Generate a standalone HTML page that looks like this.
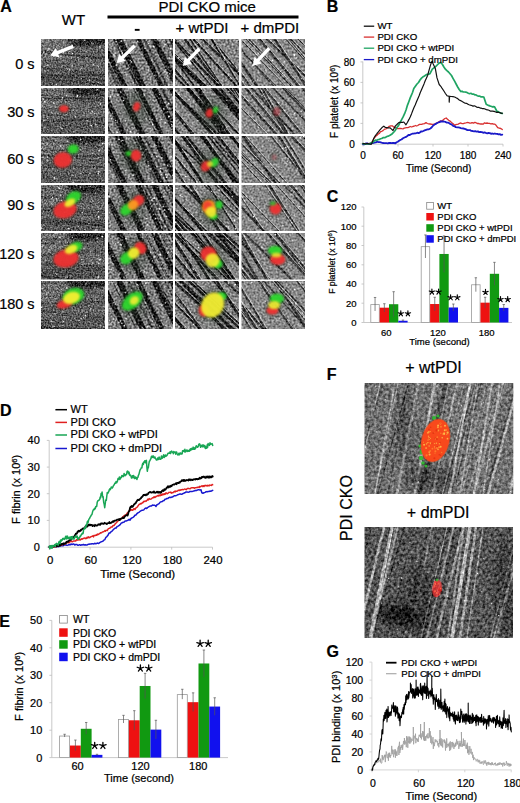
<!DOCTYPE html>
<html><head><meta charset="utf-8"><style>
html,body{margin:0;padding:0;background:#fff;overflow:hidden;}
svg{display:block;}
text{font-family:"Liberation Sans",sans-serif;stroke:#000;stroke-width:0.22px;}
</style></head><body>
<svg width="520" height="803" viewBox="0 0 520 803">
<defs>
<filter id="spk" x="0" y="0" width="1" height="1" color-interpolation-filters="sRGB">
<feTurbulence type="fractalNoise" baseFrequency="0.55" numOctaves="2" seed="4"/>
<feColorMatrix type="matrix" values="0 0 0 0 1  0 0 0 0 1  0 0 0 0 1  9 0 0 0 -5.2"/>
</filter>
<filter id="dspk" x="0" y="0" width="1" height="1" color-interpolation-filters="sRGB">
<feTurbulence type="fractalNoise" baseFrequency="0.35" numOctaves="2" seed="9"/>
<feColorMatrix type="matrix" values="0 0 0 0 0  0 0 0 0 0  0 0 0 0 0  -7 0 0 0 3.4"/>
</filter>
<filter id="bl" x="-50%" y="-50%" width="200%" height="200%"><feGaussianBlur stdDeviation="0.9"/></filter>
<filter id="bl2" x="-50%" y="-50%" width="200%" height="200%"><feGaussianBlur stdDeviation="0.6"/></filter>
<filter id="bgr" x="-20%" y="-20%" width="140%" height="140%" color-interpolation-filters="sRGB">
<feTurbulence type="fractalNoise" baseFrequency="0.7" numOctaves="2" seed="21" result="n"/>
<feColorMatrix in="n" type="matrix" values="1.2 0 0 0 -0.1  1.2 0 0 0 -0.1  1.2 0 0 0 -0.1  0 0 0 0 1" result="g"/>
<feBlend in="SourceGraphic" in2="g" mode="soft-light" result="c"/>
<feComposite in="c" in2="SourceGraphic" operator="in"/>
</filter>
<filter id="bl3" x="-50%" y="-50%" width="200%" height="200%"><feGaussianBlur stdDeviation="3"/></filter>
<filter id="gr0" x="0" y="0" width="1" height="1" color-interpolation-filters="sRGB">
<feTurbulence type="fractalNoise" baseFrequency="0.6" numOctaves="2" seed="3" result="n"/>
<feColorMatrix in="n" type="matrix" values="1 0 0 0 0  1 0 0 0 0  1 0 0 0 0  0 0 0 0 1" result="g"/>
<feComposite in="SourceGraphic" in2="g" operator="arithmetic" k1="0" k2="1" k3="0.85" k4="-0.425" result="c"/>
<feGaussianBlur in="c" stdDeviation="0.5"/>
</filter>
<filter id="gr1" x="0" y="0" width="1" height="1" color-interpolation-filters="sRGB">
<feTurbulence type="fractalNoise" baseFrequency="0.5" numOctaves="2" seed="5" result="n"/>
<feColorMatrix in="n" type="matrix" values="1 0 0 0 0  1 0 0 0 0  1 0 0 0 0  0 0 0 0 1" result="g"/>
<feComposite in="SourceGraphic" in2="g" operator="arithmetic" k1="0" k2="1" k3="1.0" k4="-0.5" result="c"/>
<feGaussianBlur in="c" stdDeviation="0.5"/>
</filter>
<filter id="gr2" x="0" y="0" width="1" height="1" color-interpolation-filters="sRGB">
<feTurbulence type="fractalNoise" baseFrequency="0.5" numOctaves="2" seed="6" result="n"/>
<feColorMatrix in="n" type="matrix" values="1 0 0 0 0  1 0 0 0 0  1 0 0 0 0  0 0 0 0 1" result="g"/>
<feComposite in="SourceGraphic" in2="g" operator="arithmetic" k1="0" k2="1" k3="0.9" k4="-0.45" result="c"/>
<feGaussianBlur in="c" stdDeviation="0.5"/>
</filter>
<filter id="gr3" x="0" y="0" width="1" height="1" color-interpolation-filters="sRGB">
<feTurbulence type="fractalNoise" baseFrequency="0.5" numOctaves="2" seed="7" result="n"/>
<feColorMatrix in="n" type="matrix" values="1 0 0 0 0  1 0 0 0 0  1 0 0 0 0  0 0 0 0 1" result="g"/>
<feComposite in="SourceGraphic" in2="g" operator="arithmetic" k1="0" k2="1" k3="0.8" k4="-0.4" result="c"/>
<feGaussianBlur in="c" stdDeviation="0.5"/>
</filter>
<filter id="grF1" x="0" y="0" width="1" height="1" color-interpolation-filters="sRGB">
<feTurbulence type="fractalNoise" baseFrequency="0.35" numOctaves="2" seed="8" result="n"/>
<feColorMatrix in="n" type="matrix" values="1 0 0 0 0  1 0 0 0 0  1 0 0 0 0  0 0 0 0 1" result="g"/>
<feComposite in="SourceGraphic" in2="g" operator="arithmetic" k1="0" k2="1" k3="0.75" k4="-0.375" result="c"/>
<feGaussianBlur in="c" stdDeviation="0.5"/>
</filter>
<filter id="grF2" x="0" y="0" width="1" height="1" color-interpolation-filters="sRGB">
<feTurbulence type="fractalNoise" baseFrequency="0.35" numOctaves="2" seed="9" result="n"/>
<feColorMatrix in="n" type="matrix" values="1 0 0 0 0  1 0 0 0 0  1 0 0 0 0  0 0 0 0 1" result="g"/>
<feComposite in="SourceGraphic" in2="g" operator="arithmetic" k1="0" k2="1" k3="0.8" k4="-0.4" result="c"/>
<feGaussianBlur in="c" stdDeviation="0.5"/>
</filter>
<clipPath id="c1"><rect x="41" y="39" width="64" height="47"/></clipPath>
<clipPath id="c2"><rect x="41" y="88" width="64" height="46"/></clipPath>
<clipPath id="c3"><rect x="41" y="136" width="64" height="47"/></clipPath>
<clipPath id="c4"><rect x="41" y="185" width="64" height="46"/></clipPath>
<clipPath id="c5"><rect x="41" y="233" width="64" height="46.5"/></clipPath>
<clipPath id="c6"><rect x="41" y="281" width="64" height="48"/></clipPath>
<clipPath id="c7"><rect x="108" y="39" width="65" height="47"/></clipPath>
<clipPath id="c8"><rect x="108" y="88" width="65" height="46"/></clipPath>
<clipPath id="c9"><rect x="108" y="136" width="65" height="47"/></clipPath>
<clipPath id="c10"><rect x="108" y="185" width="65" height="46"/></clipPath>
<clipPath id="c11"><rect x="108" y="233" width="65" height="46.5"/></clipPath>
<clipPath id="c12"><rect x="108" y="281" width="65" height="48"/></clipPath>
<clipPath id="c13"><rect x="175" y="39" width="64" height="47"/></clipPath>
<clipPath id="c14"><rect x="175" y="88" width="64" height="46"/></clipPath>
<clipPath id="c15"><rect x="175" y="136" width="64" height="47"/></clipPath>
<clipPath id="c16"><rect x="175" y="185" width="64" height="46"/></clipPath>
<clipPath id="c17"><rect x="175" y="233" width="64" height="46.5"/></clipPath>
<clipPath id="c18"><rect x="175" y="281" width="64" height="48"/></clipPath>
<clipPath id="c19"><rect x="241.5" y="39" width="63.5" height="47"/></clipPath>
<clipPath id="c20"><rect x="241.5" y="88" width="63.5" height="46"/></clipPath>
<clipPath id="c21"><rect x="241.5" y="136" width="63.5" height="47"/></clipPath>
<clipPath id="c22"><rect x="241.5" y="185" width="63.5" height="46"/></clipPath>
<clipPath id="c23"><rect x="241.5" y="233" width="63.5" height="46.5"/></clipPath>
<clipPath id="c24"><rect x="241.5" y="281" width="63.5" height="48"/></clipPath>
<filter id="bl4" x="-50%" y="-50%" width="200%" height="200%"><feGaussianBlur stdDeviation="5"/></filter>
<clipPath id="c25"><rect x="364.5" y="383" width="148.8" height="111"/></clipPath>
<clipPath id="c26"><rect x="364.5" y="527" width="148.5" height="111"/></clipPath>
</defs>
<rect width="520" height="803" fill="#fff"/>
<text x="0.20" y="11.70" font-size="16" text-anchor="start" font-weight="bold" fill="#000" >A</text>
<text x="326.80" y="11.70" font-size="16" text-anchor="start" font-weight="bold" fill="#000" >B</text>
<text x="326.80" y="202.30" font-size="16" text-anchor="start" font-weight="bold" fill="#000" >C</text>
<text x="0.00" y="415.70" font-size="16" text-anchor="start" font-weight="bold" fill="#000" >D</text>
<text x="-0.80" y="626.80" font-size="16" text-anchor="start" font-weight="bold" fill="#000" >E</text>
<text x="326.80" y="379.60" font-size="16" text-anchor="start" font-weight="bold" fill="#000" >F</text>
<text x="326.50" y="657.20" font-size="16" text-anchor="start" font-weight="bold" fill="#000" >G</text>
<text x="73.50" y="24.90" font-size="15" text-anchor="middle" fill="#000" >WT</text>
<text x="207.20" y="11.70" font-size="15" text-anchor="middle" fill="#000" >PDI CKO mice</text>
<rect x="107.5" y="15.5" width="191" height="3" fill="#000"/>
<rect x="134.8" y="28.9" width="4.8" height="1.9" fill="#000"/>
<text x="202.00" y="32.80" font-size="15" text-anchor="middle" fill="#000" >+ wtPDI</text>
<text x="269.90" y="32.80" font-size="15" text-anchor="middle" fill="#000" >+ dmPDI</text>
<text x="34.60" y="69.40" font-size="14.5" text-anchor="end" fill="#000" stroke="#000" stroke-width="0.35">0 s</text>
<text x="34.60" y="116.70" font-size="14.5" text-anchor="end" fill="#000" stroke="#000" stroke-width="0.35">30 s</text>
<text x="34.60" y="163.60" font-size="14.5" text-anchor="end" fill="#000" stroke="#000" stroke-width="0.35">60 s</text>
<text x="34.60" y="209.60" font-size="14.5" text-anchor="end" fill="#000" stroke="#000" stroke-width="0.35">90 s</text>
<text x="34.60" y="258.60" font-size="14.5" text-anchor="end" fill="#000" stroke="#000" stroke-width="0.35">120 s</text>
<text x="34.60" y="309.00" font-size="14.5" text-anchor="end" fill="#000" stroke="#000" stroke-width="0.35">180 s</text>
<g clip-path="url(#c1)"><g filter="url(#gr0)">
<rect x="40" y="38" width="66" height="49" fill="rgb(100,100,100)"/>
<rect x="41" y="39" width="32.0" height="21.2" fill="#fff" opacity="0.08"/>
<ellipse cx="87" cy="41" rx="20" ry="5.5" fill="#000" opacity="0.55" filter="url(#bl)"/>
<rect x="41" y="74.2" width="64" height="11.8" fill="#000" opacity="0.12"/>
<line x1="36" y1="78.7" x2="110" y2="84.8" stroke="#000" stroke-width="1.3" opacity="0.22"/>
<line x1="36" y1="51.2" x2="110" y2="53.3" stroke="#000" stroke-width="1.3" opacity="0.22"/>
<line x1="36" y1="75.8" x2="110" y2="74.7" stroke="#000" stroke-width="1.4" opacity="0.22"/>
<line x1="36" y1="66.4" x2="110" y2="74.9" stroke="#000" stroke-width="1.4" opacity="0.22"/>
<line x1="36" y1="52.2" x2="110" y2="58.3" stroke="#000" stroke-width="1.5" opacity="0.22"/>
<line x1="36" y1="50.8" x2="110" y2="59.3" stroke="#000" stroke-width="2.0" opacity="0.22"/>
<line x1="36" y1="77.1" x2="110" y2="85.5" stroke="#000" stroke-width="1.2" opacity="0.22"/>
<line x1="36" y1="73.3" x2="110" y2="81.7" stroke="#000" stroke-width="1.6" opacity="0.22"/>
<line x1="36" y1="61.2" x2="110" y2="56.8" stroke="#000" stroke-width="1.3" opacity="0.22"/>
<line x1="36" y1="67.7" x2="110" y2="76.3" stroke="#000" stroke-width="2.0" opacity="0.22"/>
<line x1="36" y1="61.4" x2="110" y2="69.3" stroke="#000" stroke-width="1.1" opacity="0.22"/>
<line x1="36" y1="76.8" x2="110" y2="79.6" stroke="#000" stroke-width="0.8" opacity="0.22"/>
<circle cx="87.1" cy="57.7" r="0.83" fill="#f4f4f4" opacity="0.77"/>
<circle cx="41.1" cy="62.2" r="0.85" fill="#f4f4f4" opacity="0.60"/>
<circle cx="61.8" cy="79.9" r="0.58" fill="#f4f4f4" opacity="0.73"/>
<circle cx="56.3" cy="84.5" r="0.82" fill="#f4f4f4" opacity="0.68"/>
<circle cx="46.1" cy="54.0" r="0.70" fill="#f4f4f4" opacity="0.87"/>
<circle cx="48.0" cy="64.9" r="0.78" fill="#f4f4f4" opacity="0.72"/>
<circle cx="93.1" cy="64.4" r="0.89" fill="#f4f4f4" opacity="0.74"/>
<circle cx="78.6" cy="59.9" r="0.74" fill="#f4f4f4" opacity="0.65"/>
<circle cx="77.8" cy="52.6" r="0.58" fill="#f4f4f4" opacity="0.57"/>
<circle cx="80.2" cy="69.9" r="0.69" fill="#f4f4f4" opacity="0.54"/>
<circle cx="89.5" cy="80.2" r="0.87" fill="#f4f4f4" opacity="0.84"/>
<circle cx="98.5" cy="82.4" r="0.72" fill="#f4f4f4" opacity="0.66"/>
<circle cx="86.1" cy="52.0" r="0.82" fill="#f4f4f4" opacity="0.84"/>
<circle cx="98.3" cy="66.7" r="0.88" fill="#f4f4f4" opacity="0.73"/>
<circle cx="69.8" cy="70.0" r="0.90" fill="#f4f4f4" opacity="0.87"/>
<circle cx="91.8" cy="42.9" r="0.75" fill="#f4f4f4" opacity="0.69"/>
<circle cx="81.3" cy="78.7" r="0.60" fill="#f4f4f4" opacity="0.79"/>
<circle cx="48.5" cy="49.4" r="0.82" fill="#f4f4f4" opacity="0.63"/>
<circle cx="93.2" cy="43.7" r="0.56" fill="#f4f4f4" opacity="0.78"/>
<circle cx="43.9" cy="66.0" r="0.86" fill="#f4f4f4" opacity="0.71"/>
<circle cx="84.6" cy="40.3" r="0.75" fill="#f4f4f4" opacity="0.74"/>
<circle cx="77.9" cy="57.4" r="0.65" fill="#f4f4f4" opacity="0.89"/>
<circle cx="43.3" cy="40.0" r="0.88" fill="#f4f4f4" opacity="0.57"/>
<circle cx="48.9" cy="48.9" r="0.82" fill="#f4f4f4" opacity="0.87"/>
<circle cx="42.5" cy="59.0" r="0.54" fill="#f4f4f4" opacity="0.60"/>
<circle cx="55.1" cy="69.4" r="0.64" fill="#f4f4f4" opacity="0.57"/>
<circle cx="73.2" cy="40.9" r="0.54" fill="#f4f4f4" opacity="0.90"/>
<circle cx="53.8" cy="55.9" r="0.79" fill="#f4f4f4" opacity="0.84"/>
<circle cx="99.8" cy="47.0" r="0.77" fill="#f4f4f4" opacity="0.89"/>
<circle cx="44.7" cy="70.8" r="0.84" fill="#f4f4f4" opacity="0.64"/>
<circle cx="57.0" cy="67.0" r="0.68" fill="#f4f4f4" opacity="0.57"/>
<circle cx="71.2" cy="58.3" r="0.73" fill="#f4f4f4" opacity="0.70"/>
<circle cx="60.9" cy="55.8" r="0.84" fill="#f4f4f4" opacity="0.60"/>
<circle cx="76.9" cy="39.6" r="0.80" fill="#f4f4f4" opacity="0.63"/>
<circle cx="43.9" cy="52.2" r="0.60" fill="#f4f4f4" opacity="0.88"/>
<circle cx="63.5" cy="52.5" r="0.64" fill="#f4f4f4" opacity="0.88"/>
<circle cx="81.6" cy="68.2" r="0.79" fill="#f4f4f4" opacity="0.66"/>
<circle cx="67.5" cy="69.6" r="0.50" fill="#f4f4f4" opacity="0.58"/>
<circle cx="62.4" cy="50.3" r="0.75" fill="#f4f4f4" opacity="0.65"/>
<circle cx="97.0" cy="65.7" r="0.67" fill="#f4f4f4" opacity="0.66"/>
<circle cx="85.9" cy="58.7" r="0.76" fill="#f4f4f4" opacity="0.52"/>
<circle cx="69.5" cy="51.2" r="0.56" fill="#f4f4f4" opacity="0.71"/>
<circle cx="72.2" cy="65.4" r="0.80" fill="#f4f4f4" opacity="0.85"/>
<circle cx="72.7" cy="53.7" r="0.69" fill="#f4f4f4" opacity="0.82"/>
<circle cx="97.0" cy="77.2" r="0.58" fill="#f4f4f4" opacity="0.90"/>
</g>
<path d="M72.7 44.7 L57.0 51.0 L55.8 48.0 L50.2 55.6 L59.5 57.3 L58.3 54.2 L73.9 47.9Z" fill="#fff"/>
</g>
<g clip-path="url(#c2)"><g filter="url(#gr0)">
<rect x="40" y="87" width="66" height="48" fill="rgb(100,100,100)"/>
<rect x="41" y="88" width="32.0" height="20.7" fill="#fff" opacity="0.08"/>
<ellipse cx="87" cy="90" rx="20" ry="5.5" fill="#000" opacity="0.55" filter="url(#bl)"/>
<rect x="41" y="122.5" width="64" height="11.5" fill="#000" opacity="0.12"/>
<line x1="36" y1="94.2" x2="110" y2="101.7" stroke="#000" stroke-width="1.7" opacity="0.22"/>
<line x1="36" y1="99.7" x2="110" y2="101.7" stroke="#000" stroke-width="1.3" opacity="0.22"/>
<line x1="36" y1="118.0" x2="110" y2="124.6" stroke="#000" stroke-width="0.9" opacity="0.22"/>
<line x1="36" y1="89.3" x2="110" y2="96.7" stroke="#000" stroke-width="1.3" opacity="0.22"/>
<line x1="36" y1="123.1" x2="110" y2="117.1" stroke="#000" stroke-width="1.3" opacity="0.22"/>
<line x1="36" y1="121.2" x2="110" y2="118.9" stroke="#000" stroke-width="1.9" opacity="0.22"/>
<line x1="36" y1="129.5" x2="110" y2="124.0" stroke="#000" stroke-width="0.8" opacity="0.22"/>
<line x1="36" y1="112.9" x2="110" y2="121.9" stroke="#000" stroke-width="1.3" opacity="0.22"/>
<line x1="36" y1="98.0" x2="110" y2="98.7" stroke="#000" stroke-width="0.8" opacity="0.22"/>
<line x1="36" y1="98.2" x2="110" y2="99.2" stroke="#000" stroke-width="1.4" opacity="0.22"/>
<line x1="36" y1="98.7" x2="110" y2="96.4" stroke="#000" stroke-width="1.1" opacity="0.22"/>
<line x1="36" y1="109.1" x2="110" y2="107.8" stroke="#000" stroke-width="0.8" opacity="0.22"/>
<circle cx="94.6" cy="113.6" r="0.76" fill="#f4f4f4" opacity="0.57"/>
<circle cx="104.5" cy="127.6" r="0.55" fill="#f4f4f4" opacity="0.63"/>
<circle cx="87.2" cy="120.7" r="0.87" fill="#f4f4f4" opacity="0.67"/>
<circle cx="94.1" cy="118.8" r="0.62" fill="#f4f4f4" opacity="0.74"/>
<circle cx="97.5" cy="126.9" r="0.70" fill="#f4f4f4" opacity="0.74"/>
<circle cx="43.2" cy="99.2" r="0.82" fill="#f4f4f4" opacity="0.67"/>
<circle cx="52.1" cy="113.2" r="0.78" fill="#f4f4f4" opacity="0.77"/>
<circle cx="65.0" cy="108.2" r="0.70" fill="#f4f4f4" opacity="0.81"/>
<circle cx="74.3" cy="106.1" r="0.70" fill="#f4f4f4" opacity="0.51"/>
<circle cx="43.8" cy="120.4" r="0.89" fill="#f4f4f4" opacity="0.74"/>
<circle cx="66.2" cy="95.8" r="0.70" fill="#f4f4f4" opacity="0.89"/>
<circle cx="90.3" cy="112.8" r="0.84" fill="#f4f4f4" opacity="0.59"/>
<circle cx="73.9" cy="131.8" r="0.73" fill="#f4f4f4" opacity="0.68"/>
<circle cx="58.2" cy="113.2" r="0.88" fill="#f4f4f4" opacity="0.50"/>
<circle cx="91.2" cy="125.7" r="0.85" fill="#f4f4f4" opacity="0.80"/>
<circle cx="92.8" cy="111.9" r="0.72" fill="#f4f4f4" opacity="0.67"/>
<circle cx="44.6" cy="128.0" r="0.73" fill="#f4f4f4" opacity="0.58"/>
<circle cx="73.3" cy="110.3" r="0.64" fill="#f4f4f4" opacity="0.64"/>
<circle cx="75.5" cy="116.7" r="0.74" fill="#f4f4f4" opacity="0.68"/>
<circle cx="42.8" cy="98.6" r="0.57" fill="#f4f4f4" opacity="0.73"/>
<circle cx="96.1" cy="124.7" r="0.82" fill="#f4f4f4" opacity="0.83"/>
<circle cx="57.3" cy="126.7" r="0.77" fill="#f4f4f4" opacity="0.53"/>
<circle cx="42.1" cy="88.7" r="0.80" fill="#f4f4f4" opacity="0.60"/>
<circle cx="48.0" cy="116.7" r="0.64" fill="#f4f4f4" opacity="0.53"/>
<circle cx="51.2" cy="112.3" r="0.57" fill="#f4f4f4" opacity="0.61"/>
<circle cx="86.5" cy="108.9" r="0.63" fill="#f4f4f4" opacity="0.69"/>
<circle cx="42.5" cy="105.8" r="0.67" fill="#f4f4f4" opacity="0.58"/>
<circle cx="48.0" cy="129.4" r="0.70" fill="#f4f4f4" opacity="0.58"/>
<circle cx="79.8" cy="125.6" r="0.51" fill="#f4f4f4" opacity="0.51"/>
<circle cx="50.4" cy="121.1" r="0.56" fill="#f4f4f4" opacity="0.78"/>
<circle cx="84.4" cy="113.1" r="0.59" fill="#f4f4f4" opacity="0.89"/>
<circle cx="92.1" cy="111.8" r="0.59" fill="#f4f4f4" opacity="0.76"/>
<circle cx="66.3" cy="114.5" r="0.63" fill="#f4f4f4" opacity="0.75"/>
<circle cx="44.8" cy="101.7" r="0.89" fill="#f4f4f4" opacity="0.85"/>
<circle cx="60.6" cy="127.5" r="0.62" fill="#f4f4f4" opacity="0.88"/>
<circle cx="88.6" cy="107.1" r="0.60" fill="#f4f4f4" opacity="0.50"/>
<circle cx="97.2" cy="89.7" r="0.83" fill="#f4f4f4" opacity="0.88"/>
<circle cx="77.5" cy="95.9" r="0.85" fill="#f4f4f4" opacity="0.89"/>
<circle cx="86.1" cy="111.4" r="0.65" fill="#f4f4f4" opacity="0.64"/>
<circle cx="54.2" cy="119.0" r="0.67" fill="#f4f4f4" opacity="0.58"/>
<circle cx="47.7" cy="118.6" r="0.62" fill="#f4f4f4" opacity="0.70"/>
<circle cx="61.8" cy="128.1" r="0.86" fill="#f4f4f4" opacity="0.51"/>
<circle cx="53.9" cy="103.1" r="0.89" fill="#f4f4f4" opacity="0.81"/>
<circle cx="62.7" cy="97.8" r="0.77" fill="#f4f4f4" opacity="0.84"/>
<circle cx="100.7" cy="103.8" r="0.85" fill="#f4f4f4" opacity="0.77"/>
</g>
<g>
<ellipse cx="63.9" cy="108.8" rx="6.8" ry="5.5" transform="rotate(0 63.9 108.8)" fill="#1a2a1a" opacity="0.3" filter="url(#bl)"/>
<ellipse cx="63.9" cy="108.8" rx="4.8" ry="3.5" transform="rotate(0 63.9 108.8)" fill="#f03232" opacity="0.95" filter="url(#bl)"/>
</g>
</g>
<g clip-path="url(#c3)"><g filter="url(#gr0)">
<rect x="40" y="135" width="66" height="49" fill="rgb(100,100,100)"/>
<rect x="41" y="136" width="32.0" height="21.2" fill="#fff" opacity="0.08"/>
<ellipse cx="87" cy="138" rx="20" ry="5.5" fill="#000" opacity="0.55" filter="url(#bl)"/>
<rect x="41" y="171.2" width="64" height="11.8" fill="#000" opacity="0.12"/>
<line x1="36" y1="180.9" x2="110" y2="190.1" stroke="#000" stroke-width="0.9" opacity="0.22"/>
<line x1="36" y1="140.0" x2="110" y2="147.4" stroke="#000" stroke-width="1.7" opacity="0.22"/>
<line x1="36" y1="167.5" x2="110" y2="166.4" stroke="#000" stroke-width="1.5" opacity="0.22"/>
<line x1="36" y1="164.5" x2="110" y2="167.8" stroke="#000" stroke-width="1.0" opacity="0.22"/>
<line x1="36" y1="156.2" x2="110" y2="156.5" stroke="#000" stroke-width="1.7" opacity="0.22"/>
<line x1="36" y1="182.8" x2="110" y2="191.9" stroke="#000" stroke-width="1.5" opacity="0.22"/>
<line x1="36" y1="156.9" x2="110" y2="155.2" stroke="#000" stroke-width="0.8" opacity="0.22"/>
<line x1="36" y1="137.3" x2="110" y2="138.7" stroke="#000" stroke-width="1.2" opacity="0.22"/>
<line x1="36" y1="153.9" x2="110" y2="162.1" stroke="#000" stroke-width="1.4" opacity="0.22"/>
<line x1="36" y1="162.3" x2="110" y2="160.1" stroke="#000" stroke-width="0.8" opacity="0.22"/>
<line x1="36" y1="151.3" x2="110" y2="147.5" stroke="#000" stroke-width="1.4" opacity="0.22"/>
<line x1="36" y1="182.9" x2="110" y2="187.7" stroke="#000" stroke-width="1.0" opacity="0.22"/>
<circle cx="98.2" cy="173.4" r="0.79" fill="#f4f4f4" opacity="0.86"/>
<circle cx="89.8" cy="173.1" r="0.64" fill="#f4f4f4" opacity="0.89"/>
<circle cx="102.6" cy="143.6" r="0.80" fill="#f4f4f4" opacity="0.79"/>
<circle cx="70.5" cy="160.9" r="0.70" fill="#f4f4f4" opacity="0.87"/>
<circle cx="73.1" cy="175.1" r="0.64" fill="#f4f4f4" opacity="0.85"/>
<circle cx="98.6" cy="157.7" r="0.73" fill="#f4f4f4" opacity="0.87"/>
<circle cx="87.3" cy="158.9" r="0.59" fill="#f4f4f4" opacity="0.63"/>
<circle cx="85.8" cy="143.8" r="0.86" fill="#f4f4f4" opacity="0.61"/>
<circle cx="99.3" cy="150.5" r="0.88" fill="#f4f4f4" opacity="0.78"/>
<circle cx="73.3" cy="160.3" r="0.76" fill="#f4f4f4" opacity="0.74"/>
<circle cx="61.0" cy="145.8" r="0.70" fill="#f4f4f4" opacity="0.87"/>
<circle cx="80.9" cy="139.5" r="0.83" fill="#f4f4f4" opacity="0.79"/>
<circle cx="99.1" cy="145.0" r="0.80" fill="#f4f4f4" opacity="0.52"/>
<circle cx="82.8" cy="148.8" r="0.59" fill="#f4f4f4" opacity="0.85"/>
<circle cx="47.8" cy="160.6" r="0.84" fill="#f4f4f4" opacity="0.60"/>
<circle cx="54.5" cy="177.4" r="0.67" fill="#f4f4f4" opacity="0.79"/>
<circle cx="43.0" cy="153.0" r="0.57" fill="#f4f4f4" opacity="0.77"/>
<circle cx="46.3" cy="180.9" r="0.51" fill="#f4f4f4" opacity="0.79"/>
<circle cx="42.4" cy="148.0" r="0.83" fill="#f4f4f4" opacity="0.56"/>
<circle cx="52.8" cy="168.5" r="0.65" fill="#f4f4f4" opacity="0.52"/>
<circle cx="104.4" cy="143.1" r="0.51" fill="#f4f4f4" opacity="0.64"/>
<circle cx="80.4" cy="170.9" r="0.55" fill="#f4f4f4" opacity="0.63"/>
<circle cx="43.0" cy="157.1" r="0.81" fill="#f4f4f4" opacity="0.80"/>
<circle cx="98.7" cy="171.5" r="0.84" fill="#f4f4f4" opacity="0.78"/>
<circle cx="71.3" cy="146.6" r="0.76" fill="#f4f4f4" opacity="0.63"/>
<circle cx="47.5" cy="157.0" r="0.85" fill="#f4f4f4" opacity="0.55"/>
<circle cx="78.4" cy="154.5" r="0.71" fill="#f4f4f4" opacity="0.56"/>
<circle cx="102.4" cy="148.2" r="0.74" fill="#f4f4f4" opacity="0.67"/>
<circle cx="42.2" cy="162.2" r="0.56" fill="#f4f4f4" opacity="0.52"/>
<circle cx="43.1" cy="143.6" r="0.54" fill="#f4f4f4" opacity="0.75"/>
<circle cx="73.5" cy="182.2" r="0.87" fill="#f4f4f4" opacity="0.90"/>
<circle cx="55.9" cy="156.9" r="0.60" fill="#f4f4f4" opacity="0.74"/>
<circle cx="80.9" cy="173.6" r="0.78" fill="#f4f4f4" opacity="0.60"/>
<circle cx="68.1" cy="160.7" r="0.50" fill="#f4f4f4" opacity="0.51"/>
<circle cx="67.2" cy="141.2" r="0.79" fill="#f4f4f4" opacity="0.60"/>
<circle cx="47.4" cy="144.5" r="0.59" fill="#f4f4f4" opacity="0.59"/>
<circle cx="74.3" cy="157.8" r="0.62" fill="#f4f4f4" opacity="0.76"/>
<circle cx="54.6" cy="178.6" r="0.89" fill="#f4f4f4" opacity="0.79"/>
<circle cx="68.8" cy="160.0" r="0.73" fill="#f4f4f4" opacity="0.52"/>
<circle cx="67.8" cy="160.7" r="0.57" fill="#f4f4f4" opacity="0.54"/>
<circle cx="92.4" cy="153.2" r="0.71" fill="#f4f4f4" opacity="0.87"/>
<circle cx="80.1" cy="149.6" r="0.89" fill="#f4f4f4" opacity="0.65"/>
<circle cx="42.2" cy="168.2" r="0.54" fill="#f4f4f4" opacity="0.62"/>
<circle cx="94.8" cy="167.6" r="0.51" fill="#f4f4f4" opacity="0.68"/>
<circle cx="67.3" cy="158.8" r="0.58" fill="#f4f4f4" opacity="0.74"/>
</g>
<g>
<ellipse cx="62.8" cy="160" rx="11.2" ry="9.8" transform="rotate(-10 62.8 160)" fill="#1a2a1a" opacity="0.3" filter="url(#bl)"/>
<ellipse cx="73.2" cy="149" rx="7.5" ry="6.6" transform="rotate(-10 73.2 149)" fill="#1a2a1a" opacity="0.3" filter="url(#bl)"/>
<ellipse cx="62.8" cy="160" rx="9.2" ry="7.8" transform="rotate(-10 62.8 160)" fill="#f03232" opacity="0.95" filter="url(#bl)"/>
<ellipse cx="73.2" cy="149" rx="5.5" ry="4.6" transform="rotate(-10 73.2 149)" fill="#2ed82e" opacity="0.95" filter="url(#bl)"/>
</g>
</g>
<g clip-path="url(#c4)"><g filter="url(#gr0)">
<rect x="40" y="184" width="66" height="48" fill="rgb(100,100,100)"/>
<rect x="41" y="185" width="32.0" height="20.7" fill="#fff" opacity="0.08"/>
<ellipse cx="87" cy="187" rx="20" ry="5.5" fill="#000" opacity="0.55" filter="url(#bl)"/>
<rect x="41" y="219.5" width="64" height="11.5" fill="#000" opacity="0.12"/>
<line x1="36" y1="195.9" x2="110" y2="198.7" stroke="#000" stroke-width="1.2" opacity="0.22"/>
<line x1="36" y1="212.8" x2="110" y2="216.8" stroke="#000" stroke-width="0.9" opacity="0.22"/>
<line x1="36" y1="185.6" x2="110" y2="193.0" stroke="#000" stroke-width="1.1" opacity="0.22"/>
<line x1="36" y1="195.8" x2="110" y2="205.7" stroke="#000" stroke-width="1.4" opacity="0.22"/>
<line x1="36" y1="223.5" x2="110" y2="225.1" stroke="#000" stroke-width="1.6" opacity="0.22"/>
<line x1="36" y1="191.9" x2="110" y2="196.1" stroke="#000" stroke-width="1.8" opacity="0.22"/>
<line x1="36" y1="209.1" x2="110" y2="214.9" stroke="#000" stroke-width="1.6" opacity="0.22"/>
<line x1="36" y1="187.9" x2="110" y2="194.1" stroke="#000" stroke-width="1.5" opacity="0.22"/>
<line x1="36" y1="198.9" x2="110" y2="193.4" stroke="#000" stroke-width="1.8" opacity="0.22"/>
<line x1="36" y1="206.7" x2="110" y2="212.2" stroke="#000" stroke-width="1.9" opacity="0.22"/>
<line x1="36" y1="217.8" x2="110" y2="226.6" stroke="#000" stroke-width="1.3" opacity="0.22"/>
<line x1="36" y1="221.8" x2="110" y2="223.0" stroke="#000" stroke-width="1.9" opacity="0.22"/>
<circle cx="97.2" cy="189.5" r="0.55" fill="#f4f4f4" opacity="0.59"/>
<circle cx="102.8" cy="205.1" r="0.75" fill="#f4f4f4" opacity="0.62"/>
<circle cx="73.5" cy="202.7" r="0.64" fill="#f4f4f4" opacity="0.73"/>
<circle cx="78.4" cy="226.6" r="0.77" fill="#f4f4f4" opacity="0.87"/>
<circle cx="95.8" cy="230.6" r="0.77" fill="#f4f4f4" opacity="0.57"/>
<circle cx="96.1" cy="229.4" r="0.86" fill="#f4f4f4" opacity="0.73"/>
<circle cx="86.7" cy="194.7" r="0.83" fill="#f4f4f4" opacity="0.73"/>
<circle cx="59.2" cy="187.9" r="0.84" fill="#f4f4f4" opacity="0.90"/>
<circle cx="46.7" cy="221.8" r="0.66" fill="#f4f4f4" opacity="0.56"/>
<circle cx="59.8" cy="220.4" r="0.85" fill="#f4f4f4" opacity="0.52"/>
<circle cx="80.3" cy="187.1" r="0.79" fill="#f4f4f4" opacity="0.63"/>
<circle cx="97.4" cy="230.1" r="0.70" fill="#f4f4f4" opacity="0.90"/>
<circle cx="60.8" cy="188.5" r="0.74" fill="#f4f4f4" opacity="0.51"/>
<circle cx="53.6" cy="203.8" r="0.74" fill="#f4f4f4" opacity="0.56"/>
<circle cx="43.7" cy="224.9" r="0.63" fill="#f4f4f4" opacity="0.88"/>
<circle cx="98.4" cy="202.4" r="0.68" fill="#f4f4f4" opacity="0.71"/>
<circle cx="82.2" cy="212.4" r="0.72" fill="#f4f4f4" opacity="0.75"/>
<circle cx="101.2" cy="208.3" r="0.67" fill="#f4f4f4" opacity="0.79"/>
<circle cx="56.2" cy="198.8" r="0.89" fill="#f4f4f4" opacity="0.71"/>
<circle cx="76.1" cy="185.5" r="0.67" fill="#f4f4f4" opacity="0.73"/>
<circle cx="42.3" cy="213.3" r="0.75" fill="#f4f4f4" opacity="0.52"/>
<circle cx="81.1" cy="206.4" r="0.77" fill="#f4f4f4" opacity="0.64"/>
<circle cx="86.2" cy="218.9" r="0.51" fill="#f4f4f4" opacity="0.52"/>
<circle cx="84.3" cy="229.3" r="0.60" fill="#f4f4f4" opacity="0.68"/>
<circle cx="78.9" cy="199.7" r="0.65" fill="#f4f4f4" opacity="0.63"/>
<circle cx="64.6" cy="212.4" r="0.62" fill="#f4f4f4" opacity="0.65"/>
<circle cx="90.4" cy="186.2" r="0.73" fill="#f4f4f4" opacity="0.79"/>
<circle cx="60.8" cy="195.2" r="0.82" fill="#f4f4f4" opacity="0.60"/>
<circle cx="53.0" cy="205.0" r="0.78" fill="#f4f4f4" opacity="0.54"/>
<circle cx="61.6" cy="200.4" r="0.83" fill="#f4f4f4" opacity="0.68"/>
<circle cx="95.8" cy="192.8" r="0.63" fill="#f4f4f4" opacity="0.76"/>
<circle cx="97.6" cy="205.8" r="0.59" fill="#f4f4f4" opacity="0.55"/>
<circle cx="74.9" cy="193.8" r="0.82" fill="#f4f4f4" opacity="0.84"/>
<circle cx="52.7" cy="197.8" r="0.82" fill="#f4f4f4" opacity="0.76"/>
<circle cx="92.6" cy="200.9" r="0.55" fill="#f4f4f4" opacity="0.62"/>
<circle cx="91.8" cy="197.5" r="0.64" fill="#f4f4f4" opacity="0.67"/>
<circle cx="67.9" cy="203.8" r="0.87" fill="#f4f4f4" opacity="0.56"/>
<circle cx="41.3" cy="228.4" r="0.85" fill="#f4f4f4" opacity="0.89"/>
<circle cx="68.8" cy="228.7" r="0.87" fill="#f4f4f4" opacity="0.59"/>
<circle cx="88.7" cy="223.5" r="0.77" fill="#f4f4f4" opacity="0.71"/>
<circle cx="59.5" cy="200.7" r="0.59" fill="#f4f4f4" opacity="0.53"/>
<circle cx="78.7" cy="198.2" r="0.82" fill="#f4f4f4" opacity="0.52"/>
<circle cx="98.8" cy="216.9" r="0.87" fill="#f4f4f4" opacity="0.86"/>
<circle cx="98.6" cy="211.5" r="0.51" fill="#f4f4f4" opacity="0.80"/>
<circle cx="52.0" cy="198.8" r="0.77" fill="#f4f4f4" opacity="0.71"/>
</g>
<g>
<ellipse cx="65" cy="209.9" rx="13.7" ry="10.3" transform="rotate(-15 65 209.9)" fill="#1a2a1a" opacity="0.3" filter="url(#bl)"/>
<ellipse cx="73.6" cy="197.3" rx="10" ry="7.5" transform="rotate(-30 73.6 197.3)" fill="#1a2a1a" opacity="0.3" filter="url(#bl)"/>
<ellipse cx="69.9" cy="202.8" rx="8" ry="5.5" transform="rotate(-30 69.9 202.8)" fill="#1a2a1a" opacity="0.3" filter="url(#bl)"/>
<ellipse cx="65" cy="209.9" rx="11.7" ry="8.3" transform="rotate(-15 65 209.9)" fill="#f03232" opacity="0.95" filter="url(#bl)"/>
<ellipse cx="73.6" cy="197.3" rx="8" ry="5.5" transform="rotate(-30 73.6 197.3)" fill="#2ed82e" opacity="0.95" filter="url(#bl)"/>
<ellipse cx="69.9" cy="202.8" rx="6" ry="3.5" transform="rotate(-30 69.9 202.8)" fill="#f2ee30" opacity="0.95" filter="url(#bl)"/>
</g>
</g>
<g clip-path="url(#c5)"><g filter="url(#gr0)">
<rect x="40" y="232" width="66" height="48.5" fill="rgb(100,100,100)"/>
<rect x="41" y="233" width="32.0" height="20.9" fill="#fff" opacity="0.08"/>
<ellipse cx="87" cy="235" rx="20" ry="5.5" fill="#000" opacity="0.55" filter="url(#bl)"/>
<rect x="41" y="267.9" width="64" height="11.6" fill="#000" opacity="0.12"/>
<line x1="36" y1="244.0" x2="110" y2="239.6" stroke="#000" stroke-width="1.3" opacity="0.22"/>
<line x1="36" y1="240.2" x2="110" y2="235.3" stroke="#000" stroke-width="1.3" opacity="0.22"/>
<line x1="36" y1="275.7" x2="110" y2="282.5" stroke="#000" stroke-width="1.7" opacity="0.22"/>
<line x1="36" y1="243.3" x2="110" y2="245.9" stroke="#000" stroke-width="1.1" opacity="0.22"/>
<line x1="36" y1="241.0" x2="110" y2="236.7" stroke="#000" stroke-width="1.1" opacity="0.22"/>
<line x1="36" y1="276.1" x2="110" y2="283.4" stroke="#000" stroke-width="1.8" opacity="0.22"/>
<line x1="36" y1="270.2" x2="110" y2="267.3" stroke="#000" stroke-width="1.2" opacity="0.22"/>
<line x1="36" y1="262.2" x2="110" y2="267.9" stroke="#000" stroke-width="1.8" opacity="0.22"/>
<line x1="36" y1="273.9" x2="110" y2="269.3" stroke="#000" stroke-width="1.5" opacity="0.22"/>
<line x1="36" y1="264.2" x2="110" y2="266.3" stroke="#000" stroke-width="1.0" opacity="0.22"/>
<line x1="36" y1="255.0" x2="110" y2="250.5" stroke="#000" stroke-width="1.9" opacity="0.22"/>
<line x1="36" y1="273.2" x2="110" y2="276.0" stroke="#000" stroke-width="1.2" opacity="0.22"/>
<circle cx="99.2" cy="259.6" r="0.85" fill="#f4f4f4" opacity="0.84"/>
<circle cx="73.5" cy="252.2" r="0.74" fill="#f4f4f4" opacity="0.67"/>
<circle cx="51.3" cy="247.2" r="0.83" fill="#f4f4f4" opacity="0.52"/>
<circle cx="44.0" cy="262.1" r="0.61" fill="#f4f4f4" opacity="0.71"/>
<circle cx="71.2" cy="248.9" r="0.90" fill="#f4f4f4" opacity="0.58"/>
<circle cx="67.4" cy="242.4" r="0.75" fill="#f4f4f4" opacity="0.61"/>
<circle cx="63.8" cy="267.7" r="0.63" fill="#f4f4f4" opacity="0.72"/>
<circle cx="98.9" cy="237.7" r="0.52" fill="#f4f4f4" opacity="0.59"/>
<circle cx="90.0" cy="261.6" r="0.59" fill="#f4f4f4" opacity="0.63"/>
<circle cx="52.4" cy="254.3" r="0.52" fill="#f4f4f4" opacity="0.78"/>
<circle cx="98.3" cy="277.4" r="0.79" fill="#f4f4f4" opacity="0.88"/>
<circle cx="42.2" cy="246.4" r="0.89" fill="#f4f4f4" opacity="0.81"/>
<circle cx="67.3" cy="276.9" r="0.75" fill="#f4f4f4" opacity="0.83"/>
<circle cx="59.8" cy="241.9" r="0.68" fill="#f4f4f4" opacity="0.55"/>
<circle cx="65.4" cy="277.7" r="0.63" fill="#f4f4f4" opacity="0.50"/>
<circle cx="43.9" cy="240.9" r="0.81" fill="#f4f4f4" opacity="0.65"/>
<circle cx="59.6" cy="237.5" r="0.89" fill="#f4f4f4" opacity="0.67"/>
<circle cx="54.3" cy="235.8" r="0.52" fill="#f4f4f4" opacity="0.57"/>
<circle cx="84.3" cy="240.0" r="0.52" fill="#f4f4f4" opacity="0.70"/>
<circle cx="56.9" cy="279.4" r="0.55" fill="#f4f4f4" opacity="0.71"/>
<circle cx="90.5" cy="252.0" r="0.90" fill="#f4f4f4" opacity="0.69"/>
<circle cx="56.5" cy="252.1" r="0.51" fill="#f4f4f4" opacity="0.67"/>
<circle cx="56.9" cy="274.4" r="0.83" fill="#f4f4f4" opacity="0.70"/>
<circle cx="43.0" cy="244.8" r="0.60" fill="#f4f4f4" opacity="0.58"/>
<circle cx="55.8" cy="273.4" r="0.56" fill="#f4f4f4" opacity="0.52"/>
<circle cx="100.4" cy="259.3" r="0.90" fill="#f4f4f4" opacity="0.66"/>
<circle cx="98.7" cy="263.4" r="0.82" fill="#f4f4f4" opacity="0.80"/>
<circle cx="72.6" cy="237.3" r="0.58" fill="#f4f4f4" opacity="0.85"/>
<circle cx="98.6" cy="276.0" r="0.63" fill="#f4f4f4" opacity="0.76"/>
<circle cx="92.2" cy="262.9" r="0.83" fill="#f4f4f4" opacity="0.71"/>
<circle cx="82.9" cy="264.9" r="0.61" fill="#f4f4f4" opacity="0.87"/>
<circle cx="102.2" cy="236.5" r="0.89" fill="#f4f4f4" opacity="0.88"/>
<circle cx="83.8" cy="235.1" r="0.86" fill="#f4f4f4" opacity="0.55"/>
<circle cx="103.0" cy="264.0" r="0.52" fill="#f4f4f4" opacity="0.57"/>
<circle cx="81.7" cy="259.5" r="0.80" fill="#f4f4f4" opacity="0.87"/>
<circle cx="55.0" cy="233.2" r="0.87" fill="#f4f4f4" opacity="0.51"/>
<circle cx="97.1" cy="238.4" r="0.82" fill="#f4f4f4" opacity="0.81"/>
<circle cx="97.2" cy="258.6" r="0.85" fill="#f4f4f4" opacity="0.58"/>
<circle cx="84.0" cy="248.4" r="0.86" fill="#f4f4f4" opacity="0.81"/>
<circle cx="71.2" cy="257.5" r="0.51" fill="#f4f4f4" opacity="0.51"/>
<circle cx="79.0" cy="255.7" r="0.85" fill="#f4f4f4" opacity="0.74"/>
<circle cx="49.9" cy="249.9" r="0.81" fill="#f4f4f4" opacity="0.71"/>
<circle cx="41.7" cy="272.0" r="0.83" fill="#f4f4f4" opacity="0.53"/>
<circle cx="75.8" cy="250.7" r="0.81" fill="#f4f4f4" opacity="0.62"/>
<circle cx="56.0" cy="255.6" r="0.89" fill="#f4f4f4" opacity="0.54"/>
</g>
<g>
<ellipse cx="66" cy="258.5" rx="14.6" ry="11" transform="rotate(-10 66 258.5)" fill="#1a2a1a" opacity="0.3" filter="url(#bl)"/>
<ellipse cx="76" cy="246.8" rx="8.7" ry="6.6" transform="rotate(-25 76 246.8)" fill="#1a2a1a" opacity="0.3" filter="url(#bl)"/>
<ellipse cx="71.1" cy="249.3" rx="8.7" ry="6" transform="rotate(-25 71.1 249.3)" fill="#1a2a1a" opacity="0.3" filter="url(#bl)"/>
<ellipse cx="66" cy="258.5" rx="12.6" ry="9" transform="rotate(-10 66 258.5)" fill="#f03232" opacity="0.95" filter="url(#bl)"/>
<ellipse cx="76" cy="246.8" rx="6.7" ry="4.6" transform="rotate(-25 76 246.8)" fill="#2ed82e" opacity="0.95" filter="url(#bl)"/>
<ellipse cx="71.1" cy="249.3" rx="6.7" ry="4" transform="rotate(-25 71.1 249.3)" fill="#f2ee30" opacity="0.95" filter="url(#bl)"/>
</g>
</g>
<g clip-path="url(#c6)"><g filter="url(#gr0)">
<rect x="40" y="280" width="66" height="50" fill="rgb(100,100,100)"/>
<rect x="41" y="281" width="32.0" height="21.6" fill="#fff" opacity="0.08"/>
<ellipse cx="87" cy="283" rx="20" ry="5.5" fill="#000" opacity="0.55" filter="url(#bl)"/>
<rect x="41" y="317.0" width="64" height="12.0" fill="#000" opacity="0.12"/>
<line x1="36" y1="310.9" x2="110" y2="316.8" stroke="#000" stroke-width="1.8" opacity="0.22"/>
<line x1="36" y1="326.2" x2="110" y2="332.1" stroke="#000" stroke-width="1.9" opacity="0.22"/>
<line x1="36" y1="282.4" x2="110" y2="283.8" stroke="#000" stroke-width="1.9" opacity="0.22"/>
<line x1="36" y1="312.2" x2="110" y2="320.6" stroke="#000" stroke-width="0.9" opacity="0.22"/>
<line x1="36" y1="303.5" x2="110" y2="301.5" stroke="#000" stroke-width="1.5" opacity="0.22"/>
<line x1="36" y1="308.5" x2="110" y2="302.8" stroke="#000" stroke-width="1.1" opacity="0.22"/>
<line x1="36" y1="294.4" x2="110" y2="303.1" stroke="#000" stroke-width="1.7" opacity="0.22"/>
<line x1="36" y1="288.7" x2="110" y2="295.4" stroke="#000" stroke-width="1.0" opacity="0.22"/>
<line x1="36" y1="310.6" x2="110" y2="306.7" stroke="#000" stroke-width="0.8" opacity="0.22"/>
<line x1="36" y1="322.8" x2="110" y2="320.2" stroke="#000" stroke-width="1.1" opacity="0.22"/>
<line x1="36" y1="328.2" x2="110" y2="336.1" stroke="#000" stroke-width="1.1" opacity="0.22"/>
<line x1="36" y1="327.2" x2="110" y2="329.8" stroke="#000" stroke-width="1.6" opacity="0.22"/>
<circle cx="54.1" cy="326.2" r="0.78" fill="#f4f4f4" opacity="0.89"/>
<circle cx="98.2" cy="295.3" r="0.64" fill="#f4f4f4" opacity="0.57"/>
<circle cx="50.3" cy="284.1" r="0.62" fill="#f4f4f4" opacity="0.74"/>
<circle cx="41.2" cy="313.5" r="0.64" fill="#f4f4f4" opacity="0.62"/>
<circle cx="93.4" cy="304.1" r="0.63" fill="#f4f4f4" opacity="0.69"/>
<circle cx="86.1" cy="283.7" r="0.89" fill="#f4f4f4" opacity="0.51"/>
<circle cx="89.0" cy="321.6" r="0.51" fill="#f4f4f4" opacity="0.82"/>
<circle cx="64.4" cy="308.8" r="0.50" fill="#f4f4f4" opacity="0.52"/>
<circle cx="52.6" cy="326.8" r="0.58" fill="#f4f4f4" opacity="0.80"/>
<circle cx="100.5" cy="326.2" r="0.64" fill="#f4f4f4" opacity="0.64"/>
<circle cx="74.6" cy="318.2" r="0.54" fill="#f4f4f4" opacity="0.80"/>
<circle cx="92.0" cy="322.3" r="0.51" fill="#f4f4f4" opacity="0.88"/>
<circle cx="46.8" cy="297.4" r="0.74" fill="#f4f4f4" opacity="0.87"/>
<circle cx="62.8" cy="325.4" r="0.72" fill="#f4f4f4" opacity="0.62"/>
<circle cx="61.3" cy="289.5" r="0.53" fill="#f4f4f4" opacity="0.56"/>
<circle cx="85.1" cy="328.8" r="0.56" fill="#f4f4f4" opacity="0.52"/>
<circle cx="104.1" cy="306.6" r="0.66" fill="#f4f4f4" opacity="0.59"/>
<circle cx="79.0" cy="320.7" r="0.68" fill="#f4f4f4" opacity="0.67"/>
<circle cx="44.6" cy="325.0" r="0.51" fill="#f4f4f4" opacity="0.70"/>
<circle cx="94.7" cy="287.3" r="0.79" fill="#f4f4f4" opacity="0.88"/>
<circle cx="81.3" cy="318.8" r="0.54" fill="#f4f4f4" opacity="0.67"/>
<circle cx="50.6" cy="321.5" r="0.62" fill="#f4f4f4" opacity="0.68"/>
<circle cx="105.0" cy="321.9" r="0.89" fill="#f4f4f4" opacity="0.68"/>
<circle cx="72.2" cy="316.0" r="0.69" fill="#f4f4f4" opacity="0.62"/>
<circle cx="66.8" cy="288.0" r="0.65" fill="#f4f4f4" opacity="0.90"/>
<circle cx="102.4" cy="311.1" r="0.70" fill="#f4f4f4" opacity="0.64"/>
<circle cx="46.7" cy="294.1" r="0.81" fill="#f4f4f4" opacity="0.85"/>
<circle cx="64.1" cy="318.7" r="0.81" fill="#f4f4f4" opacity="0.78"/>
<circle cx="83.5" cy="317.5" r="0.65" fill="#f4f4f4" opacity="0.78"/>
<circle cx="59.0" cy="304.3" r="0.81" fill="#f4f4f4" opacity="0.78"/>
<circle cx="59.8" cy="326.4" r="0.76" fill="#f4f4f4" opacity="0.73"/>
<circle cx="41.7" cy="307.3" r="0.60" fill="#f4f4f4" opacity="0.77"/>
<circle cx="70.6" cy="320.2" r="0.76" fill="#f4f4f4" opacity="0.82"/>
<circle cx="63.3" cy="311.9" r="0.80" fill="#f4f4f4" opacity="0.83"/>
<circle cx="63.4" cy="321.5" r="0.85" fill="#f4f4f4" opacity="0.78"/>
<circle cx="103.5" cy="326.9" r="0.71" fill="#f4f4f4" opacity="0.71"/>
<circle cx="51.6" cy="321.2" r="0.87" fill="#f4f4f4" opacity="0.69"/>
<circle cx="85.3" cy="315.5" r="0.79" fill="#f4f4f4" opacity="0.57"/>
<circle cx="90.9" cy="308.9" r="0.77" fill="#f4f4f4" opacity="0.67"/>
<circle cx="80.9" cy="318.2" r="0.75" fill="#f4f4f4" opacity="0.79"/>
<circle cx="42.8" cy="288.7" r="0.68" fill="#f4f4f4" opacity="0.76"/>
<circle cx="55.0" cy="313.9" r="0.75" fill="#f4f4f4" opacity="0.52"/>
<circle cx="71.2" cy="291.9" r="0.52" fill="#f4f4f4" opacity="0.55"/>
<circle cx="61.3" cy="289.7" r="0.58" fill="#f4f4f4" opacity="0.51"/>
<circle cx="70.8" cy="299.3" r="0.74" fill="#f4f4f4" opacity="0.74"/>
</g>
<g>
<ellipse cx="73.5" cy="296" rx="13" ry="9.8" transform="rotate(-20 73.5 296)" fill="#1a2a1a" opacity="0.3" filter="url(#bl)"/>
<ellipse cx="64.5" cy="304" rx="10" ry="6.3" transform="rotate(-15 64.5 304)" fill="#1a2a1a" opacity="0.3" filter="url(#bl)"/>
<ellipse cx="71.5" cy="297.8" rx="10.8" ry="7.8" transform="rotate(-20 71.5 297.8)" fill="#1a2a1a" opacity="0.3" filter="url(#bl)"/>
<ellipse cx="73.5" cy="296" rx="11" ry="7.8" transform="rotate(-20 73.5 296)" fill="#2ed82e" opacity="0.95" filter="url(#bl)"/>
<ellipse cx="64.5" cy="304" rx="8" ry="4.3" transform="rotate(-15 64.5 304)" fill="#f03232" opacity="0.95" filter="url(#bl)"/>
<ellipse cx="71.5" cy="297.8" rx="8.8" ry="5.8" transform="rotate(-20 71.5 297.8)" fill="#f2ee30" opacity="0.97" filter="url(#bl)"/>
</g>
</g>
<g clip-path="url(#c7)"><g filter="url(#gr1)">
<rect x="107" y="38" width="67" height="49" fill="rgb(125,125,125)"/>
<line x1="100.0" y1="37" x2="125.5" y2="88" stroke="rgb(18,18,18)" stroke-width="5" opacity="0.9"/>
<line x1="118.0" y1="37" x2="143.5" y2="88" stroke="rgb(18,18,18)" stroke-width="6" opacity="0.9"/>
<line x1="137.0" y1="37" x2="162.5" y2="88" stroke="rgb(18,18,18)" stroke-width="4.5" opacity="0.9"/>
<line x1="153.0" y1="37" x2="178.5" y2="88" stroke="rgb(18,18,18)" stroke-width="5.5" opacity="0.9"/>
<line x1="170.0" y1="37" x2="195.5" y2="88" stroke="rgb(18,18,18)" stroke-width="4" opacity="0.9"/>
<line x1="95.4" y1="37" x2="120.9" y2="88" stroke="rgb(40,40,40)" stroke-width="1.5" opacity="0.7"/>
<line x1="163.9" y1="37" x2="189.4" y2="88" stroke="rgb(40,40,40)" stroke-width="1" opacity="0.7"/>
<line x1="143.0" y1="37" x2="168.5" y2="88" stroke="rgb(40,40,40)" stroke-width="2" opacity="0.7"/>
<line x1="112.7" y1="37" x2="138.2" y2="88" stroke="rgb(40,40,40)" stroke-width="2" opacity="0.7"/>
<line x1="151.0" y1="37" x2="176.5" y2="88" stroke="rgb(40,40,40)" stroke-width="2" opacity="0.7"/>
<line x1="93.3" y1="37" x2="118.8" y2="88" stroke="rgb(40,40,40)" stroke-width="2" opacity="0.7"/>
<circle cx="137.6" cy="41.3" r="0.87" fill="#f4f4f4" opacity="0.88"/>
<circle cx="129.8" cy="53.5" r="0.81" fill="#f4f4f4" opacity="0.58"/>
<circle cx="119.6" cy="47.9" r="0.64" fill="#f4f4f4" opacity="0.75"/>
<circle cx="170.6" cy="48.9" r="0.88" fill="#f4f4f4" opacity="0.72"/>
<circle cx="166.6" cy="77.4" r="0.56" fill="#f4f4f4" opacity="0.76"/>
<circle cx="116.1" cy="39.3" r="0.66" fill="#f4f4f4" opacity="0.81"/>
<circle cx="144.8" cy="48.1" r="0.84" fill="#f4f4f4" opacity="0.87"/>
<circle cx="123.4" cy="60.1" r="0.76" fill="#f4f4f4" opacity="0.86"/>
<circle cx="116.2" cy="65.0" r="0.89" fill="#f4f4f4" opacity="0.74"/>
<circle cx="154.6" cy="75.4" r="0.70" fill="#f4f4f4" opacity="0.62"/>
<circle cx="146.4" cy="63.8" r="0.64" fill="#f4f4f4" opacity="0.84"/>
<circle cx="131.6" cy="61.7" r="0.80" fill="#f4f4f4" opacity="0.83"/>
<circle cx="165.9" cy="69.6" r="0.60" fill="#f4f4f4" opacity="0.84"/>
<circle cx="167.1" cy="72.6" r="0.81" fill="#f4f4f4" opacity="0.71"/>
<circle cx="140.1" cy="66.4" r="0.56" fill="#f4f4f4" opacity="0.77"/>
<circle cx="164.0" cy="46.7" r="0.80" fill="#f4f4f4" opacity="0.78"/>
<circle cx="115.9" cy="41.4" r="0.74" fill="#f4f4f4" opacity="0.59"/>
<circle cx="128.1" cy="68.2" r="0.76" fill="#f4f4f4" opacity="0.80"/>
<circle cx="144.9" cy="54.7" r="0.51" fill="#f4f4f4" opacity="0.55"/>
<circle cx="120.5" cy="63.7" r="0.79" fill="#f4f4f4" opacity="0.58"/>
<circle cx="133.3" cy="83.0" r="0.66" fill="#f4f4f4" opacity="0.79"/>
<circle cx="148.2" cy="70.0" r="0.69" fill="#f4f4f4" opacity="0.72"/>
<circle cx="153.6" cy="46.6" r="0.82" fill="#f4f4f4" opacity="0.85"/>
<circle cx="111.1" cy="48.3" r="0.60" fill="#f4f4f4" opacity="0.54"/>
<circle cx="117.1" cy="69.1" r="0.55" fill="#f4f4f4" opacity="0.53"/>
<circle cx="169.5" cy="57.9" r="0.72" fill="#f4f4f4" opacity="0.69"/>
<circle cx="130.3" cy="60.3" r="0.58" fill="#f4f4f4" opacity="0.73"/>
<circle cx="124.3" cy="45.8" r="0.58" fill="#f4f4f4" opacity="0.67"/>
<circle cx="168.5" cy="67.1" r="0.89" fill="#f4f4f4" opacity="0.66"/>
<circle cx="124.9" cy="72.4" r="0.58" fill="#f4f4f4" opacity="0.90"/>
<circle cx="133.4" cy="51.8" r="0.61" fill="#f4f4f4" opacity="0.62"/>
<circle cx="168.9" cy="85.6" r="0.72" fill="#f4f4f4" opacity="0.59"/>
<circle cx="108.6" cy="42.8" r="0.62" fill="#f4f4f4" opacity="0.76"/>
<circle cx="148.7" cy="79.1" r="0.83" fill="#f4f4f4" opacity="0.64"/>
<circle cx="151.8" cy="59.9" r="0.79" fill="#f4f4f4" opacity="0.57"/>
<circle cx="171.5" cy="40.1" r="0.75" fill="#f4f4f4" opacity="0.64"/>
<circle cx="160.0" cy="45.8" r="0.86" fill="#f4f4f4" opacity="0.50"/>
<circle cx="155.8" cy="72.1" r="0.70" fill="#f4f4f4" opacity="0.57"/>
<circle cx="132.8" cy="60.0" r="0.59" fill="#f4f4f4" opacity="0.56"/>
<circle cx="162.8" cy="64.8" r="0.61" fill="#f4f4f4" opacity="0.75"/>
<circle cx="149.1" cy="45.4" r="0.73" fill="#f4f4f4" opacity="0.73"/>
<circle cx="115.2" cy="53.1" r="0.85" fill="#f4f4f4" opacity="0.73"/>
<circle cx="122.5" cy="57.5" r="0.68" fill="#f4f4f4" opacity="0.78"/>
<circle cx="163.9" cy="43.1" r="0.52" fill="#f4f4f4" opacity="0.68"/>
<circle cx="109.3" cy="46.3" r="0.54" fill="#f4f4f4" opacity="0.54"/>
<circle cx="148.6" cy="43.5" r="0.73" fill="#f4f4f4" opacity="0.89"/>
<circle cx="117.1" cy="74.7" r="0.73" fill="#f4f4f4" opacity="0.57"/>
<circle cx="169.7" cy="73.6" r="0.65" fill="#f4f4f4" opacity="0.86"/>
<circle cx="114.8" cy="78.2" r="0.84" fill="#f4f4f4" opacity="0.55"/>
<circle cx="167.5" cy="75.8" r="0.87" fill="#f4f4f4" opacity="0.61"/>
<circle cx="156.0" cy="75.6" r="0.64" fill="#f4f4f4" opacity="0.51"/>
<circle cx="108.9" cy="62.8" r="0.72" fill="#f4f4f4" opacity="0.55"/>
<circle cx="149.0" cy="41.4" r="0.69" fill="#f4f4f4" opacity="0.70"/>
<circle cx="121.2" cy="41.2" r="0.86" fill="#f4f4f4" opacity="0.84"/>
<circle cx="146.2" cy="40.4" r="0.71" fill="#f4f4f4" opacity="0.89"/>
<circle cx="157.9" cy="71.4" r="0.52" fill="#f4f4f4" opacity="0.73"/>
<circle cx="123.1" cy="85.4" r="0.50" fill="#f4f4f4" opacity="0.59"/>
<circle cx="165.2" cy="44.6" r="0.62" fill="#f4f4f4" opacity="0.62"/>
<circle cx="165.3" cy="71.7" r="0.87" fill="#f4f4f4" opacity="0.58"/>
<circle cx="113.7" cy="55.1" r="0.81" fill="#f4f4f4" opacity="0.75"/>
<circle cx="168.8" cy="72.5" r="0.53" fill="#f4f4f4" opacity="0.63"/>
<circle cx="121.2" cy="51.6" r="0.77" fill="#f4f4f4" opacity="0.68"/>
<circle cx="157.2" cy="39.7" r="0.86" fill="#f4f4f4" opacity="0.56"/>
<circle cx="156.3" cy="78.7" r="0.52" fill="#f4f4f4" opacity="0.72"/>
<circle cx="171.4" cy="39.3" r="0.70" fill="#f4f4f4" opacity="0.67"/>
<circle cx="132.8" cy="48.1" r="0.57" fill="#f4f4f4" opacity="0.61"/>
<circle cx="122.1" cy="52.8" r="0.86" fill="#f4f4f4" opacity="0.88"/>
<circle cx="124.9" cy="40.3" r="0.61" fill="#f4f4f4" opacity="0.84"/>
<circle cx="119.4" cy="70.1" r="0.54" fill="#f4f4f4" opacity="0.64"/>
<circle cx="119.0" cy="68.0" r="0.65" fill="#f4f4f4" opacity="0.81"/>
</g>
<path d="M133.5 44.5 L121.3 56.3 L119.0 53.9 L116.7 63.1 L125.9 61.1 L123.6 58.8 L135.9 46.9Z" fill="#fff"/>
</g>
<g clip-path="url(#c8)"><g filter="url(#gr1)">
<rect x="107" y="87" width="67" height="48" fill="rgb(125,125,125)"/>
<line x1="100.0" y1="86" x2="125.0" y2="136" stroke="rgb(18,18,18)" stroke-width="5" opacity="0.9"/>
<line x1="118.0" y1="86" x2="143.0" y2="136" stroke="rgb(18,18,18)" stroke-width="6" opacity="0.9"/>
<line x1="137.0" y1="86" x2="162.0" y2="136" stroke="rgb(18,18,18)" stroke-width="4.5" opacity="0.9"/>
<line x1="153.0" y1="86" x2="178.0" y2="136" stroke="rgb(18,18,18)" stroke-width="5.5" opacity="0.9"/>
<line x1="170.0" y1="86" x2="195.0" y2="136" stroke="rgb(18,18,18)" stroke-width="4" opacity="0.9"/>
<line x1="132.4" y1="86" x2="157.4" y2="136" stroke="rgb(40,40,40)" stroke-width="1" opacity="0.7"/>
<line x1="160.2" y1="86" x2="185.2" y2="136" stroke="rgb(40,40,40)" stroke-width="2" opacity="0.7"/>
<line x1="161.5" y1="86" x2="186.5" y2="136" stroke="rgb(40,40,40)" stroke-width="1.5" opacity="0.7"/>
<line x1="87.1" y1="86" x2="112.1" y2="136" stroke="rgb(40,40,40)" stroke-width="2" opacity="0.7"/>
<line x1="101.2" y1="86" x2="126.2" y2="136" stroke="rgb(40,40,40)" stroke-width="1" opacity="0.7"/>
<line x1="161.0" y1="86" x2="186.0" y2="136" stroke="rgb(40,40,40)" stroke-width="1.5" opacity="0.7"/>
<circle cx="153.0" cy="97.8" r="0.89" fill="#f4f4f4" opacity="0.53"/>
<circle cx="120.6" cy="92.1" r="0.81" fill="#f4f4f4" opacity="0.65"/>
<circle cx="138.7" cy="103.0" r="0.75" fill="#f4f4f4" opacity="0.66"/>
<circle cx="121.5" cy="107.8" r="0.62" fill="#f4f4f4" opacity="0.54"/>
<circle cx="161.5" cy="119.3" r="0.77" fill="#f4f4f4" opacity="0.85"/>
<circle cx="133.7" cy="105.4" r="0.67" fill="#f4f4f4" opacity="0.66"/>
<circle cx="151.5" cy="88.3" r="0.69" fill="#f4f4f4" opacity="0.71"/>
<circle cx="130.5" cy="89.0" r="0.78" fill="#f4f4f4" opacity="0.50"/>
<circle cx="144.7" cy="95.1" r="0.51" fill="#f4f4f4" opacity="0.57"/>
<circle cx="112.3" cy="94.9" r="0.77" fill="#f4f4f4" opacity="0.79"/>
<circle cx="131.6" cy="118.0" r="0.69" fill="#f4f4f4" opacity="0.70"/>
<circle cx="164.9" cy="102.3" r="0.85" fill="#f4f4f4" opacity="0.78"/>
<circle cx="152.4" cy="88.3" r="0.53" fill="#f4f4f4" opacity="0.51"/>
<circle cx="130.5" cy="131.5" r="0.85" fill="#f4f4f4" opacity="0.84"/>
<circle cx="115.7" cy="120.5" r="0.81" fill="#f4f4f4" opacity="0.82"/>
<circle cx="159.5" cy="94.5" r="0.57" fill="#f4f4f4" opacity="0.82"/>
<circle cx="156.0" cy="129.1" r="0.68" fill="#f4f4f4" opacity="0.86"/>
<circle cx="117.1" cy="132.0" r="0.85" fill="#f4f4f4" opacity="0.64"/>
<circle cx="112.4" cy="113.2" r="0.78" fill="#f4f4f4" opacity="0.64"/>
<circle cx="111.7" cy="100.8" r="0.83" fill="#f4f4f4" opacity="0.54"/>
<circle cx="168.9" cy="99.5" r="0.58" fill="#f4f4f4" opacity="0.54"/>
<circle cx="171.8" cy="129.4" r="0.63" fill="#f4f4f4" opacity="0.54"/>
<circle cx="150.5" cy="128.8" r="0.50" fill="#f4f4f4" opacity="0.75"/>
<circle cx="163.7" cy="109.1" r="0.73" fill="#f4f4f4" opacity="0.82"/>
<circle cx="123.5" cy="100.6" r="0.76" fill="#f4f4f4" opacity="0.72"/>
<circle cx="142.8" cy="103.4" r="0.87" fill="#f4f4f4" opacity="0.62"/>
<circle cx="152.1" cy="129.1" r="0.66" fill="#f4f4f4" opacity="0.52"/>
<circle cx="122.3" cy="91.0" r="0.56" fill="#f4f4f4" opacity="0.55"/>
<circle cx="130.3" cy="105.0" r="0.68" fill="#f4f4f4" opacity="0.77"/>
<circle cx="152.0" cy="119.6" r="0.65" fill="#f4f4f4" opacity="0.77"/>
<circle cx="143.7" cy="93.9" r="0.72" fill="#f4f4f4" opacity="0.63"/>
<circle cx="151.9" cy="121.8" r="0.60" fill="#f4f4f4" opacity="0.67"/>
<circle cx="137.6" cy="101.7" r="0.52" fill="#f4f4f4" opacity="0.52"/>
<circle cx="172.5" cy="122.0" r="0.68" fill="#f4f4f4" opacity="0.77"/>
<circle cx="125.5" cy="120.7" r="0.88" fill="#f4f4f4" opacity="0.81"/>
<circle cx="138.2" cy="133.2" r="0.87" fill="#f4f4f4" opacity="0.52"/>
<circle cx="134.8" cy="108.8" r="0.61" fill="#f4f4f4" opacity="0.75"/>
<circle cx="117.3" cy="122.4" r="0.84" fill="#f4f4f4" opacity="0.52"/>
<circle cx="153.0" cy="100.2" r="0.76" fill="#f4f4f4" opacity="0.78"/>
<circle cx="171.5" cy="124.7" r="0.64" fill="#f4f4f4" opacity="0.79"/>
<circle cx="117.5" cy="120.8" r="0.67" fill="#f4f4f4" opacity="0.61"/>
<circle cx="123.5" cy="98.0" r="0.82" fill="#f4f4f4" opacity="0.54"/>
<circle cx="123.1" cy="96.8" r="0.56" fill="#f4f4f4" opacity="0.79"/>
<circle cx="146.2" cy="118.6" r="0.86" fill="#f4f4f4" opacity="0.68"/>
<circle cx="110.5" cy="96.7" r="0.71" fill="#f4f4f4" opacity="0.79"/>
<circle cx="167.7" cy="111.5" r="0.59" fill="#f4f4f4" opacity="0.74"/>
<circle cx="168.8" cy="103.3" r="0.87" fill="#f4f4f4" opacity="0.86"/>
<circle cx="145.5" cy="110.1" r="0.55" fill="#f4f4f4" opacity="0.54"/>
<circle cx="110.7" cy="116.1" r="0.79" fill="#f4f4f4" opacity="0.90"/>
<circle cx="147.2" cy="133.7" r="0.66" fill="#f4f4f4" opacity="0.55"/>
<circle cx="111.9" cy="101.3" r="0.71" fill="#f4f4f4" opacity="0.89"/>
<circle cx="127.3" cy="98.8" r="0.79" fill="#f4f4f4" opacity="0.66"/>
<circle cx="144.3" cy="95.0" r="0.84" fill="#f4f4f4" opacity="0.87"/>
<circle cx="157.1" cy="131.0" r="0.63" fill="#f4f4f4" opacity="0.51"/>
<circle cx="127.8" cy="129.3" r="0.69" fill="#f4f4f4" opacity="0.58"/>
<circle cx="117.8" cy="95.6" r="0.68" fill="#f4f4f4" opacity="0.87"/>
<circle cx="165.5" cy="122.9" r="0.80" fill="#f4f4f4" opacity="0.58"/>
<circle cx="158.5" cy="98.3" r="0.71" fill="#f4f4f4" opacity="0.51"/>
<circle cx="166.0" cy="93.9" r="0.74" fill="#f4f4f4" opacity="0.76"/>
<circle cx="149.9" cy="119.4" r="0.65" fill="#f4f4f4" opacity="0.82"/>
<circle cx="169.0" cy="116.4" r="0.89" fill="#f4f4f4" opacity="0.84"/>
<circle cx="111.6" cy="118.9" r="0.54" fill="#f4f4f4" opacity="0.76"/>
<circle cx="132.1" cy="127.3" r="0.52" fill="#f4f4f4" opacity="0.88"/>
<circle cx="110.8" cy="90.6" r="0.50" fill="#f4f4f4" opacity="0.55"/>
<circle cx="172.1" cy="126.4" r="0.87" fill="#f4f4f4" opacity="0.57"/>
<circle cx="152.7" cy="124.6" r="0.79" fill="#f4f4f4" opacity="0.61"/>
<circle cx="171.1" cy="121.5" r="0.77" fill="#f4f4f4" opacity="0.61"/>
<circle cx="133.8" cy="122.9" r="0.71" fill="#f4f4f4" opacity="0.70"/>
<circle cx="167.8" cy="107.3" r="0.84" fill="#f4f4f4" opacity="0.52"/>
<circle cx="142.5" cy="120.8" r="0.50" fill="#f4f4f4" opacity="0.78"/>
</g>
<ellipse cx="136.6" cy="108.8" rx="14" ry="17" fill="#223022" opacity="0.28" filter="url(#bl3)"/>
<g>
<ellipse cx="136.6" cy="106.8" rx="5.3" ry="6.8" transform="rotate(20 136.6 106.8)" fill="#1a2a1a" opacity="0.3" filter="url(#bl)"/>
<ellipse cx="136.6" cy="106.8" rx="3.3" ry="4.8" transform="rotate(20 136.6 106.8)" fill="#f03232" opacity="0.95" filter="url(#bl)"/>
</g>
</g>
<g clip-path="url(#c9)"><g filter="url(#gr1)">
<rect x="107" y="135" width="67" height="49" fill="rgb(125,125,125)"/>
<line x1="100.0" y1="134" x2="125.5" y2="185" stroke="rgb(18,18,18)" stroke-width="5" opacity="0.9"/>
<line x1="118.0" y1="134" x2="143.5" y2="185" stroke="rgb(18,18,18)" stroke-width="6" opacity="0.9"/>
<line x1="137.0" y1="134" x2="162.5" y2="185" stroke="rgb(18,18,18)" stroke-width="4.5" opacity="0.9"/>
<line x1="153.0" y1="134" x2="178.5" y2="185" stroke="rgb(18,18,18)" stroke-width="5.5" opacity="0.9"/>
<line x1="170.0" y1="134" x2="195.5" y2="185" stroke="rgb(18,18,18)" stroke-width="4" opacity="0.9"/>
<line x1="95.6" y1="134" x2="121.1" y2="185" stroke="rgb(40,40,40)" stroke-width="2" opacity="0.7"/>
<line x1="113.5" y1="134" x2="139.0" y2="185" stroke="rgb(40,40,40)" stroke-width="2" opacity="0.7"/>
<line x1="143.6" y1="134" x2="169.1" y2="185" stroke="rgb(40,40,40)" stroke-width="2" opacity="0.7"/>
<line x1="98.5" y1="134" x2="124.0" y2="185" stroke="rgb(40,40,40)" stroke-width="1.5" opacity="0.7"/>
<line x1="135.5" y1="134" x2="161.0" y2="185" stroke="rgb(40,40,40)" stroke-width="2" opacity="0.7"/>
<line x1="132.4" y1="134" x2="157.9" y2="185" stroke="rgb(40,40,40)" stroke-width="2" opacity="0.7"/>
<circle cx="142.5" cy="165.1" r="0.71" fill="#f4f4f4" opacity="0.85"/>
<circle cx="155.8" cy="153.7" r="0.59" fill="#f4f4f4" opacity="0.55"/>
<circle cx="160.7" cy="168.4" r="0.74" fill="#f4f4f4" opacity="0.68"/>
<circle cx="140.6" cy="146.4" r="0.71" fill="#f4f4f4" opacity="0.56"/>
<circle cx="148.4" cy="165.6" r="0.77" fill="#f4f4f4" opacity="0.60"/>
<circle cx="114.0" cy="151.7" r="0.78" fill="#f4f4f4" opacity="0.70"/>
<circle cx="156.6" cy="156.3" r="0.66" fill="#f4f4f4" opacity="0.86"/>
<circle cx="118.9" cy="145.7" r="0.74" fill="#f4f4f4" opacity="0.75"/>
<circle cx="136.1" cy="162.2" r="0.68" fill="#f4f4f4" opacity="0.77"/>
<circle cx="165.8" cy="174.8" r="0.76" fill="#f4f4f4" opacity="0.69"/>
<circle cx="169.6" cy="157.0" r="0.75" fill="#f4f4f4" opacity="0.85"/>
<circle cx="152.4" cy="154.4" r="0.80" fill="#f4f4f4" opacity="0.74"/>
<circle cx="167.5" cy="165.3" r="0.71" fill="#f4f4f4" opacity="0.89"/>
<circle cx="142.3" cy="154.7" r="0.88" fill="#f4f4f4" opacity="0.88"/>
<circle cx="119.2" cy="139.4" r="0.84" fill="#f4f4f4" opacity="0.85"/>
<circle cx="133.0" cy="148.0" r="0.77" fill="#f4f4f4" opacity="0.88"/>
<circle cx="121.9" cy="157.0" r="0.77" fill="#f4f4f4" opacity="0.59"/>
<circle cx="135.0" cy="142.7" r="0.69" fill="#f4f4f4" opacity="0.59"/>
<circle cx="113.2" cy="154.3" r="0.56" fill="#f4f4f4" opacity="0.55"/>
<circle cx="117.8" cy="155.6" r="0.63" fill="#f4f4f4" opacity="0.79"/>
<circle cx="134.9" cy="147.4" r="0.58" fill="#f4f4f4" opacity="0.62"/>
<circle cx="156.3" cy="145.5" r="0.69" fill="#f4f4f4" opacity="0.82"/>
<circle cx="161.9" cy="157.7" r="0.84" fill="#f4f4f4" opacity="0.76"/>
<circle cx="122.7" cy="140.4" r="0.57" fill="#f4f4f4" opacity="0.82"/>
<circle cx="133.3" cy="175.4" r="0.89" fill="#f4f4f4" opacity="0.87"/>
<circle cx="138.5" cy="136.4" r="0.61" fill="#f4f4f4" opacity="0.59"/>
<circle cx="150.2" cy="169.0" r="0.87" fill="#f4f4f4" opacity="0.78"/>
<circle cx="170.4" cy="166.0" r="0.69" fill="#f4f4f4" opacity="0.83"/>
<circle cx="125.8" cy="172.6" r="0.79" fill="#f4f4f4" opacity="0.85"/>
<circle cx="111.9" cy="144.9" r="0.88" fill="#f4f4f4" opacity="0.56"/>
<circle cx="137.3" cy="164.3" r="0.69" fill="#f4f4f4" opacity="0.85"/>
<circle cx="170.1" cy="152.0" r="0.55" fill="#f4f4f4" opacity="0.87"/>
<circle cx="137.5" cy="147.7" r="0.56" fill="#f4f4f4" opacity="0.50"/>
<circle cx="145.9" cy="149.2" r="0.72" fill="#f4f4f4" opacity="0.87"/>
<circle cx="139.5" cy="180.8" r="0.53" fill="#f4f4f4" opacity="0.80"/>
<circle cx="157.1" cy="181.1" r="0.51" fill="#f4f4f4" opacity="0.70"/>
<circle cx="144.2" cy="164.1" r="0.69" fill="#f4f4f4" opacity="0.61"/>
<circle cx="166.7" cy="177.3" r="0.78" fill="#f4f4f4" opacity="0.88"/>
<circle cx="144.0" cy="139.7" r="0.78" fill="#f4f4f4" opacity="0.54"/>
<circle cx="156.8" cy="166.5" r="0.58" fill="#f4f4f4" opacity="0.56"/>
<circle cx="112.4" cy="144.3" r="0.89" fill="#f4f4f4" opacity="0.59"/>
<circle cx="165.5" cy="142.3" r="0.64" fill="#f4f4f4" opacity="0.69"/>
<circle cx="131.3" cy="181.3" r="0.60" fill="#f4f4f4" opacity="0.69"/>
<circle cx="121.3" cy="141.1" r="0.78" fill="#f4f4f4" opacity="0.64"/>
<circle cx="139.7" cy="168.6" r="0.54" fill="#f4f4f4" opacity="0.52"/>
<circle cx="152.7" cy="182.7" r="0.51" fill="#f4f4f4" opacity="0.68"/>
<circle cx="172.7" cy="175.2" r="0.90" fill="#f4f4f4" opacity="0.71"/>
<circle cx="171.2" cy="138.6" r="0.69" fill="#f4f4f4" opacity="0.84"/>
<circle cx="133.4" cy="156.7" r="0.68" fill="#f4f4f4" opacity="0.65"/>
<circle cx="160.8" cy="181.7" r="0.59" fill="#f4f4f4" opacity="0.63"/>
<circle cx="160.2" cy="171.0" r="0.83" fill="#f4f4f4" opacity="0.77"/>
<circle cx="167.5" cy="175.7" r="0.75" fill="#f4f4f4" opacity="0.61"/>
<circle cx="113.5" cy="176.4" r="0.84" fill="#f4f4f4" opacity="0.86"/>
<circle cx="125.2" cy="170.7" r="0.87" fill="#f4f4f4" opacity="0.58"/>
<circle cx="109.5" cy="144.2" r="0.59" fill="#f4f4f4" opacity="0.77"/>
<circle cx="161.4" cy="174.5" r="0.78" fill="#f4f4f4" opacity="0.89"/>
<circle cx="171.2" cy="156.7" r="0.87" fill="#f4f4f4" opacity="0.79"/>
<circle cx="123.9" cy="163.5" r="0.57" fill="#f4f4f4" opacity="0.66"/>
<circle cx="160.8" cy="136.5" r="0.71" fill="#f4f4f4" opacity="0.67"/>
<circle cx="126.4" cy="139.0" r="0.71" fill="#f4f4f4" opacity="0.63"/>
<circle cx="114.3" cy="154.9" r="0.77" fill="#f4f4f4" opacity="0.53"/>
<circle cx="159.0" cy="139.9" r="0.69" fill="#f4f4f4" opacity="0.65"/>
<circle cx="163.7" cy="178.0" r="0.79" fill="#f4f4f4" opacity="0.62"/>
<circle cx="129.1" cy="174.8" r="0.70" fill="#f4f4f4" opacity="0.75"/>
<circle cx="155.1" cy="145.0" r="0.65" fill="#f4f4f4" opacity="0.88"/>
<circle cx="129.6" cy="175.9" r="0.56" fill="#f4f4f4" opacity="0.51"/>
<circle cx="140.7" cy="149.3" r="0.74" fill="#f4f4f4" opacity="0.81"/>
<circle cx="110.5" cy="159.5" r="0.65" fill="#f4f4f4" opacity="0.86"/>
<circle cx="162.9" cy="177.6" r="0.80" fill="#f4f4f4" opacity="0.64"/>
<circle cx="148.3" cy="161.6" r="0.65" fill="#f4f4f4" opacity="0.62"/>
</g>
<ellipse cx="132.5" cy="156.6" rx="14" ry="17" fill="#223022" opacity="0.28" filter="url(#bl3)"/>
<g>
<ellipse cx="129" cy="153.5" rx="5.5" ry="4.5" transform="rotate(0 129 153.5)" fill="#1a2a1a" opacity="0.3" filter="url(#bl)"/>
<ellipse cx="136" cy="155.6" rx="7.2" ry="7.8" transform="rotate(0 136 155.6)" fill="#1a2a1a" opacity="0.3" filter="url(#bl)"/>
<ellipse cx="129" cy="153.5" rx="3.5" ry="2.5" transform="rotate(0 129 153.5)" fill="#2ed82e" opacity="0.85" filter="url(#bl)"/>
<ellipse cx="136" cy="155.6" rx="5.2" ry="5.8" transform="rotate(0 136 155.6)" fill="#f03232" opacity="0.95" filter="url(#bl)"/>
</g>
</g>
<g clip-path="url(#c10)"><g filter="url(#gr1)">
<rect x="107" y="184" width="67" height="48" fill="rgb(125,125,125)"/>
<line x1="100.0" y1="183" x2="125.0" y2="233" stroke="rgb(18,18,18)" stroke-width="5" opacity="0.9"/>
<line x1="118.0" y1="183" x2="143.0" y2="233" stroke="rgb(18,18,18)" stroke-width="6" opacity="0.9"/>
<line x1="137.0" y1="183" x2="162.0" y2="233" stroke="rgb(18,18,18)" stroke-width="4.5" opacity="0.9"/>
<line x1="153.0" y1="183" x2="178.0" y2="233" stroke="rgb(18,18,18)" stroke-width="5.5" opacity="0.9"/>
<line x1="170.0" y1="183" x2="195.0" y2="233" stroke="rgb(18,18,18)" stroke-width="4" opacity="0.9"/>
<line x1="166.2" y1="183" x2="191.2" y2="233" stroke="rgb(40,40,40)" stroke-width="1.5" opacity="0.7"/>
<line x1="162.4" y1="183" x2="187.4" y2="233" stroke="rgb(40,40,40)" stroke-width="2" opacity="0.7"/>
<line x1="145.5" y1="183" x2="170.5" y2="233" stroke="rgb(40,40,40)" stroke-width="1" opacity="0.7"/>
<line x1="141.6" y1="183" x2="166.6" y2="233" stroke="rgb(40,40,40)" stroke-width="2" opacity="0.7"/>
<line x1="145.8" y1="183" x2="170.8" y2="233" stroke="rgb(40,40,40)" stroke-width="2" opacity="0.7"/>
<line x1="115.5" y1="183" x2="140.5" y2="233" stroke="rgb(40,40,40)" stroke-width="1.5" opacity="0.7"/>
<circle cx="164.7" cy="190.5" r="0.53" fill="#f4f4f4" opacity="0.59"/>
<circle cx="161.8" cy="186.1" r="0.59" fill="#f4f4f4" opacity="0.54"/>
<circle cx="116.3" cy="209.1" r="0.57" fill="#f4f4f4" opacity="0.66"/>
<circle cx="155.7" cy="218.3" r="0.67" fill="#f4f4f4" opacity="0.81"/>
<circle cx="145.2" cy="223.0" r="0.60" fill="#f4f4f4" opacity="0.65"/>
<circle cx="145.7" cy="228.5" r="0.75" fill="#f4f4f4" opacity="0.69"/>
<circle cx="124.3" cy="197.9" r="0.59" fill="#f4f4f4" opacity="0.89"/>
<circle cx="165.6" cy="226.1" r="0.71" fill="#f4f4f4" opacity="0.78"/>
<circle cx="127.3" cy="207.2" r="0.56" fill="#f4f4f4" opacity="0.67"/>
<circle cx="124.4" cy="189.6" r="0.87" fill="#f4f4f4" opacity="0.54"/>
<circle cx="160.8" cy="217.2" r="0.54" fill="#f4f4f4" opacity="0.69"/>
<circle cx="172.7" cy="230.4" r="0.73" fill="#f4f4f4" opacity="0.81"/>
<circle cx="154.1" cy="198.4" r="0.72" fill="#f4f4f4" opacity="0.74"/>
<circle cx="133.6" cy="222.7" r="0.68" fill="#f4f4f4" opacity="0.80"/>
<circle cx="112.2" cy="205.5" r="0.52" fill="#f4f4f4" opacity="0.76"/>
<circle cx="164.7" cy="210.0" r="0.73" fill="#f4f4f4" opacity="0.75"/>
<circle cx="122.9" cy="202.8" r="0.73" fill="#f4f4f4" opacity="0.76"/>
<circle cx="132.7" cy="207.0" r="0.63" fill="#f4f4f4" opacity="0.72"/>
<circle cx="151.9" cy="200.1" r="0.77" fill="#f4f4f4" opacity="0.84"/>
<circle cx="142.9" cy="230.1" r="0.62" fill="#f4f4f4" opacity="0.87"/>
<circle cx="119.8" cy="201.7" r="0.83" fill="#f4f4f4" opacity="0.51"/>
<circle cx="147.9" cy="225.1" r="0.88" fill="#f4f4f4" opacity="0.77"/>
<circle cx="130.5" cy="200.3" r="0.75" fill="#f4f4f4" opacity="0.53"/>
<circle cx="109.8" cy="225.6" r="0.75" fill="#f4f4f4" opacity="0.57"/>
<circle cx="135.9" cy="198.3" r="0.85" fill="#f4f4f4" opacity="0.61"/>
<circle cx="155.1" cy="219.2" r="0.63" fill="#f4f4f4" opacity="0.60"/>
<circle cx="141.9" cy="203.4" r="0.74" fill="#f4f4f4" opacity="0.63"/>
<circle cx="159.6" cy="204.3" r="0.55" fill="#f4f4f4" opacity="0.81"/>
<circle cx="166.2" cy="216.3" r="0.72" fill="#f4f4f4" opacity="0.85"/>
<circle cx="168.7" cy="185.4" r="0.70" fill="#f4f4f4" opacity="0.51"/>
<circle cx="129.7" cy="196.1" r="0.68" fill="#f4f4f4" opacity="0.77"/>
<circle cx="164.0" cy="197.0" r="0.50" fill="#f4f4f4" opacity="0.90"/>
<circle cx="158.8" cy="210.3" r="0.54" fill="#f4f4f4" opacity="0.52"/>
<circle cx="168.7" cy="209.4" r="0.84" fill="#f4f4f4" opacity="0.81"/>
<circle cx="156.8" cy="222.0" r="0.60" fill="#f4f4f4" opacity="0.60"/>
<circle cx="136.2" cy="220.3" r="0.82" fill="#f4f4f4" opacity="0.80"/>
<circle cx="145.7" cy="206.9" r="0.58" fill="#f4f4f4" opacity="0.77"/>
<circle cx="150.5" cy="208.7" r="0.79" fill="#f4f4f4" opacity="0.89"/>
<circle cx="169.3" cy="189.9" r="0.61" fill="#f4f4f4" opacity="0.75"/>
<circle cx="152.8" cy="198.1" r="0.87" fill="#f4f4f4" opacity="0.68"/>
<circle cx="157.7" cy="187.4" r="0.61" fill="#f4f4f4" opacity="0.51"/>
<circle cx="159.4" cy="209.0" r="0.88" fill="#f4f4f4" opacity="0.74"/>
<circle cx="129.1" cy="201.4" r="0.65" fill="#f4f4f4" opacity="0.58"/>
<circle cx="115.0" cy="214.9" r="0.63" fill="#f4f4f4" opacity="0.68"/>
<circle cx="154.1" cy="197.6" r="0.68" fill="#f4f4f4" opacity="0.63"/>
<circle cx="129.1" cy="215.7" r="0.54" fill="#f4f4f4" opacity="0.66"/>
<circle cx="115.1" cy="215.8" r="0.62" fill="#f4f4f4" opacity="0.89"/>
<circle cx="139.4" cy="215.4" r="0.71" fill="#f4f4f4" opacity="0.83"/>
<circle cx="153.5" cy="214.5" r="0.51" fill="#f4f4f4" opacity="0.56"/>
<circle cx="156.8" cy="203.9" r="0.89" fill="#f4f4f4" opacity="0.75"/>
<circle cx="161.5" cy="219.3" r="0.89" fill="#f4f4f4" opacity="0.76"/>
<circle cx="168.9" cy="204.6" r="0.61" fill="#f4f4f4" opacity="0.54"/>
<circle cx="124.4" cy="226.1" r="0.76" fill="#f4f4f4" opacity="0.52"/>
<circle cx="109.8" cy="206.2" r="0.72" fill="#f4f4f4" opacity="0.64"/>
<circle cx="109.3" cy="197.0" r="0.85" fill="#f4f4f4" opacity="0.79"/>
<circle cx="161.2" cy="197.4" r="0.77" fill="#f4f4f4" opacity="0.58"/>
<circle cx="127.6" cy="229.0" r="0.59" fill="#f4f4f4" opacity="0.62"/>
<circle cx="122.1" cy="224.9" r="0.77" fill="#f4f4f4" opacity="0.74"/>
<circle cx="163.3" cy="206.3" r="0.87" fill="#f4f4f4" opacity="0.81"/>
<circle cx="127.5" cy="195.9" r="0.71" fill="#f4f4f4" opacity="0.68"/>
<circle cx="159.3" cy="215.0" r="0.80" fill="#f4f4f4" opacity="0.74"/>
<circle cx="125.2" cy="219.2" r="0.89" fill="#f4f4f4" opacity="0.75"/>
<circle cx="154.2" cy="195.7" r="0.55" fill="#f4f4f4" opacity="0.68"/>
<circle cx="146.6" cy="218.5" r="0.69" fill="#f4f4f4" opacity="0.72"/>
<circle cx="113.8" cy="187.2" r="0.55" fill="#f4f4f4" opacity="0.63"/>
<circle cx="123.8" cy="191.6" r="0.64" fill="#f4f4f4" opacity="0.63"/>
<circle cx="161.6" cy="228.0" r="0.90" fill="#f4f4f4" opacity="0.79"/>
<circle cx="108.7" cy="195.9" r="0.90" fill="#f4f4f4" opacity="0.78"/>
<circle cx="163.8" cy="194.2" r="0.60" fill="#f4f4f4" opacity="0.54"/>
<circle cx="142.1" cy="201.8" r="0.69" fill="#f4f4f4" opacity="0.56"/>
</g>
<ellipse cx="132.8" cy="207.0" rx="14" ry="17" fill="#223022" opacity="0.28" filter="url(#bl3)"/>
<g>
<ellipse cx="126.75" cy="209.4" rx="9" ry="7" transform="rotate(-40 126.75 209.4)" fill="#1a2a1a" opacity="0.3" filter="url(#bl)"/>
<ellipse cx="138.6" cy="200.6" rx="8" ry="7" transform="rotate(-40 138.6 200.6)" fill="#1a2a1a" opacity="0.3" filter="url(#bl)"/>
<ellipse cx="133" cy="205" rx="7.5" ry="7" transform="rotate(-40 133 205)" fill="#1a2a1a" opacity="0.3" filter="url(#bl)"/>
<ellipse cx="126.75" cy="209.4" rx="7" ry="5" transform="rotate(-40 126.75 209.4)" fill="#2ed82e" opacity="0.95" filter="url(#bl)"/>
<ellipse cx="138.6" cy="200.6" rx="6" ry="5" transform="rotate(-40 138.6 200.6)" fill="#f03232" opacity="0.95" filter="url(#bl)"/>
<ellipse cx="133" cy="205" rx="5.5" ry="5" transform="rotate(-40 133 205)" fill="#ff9a22" opacity="0.95" filter="url(#bl)"/>
</g>
</g>
<g clip-path="url(#c11)"><g filter="url(#gr1)">
<rect x="107" y="232" width="67" height="48.5" fill="rgb(125,125,125)"/>
<line x1="100.0" y1="231" x2="125.2" y2="281.5" stroke="rgb(18,18,18)" stroke-width="5" opacity="0.9"/>
<line x1="118.0" y1="231" x2="143.2" y2="281.5" stroke="rgb(18,18,18)" stroke-width="6" opacity="0.9"/>
<line x1="137.0" y1="231" x2="162.2" y2="281.5" stroke="rgb(18,18,18)" stroke-width="4.5" opacity="0.9"/>
<line x1="153.0" y1="231" x2="178.2" y2="281.5" stroke="rgb(18,18,18)" stroke-width="5.5" opacity="0.9"/>
<line x1="170.0" y1="231" x2="195.2" y2="281.5" stroke="rgb(18,18,18)" stroke-width="4" opacity="0.9"/>
<line x1="164.6" y1="231" x2="189.8" y2="281.5" stroke="rgb(40,40,40)" stroke-width="1" opacity="0.7"/>
<line x1="145.2" y1="231" x2="170.5" y2="281.5" stroke="rgb(40,40,40)" stroke-width="1" opacity="0.7"/>
<line x1="116.2" y1="231" x2="141.5" y2="281.5" stroke="rgb(40,40,40)" stroke-width="1" opacity="0.7"/>
<line x1="143.7" y1="231" x2="168.9" y2="281.5" stroke="rgb(40,40,40)" stroke-width="1" opacity="0.7"/>
<line x1="160.6" y1="231" x2="185.8" y2="281.5" stroke="rgb(40,40,40)" stroke-width="1" opacity="0.7"/>
<line x1="159.1" y1="231" x2="184.4" y2="281.5" stroke="rgb(40,40,40)" stroke-width="1" opacity="0.7"/>
<circle cx="113.0" cy="268.0" r="0.65" fill="#f4f4f4" opacity="0.52"/>
<circle cx="121.2" cy="244.9" r="0.89" fill="#f4f4f4" opacity="0.88"/>
<circle cx="119.2" cy="246.9" r="0.52" fill="#f4f4f4" opacity="0.68"/>
<circle cx="123.9" cy="277.7" r="0.84" fill="#f4f4f4" opacity="0.52"/>
<circle cx="110.5" cy="269.5" r="0.55" fill="#f4f4f4" opacity="0.57"/>
<circle cx="144.5" cy="248.9" r="0.53" fill="#f4f4f4" opacity="0.75"/>
<circle cx="143.2" cy="270.8" r="0.54" fill="#f4f4f4" opacity="0.79"/>
<circle cx="138.0" cy="269.7" r="0.69" fill="#f4f4f4" opacity="0.55"/>
<circle cx="122.3" cy="239.9" r="0.84" fill="#f4f4f4" opacity="0.57"/>
<circle cx="143.0" cy="234.5" r="0.68" fill="#f4f4f4" opacity="0.58"/>
<circle cx="136.8" cy="235.9" r="0.53" fill="#f4f4f4" opacity="0.55"/>
<circle cx="153.4" cy="238.7" r="0.69" fill="#f4f4f4" opacity="0.72"/>
<circle cx="135.2" cy="271.6" r="0.69" fill="#f4f4f4" opacity="0.58"/>
<circle cx="136.0" cy="234.2" r="0.81" fill="#f4f4f4" opacity="0.51"/>
<circle cx="165.3" cy="266.6" r="0.69" fill="#f4f4f4" opacity="0.75"/>
<circle cx="154.4" cy="233.9" r="0.81" fill="#f4f4f4" opacity="0.60"/>
<circle cx="109.5" cy="269.3" r="0.85" fill="#f4f4f4" opacity="0.55"/>
<circle cx="120.5" cy="244.3" r="0.54" fill="#f4f4f4" opacity="0.86"/>
<circle cx="150.4" cy="237.8" r="0.82" fill="#f4f4f4" opacity="0.57"/>
<circle cx="112.8" cy="263.5" r="0.67" fill="#f4f4f4" opacity="0.83"/>
<circle cx="173.0" cy="251.1" r="0.72" fill="#f4f4f4" opacity="0.60"/>
<circle cx="120.1" cy="272.8" r="0.84" fill="#f4f4f4" opacity="0.74"/>
<circle cx="152.7" cy="267.1" r="0.75" fill="#f4f4f4" opacity="0.65"/>
<circle cx="153.9" cy="256.7" r="0.87" fill="#f4f4f4" opacity="0.69"/>
<circle cx="154.1" cy="233.4" r="0.85" fill="#f4f4f4" opacity="0.62"/>
<circle cx="113.7" cy="243.5" r="0.53" fill="#f4f4f4" opacity="0.51"/>
<circle cx="111.6" cy="269.3" r="0.87" fill="#f4f4f4" opacity="0.75"/>
<circle cx="167.5" cy="253.5" r="0.53" fill="#f4f4f4" opacity="0.71"/>
<circle cx="140.7" cy="234.9" r="0.73" fill="#f4f4f4" opacity="0.56"/>
<circle cx="171.8" cy="241.2" r="0.61" fill="#f4f4f4" opacity="0.85"/>
<circle cx="125.0" cy="257.5" r="0.68" fill="#f4f4f4" opacity="0.78"/>
<circle cx="118.7" cy="255.7" r="0.55" fill="#f4f4f4" opacity="0.79"/>
<circle cx="112.0" cy="247.4" r="0.53" fill="#f4f4f4" opacity="0.63"/>
<circle cx="123.9" cy="258.2" r="0.54" fill="#f4f4f4" opacity="0.60"/>
<circle cx="153.1" cy="273.0" r="0.61" fill="#f4f4f4" opacity="0.80"/>
<circle cx="160.3" cy="254.9" r="0.85" fill="#f4f4f4" opacity="0.79"/>
<circle cx="140.5" cy="271.2" r="0.58" fill="#f4f4f4" opacity="0.79"/>
<circle cx="117.8" cy="250.3" r="0.54" fill="#f4f4f4" opacity="0.63"/>
<circle cx="150.9" cy="252.6" r="0.73" fill="#f4f4f4" opacity="0.86"/>
<circle cx="160.9" cy="277.3" r="0.85" fill="#f4f4f4" opacity="0.54"/>
<circle cx="141.9" cy="249.9" r="0.83" fill="#f4f4f4" opacity="0.56"/>
<circle cx="155.8" cy="270.5" r="0.63" fill="#f4f4f4" opacity="0.59"/>
<circle cx="154.8" cy="273.3" r="0.77" fill="#f4f4f4" opacity="0.69"/>
<circle cx="121.7" cy="258.8" r="0.86" fill="#f4f4f4" opacity="0.57"/>
<circle cx="168.4" cy="246.7" r="0.81" fill="#f4f4f4" opacity="0.75"/>
<circle cx="117.5" cy="238.8" r="0.72" fill="#f4f4f4" opacity="0.54"/>
<circle cx="132.1" cy="244.4" r="0.76" fill="#f4f4f4" opacity="0.83"/>
<circle cx="118.5" cy="242.3" r="0.82" fill="#f4f4f4" opacity="0.89"/>
<circle cx="166.9" cy="248.0" r="0.84" fill="#f4f4f4" opacity="0.60"/>
<circle cx="152.5" cy="248.0" r="0.78" fill="#f4f4f4" opacity="0.76"/>
<circle cx="158.1" cy="261.7" r="0.74" fill="#f4f4f4" opacity="0.81"/>
<circle cx="133.9" cy="264.2" r="0.70" fill="#f4f4f4" opacity="0.77"/>
<circle cx="118.7" cy="237.9" r="0.63" fill="#f4f4f4" opacity="0.60"/>
<circle cx="152.3" cy="279.3" r="0.79" fill="#f4f4f4" opacity="0.75"/>
<circle cx="127.8" cy="255.8" r="0.72" fill="#f4f4f4" opacity="0.58"/>
<circle cx="125.9" cy="238.5" r="0.85" fill="#f4f4f4" opacity="0.85"/>
<circle cx="110.4" cy="238.4" r="0.53" fill="#f4f4f4" opacity="0.53"/>
<circle cx="152.3" cy="260.8" r="0.73" fill="#f4f4f4" opacity="0.81"/>
<circle cx="129.2" cy="259.7" r="0.85" fill="#f4f4f4" opacity="0.64"/>
<circle cx="115.8" cy="245.1" r="0.82" fill="#f4f4f4" opacity="0.53"/>
<circle cx="115.8" cy="243.7" r="0.80" fill="#f4f4f4" opacity="0.70"/>
<circle cx="142.4" cy="237.6" r="0.88" fill="#f4f4f4" opacity="0.75"/>
<circle cx="112.9" cy="256.3" r="0.83" fill="#f4f4f4" opacity="0.78"/>
<circle cx="166.8" cy="243.1" r="0.74" fill="#f4f4f4" opacity="0.59"/>
<circle cx="171.5" cy="251.4" r="0.76" fill="#f4f4f4" opacity="0.63"/>
<circle cx="150.4" cy="270.0" r="0.78" fill="#f4f4f4" opacity="0.55"/>
<circle cx="170.4" cy="237.9" r="0.89" fill="#f4f4f4" opacity="0.74"/>
<circle cx="119.7" cy="273.9" r="0.89" fill="#f4f4f4" opacity="0.52"/>
<circle cx="167.1" cy="258.4" r="0.89" fill="#f4f4f4" opacity="0.81"/>
<circle cx="144.7" cy="271.3" r="0.72" fill="#f4f4f4" opacity="0.55"/>
</g>
<ellipse cx="133.6" cy="255.0" rx="14" ry="17" fill="#223022" opacity="0.28" filter="url(#bl3)"/>
<g>
<ellipse cx="126.75" cy="258" rx="9" ry="7.5" transform="rotate(-40 126.75 258)" fill="#1a2a1a" opacity="0.3" filter="url(#bl)"/>
<ellipse cx="140.5" cy="248" rx="7.5" ry="8.5" transform="rotate(-40 140.5 248)" fill="#1a2a1a" opacity="0.3" filter="url(#bl)"/>
<ellipse cx="133.6" cy="253" rx="8" ry="7.5" transform="rotate(-40 133.6 253)" fill="#1a2a1a" opacity="0.3" filter="url(#bl)"/>
<ellipse cx="126.75" cy="258" rx="7" ry="5.5" transform="rotate(-40 126.75 258)" fill="#2ed82e" opacity="0.95" filter="url(#bl)"/>
<ellipse cx="140.5" cy="248" rx="5.5" ry="6.5" transform="rotate(-40 140.5 248)" fill="#f03232" opacity="0.95" filter="url(#bl)"/>
<ellipse cx="133.6" cy="253" rx="6" ry="5.5" transform="rotate(-40 133.6 253)" fill="#f2ee30" opacity="0.95" filter="url(#bl)"/>
</g>
</g>
<g clip-path="url(#c12)"><g filter="url(#gr1)">
<rect x="107" y="280" width="67" height="50" fill="rgb(125,125,125)"/>
<line x1="100.0" y1="279" x2="126.0" y2="331" stroke="rgb(18,18,18)" stroke-width="5" opacity="0.9"/>
<line x1="118.0" y1="279" x2="144.0" y2="331" stroke="rgb(18,18,18)" stroke-width="6" opacity="0.9"/>
<line x1="137.0" y1="279" x2="163.0" y2="331" stroke="rgb(18,18,18)" stroke-width="4.5" opacity="0.9"/>
<line x1="153.0" y1="279" x2="179.0" y2="331" stroke="rgb(18,18,18)" stroke-width="5.5" opacity="0.9"/>
<line x1="170.0" y1="279" x2="196.0" y2="331" stroke="rgb(18,18,18)" stroke-width="4" opacity="0.9"/>
<line x1="157.6" y1="279" x2="183.6" y2="331" stroke="rgb(40,40,40)" stroke-width="1.5" opacity="0.7"/>
<line x1="132.4" y1="279" x2="158.4" y2="331" stroke="rgb(40,40,40)" stroke-width="1" opacity="0.7"/>
<line x1="163.9" y1="279" x2="189.9" y2="331" stroke="rgb(40,40,40)" stroke-width="1.5" opacity="0.7"/>
<line x1="127.5" y1="279" x2="153.5" y2="331" stroke="rgb(40,40,40)" stroke-width="2" opacity="0.7"/>
<line x1="111.4" y1="279" x2="137.4" y2="331" stroke="rgb(40,40,40)" stroke-width="1" opacity="0.7"/>
<line x1="155.2" y1="279" x2="181.2" y2="331" stroke="rgb(40,40,40)" stroke-width="1" opacity="0.7"/>
<circle cx="156.8" cy="288.1" r="0.76" fill="#f4f4f4" opacity="0.64"/>
<circle cx="119.0" cy="301.6" r="0.65" fill="#f4f4f4" opacity="0.68"/>
<circle cx="165.3" cy="325.2" r="0.59" fill="#f4f4f4" opacity="0.90"/>
<circle cx="147.8" cy="327.1" r="0.83" fill="#f4f4f4" opacity="0.71"/>
<circle cx="124.3" cy="325.6" r="0.90" fill="#f4f4f4" opacity="0.75"/>
<circle cx="115.6" cy="320.5" r="0.81" fill="#f4f4f4" opacity="0.85"/>
<circle cx="171.5" cy="327.8" r="0.79" fill="#f4f4f4" opacity="0.66"/>
<circle cx="142.6" cy="305.2" r="0.80" fill="#f4f4f4" opacity="0.75"/>
<circle cx="161.7" cy="305.7" r="0.74" fill="#f4f4f4" opacity="0.89"/>
<circle cx="159.5" cy="325.7" r="0.78" fill="#f4f4f4" opacity="0.55"/>
<circle cx="135.2" cy="295.0" r="0.61" fill="#f4f4f4" opacity="0.55"/>
<circle cx="115.2" cy="304.1" r="0.81" fill="#f4f4f4" opacity="0.85"/>
<circle cx="170.9" cy="308.9" r="0.51" fill="#f4f4f4" opacity="0.58"/>
<circle cx="111.7" cy="322.7" r="0.63" fill="#f4f4f4" opacity="0.79"/>
<circle cx="137.3" cy="309.0" r="0.84" fill="#f4f4f4" opacity="0.76"/>
<circle cx="112.9" cy="311.5" r="0.64" fill="#f4f4f4" opacity="0.89"/>
<circle cx="125.4" cy="292.6" r="0.87" fill="#f4f4f4" opacity="0.67"/>
<circle cx="113.4" cy="319.2" r="0.87" fill="#f4f4f4" opacity="0.70"/>
<circle cx="118.9" cy="322.6" r="0.64" fill="#f4f4f4" opacity="0.60"/>
<circle cx="110.8" cy="323.3" r="0.59" fill="#f4f4f4" opacity="0.55"/>
<circle cx="131.7" cy="314.6" r="0.90" fill="#f4f4f4" opacity="0.58"/>
<circle cx="148.1" cy="294.0" r="0.84" fill="#f4f4f4" opacity="0.69"/>
<circle cx="152.4" cy="321.2" r="0.71" fill="#f4f4f4" opacity="0.69"/>
<circle cx="108.6" cy="289.0" r="0.78" fill="#f4f4f4" opacity="0.80"/>
<circle cx="145.6" cy="283.4" r="0.80" fill="#f4f4f4" opacity="0.84"/>
<circle cx="163.6" cy="317.0" r="0.77" fill="#f4f4f4" opacity="0.64"/>
<circle cx="131.5" cy="290.1" r="0.76" fill="#f4f4f4" opacity="0.64"/>
<circle cx="160.6" cy="292.1" r="0.61" fill="#f4f4f4" opacity="0.53"/>
<circle cx="126.2" cy="318.3" r="0.83" fill="#f4f4f4" opacity="0.87"/>
<circle cx="110.3" cy="313.9" r="0.72" fill="#f4f4f4" opacity="0.64"/>
<circle cx="169.1" cy="313.7" r="0.63" fill="#f4f4f4" opacity="0.83"/>
<circle cx="136.8" cy="303.6" r="0.69" fill="#f4f4f4" opacity="0.69"/>
<circle cx="109.7" cy="320.4" r="0.62" fill="#f4f4f4" opacity="0.68"/>
<circle cx="119.5" cy="308.3" r="0.53" fill="#f4f4f4" opacity="0.51"/>
<circle cx="121.7" cy="323.2" r="0.77" fill="#f4f4f4" opacity="0.79"/>
<circle cx="114.0" cy="302.7" r="0.79" fill="#f4f4f4" opacity="0.80"/>
<circle cx="137.2" cy="284.7" r="0.65" fill="#f4f4f4" opacity="0.88"/>
<circle cx="165.9" cy="310.5" r="0.64" fill="#f4f4f4" opacity="0.74"/>
<circle cx="145.4" cy="303.2" r="0.84" fill="#f4f4f4" opacity="0.73"/>
<circle cx="114.3" cy="316.1" r="0.78" fill="#f4f4f4" opacity="0.54"/>
<circle cx="142.1" cy="327.9" r="0.76" fill="#f4f4f4" opacity="0.77"/>
<circle cx="139.1" cy="301.4" r="0.89" fill="#f4f4f4" opacity="0.61"/>
<circle cx="138.2" cy="285.5" r="0.71" fill="#f4f4f4" opacity="0.77"/>
<circle cx="152.9" cy="327.9" r="0.61" fill="#f4f4f4" opacity="0.58"/>
<circle cx="131.3" cy="297.1" r="0.87" fill="#f4f4f4" opacity="0.58"/>
<circle cx="138.7" cy="329.0" r="0.66" fill="#f4f4f4" opacity="0.68"/>
<circle cx="135.2" cy="296.5" r="0.63" fill="#f4f4f4" opacity="0.83"/>
<circle cx="109.0" cy="284.2" r="0.82" fill="#f4f4f4" opacity="0.79"/>
<circle cx="135.6" cy="304.0" r="0.69" fill="#f4f4f4" opacity="0.60"/>
<circle cx="136.2" cy="298.1" r="0.74" fill="#f4f4f4" opacity="0.63"/>
<circle cx="146.3" cy="283.0" r="0.90" fill="#f4f4f4" opacity="0.51"/>
<circle cx="138.7" cy="299.1" r="0.55" fill="#f4f4f4" opacity="0.89"/>
<circle cx="137.2" cy="289.9" r="0.63" fill="#f4f4f4" opacity="0.58"/>
<circle cx="143.5" cy="328.9" r="0.89" fill="#f4f4f4" opacity="0.59"/>
<circle cx="154.1" cy="308.0" r="0.81" fill="#f4f4f4" opacity="0.56"/>
<circle cx="110.9" cy="286.8" r="0.86" fill="#f4f4f4" opacity="0.52"/>
<circle cx="110.7" cy="303.2" r="0.52" fill="#f4f4f4" opacity="0.57"/>
<circle cx="170.0" cy="289.7" r="0.80" fill="#f4f4f4" opacity="0.84"/>
<circle cx="137.6" cy="302.3" r="0.58" fill="#f4f4f4" opacity="0.63"/>
<circle cx="142.7" cy="308.4" r="0.71" fill="#f4f4f4" opacity="0.65"/>
<circle cx="165.6" cy="303.0" r="0.65" fill="#f4f4f4" opacity="0.69"/>
<circle cx="162.8" cy="310.0" r="0.80" fill="#f4f4f4" opacity="0.83"/>
<circle cx="131.1" cy="315.7" r="0.54" fill="#f4f4f4" opacity="0.69"/>
<circle cx="138.0" cy="299.7" r="0.57" fill="#f4f4f4" opacity="0.82"/>
<circle cx="130.3" cy="299.9" r="0.55" fill="#f4f4f4" opacity="0.85"/>
<circle cx="164.3" cy="289.7" r="0.66" fill="#f4f4f4" opacity="0.61"/>
<circle cx="120.3" cy="320.9" r="0.75" fill="#f4f4f4" opacity="0.86"/>
<circle cx="152.8" cy="297.0" r="0.81" fill="#f4f4f4" opacity="0.54"/>
<circle cx="146.3" cy="305.7" r="0.53" fill="#f4f4f4" opacity="0.61"/>
<circle cx="141.8" cy="286.9" r="0.53" fill="#f4f4f4" opacity="0.75"/>
</g>
<ellipse cx="133.3" cy="302.8" rx="14" ry="17" fill="#223022" opacity="0.28" filter="url(#bl3)"/>
<g>
<ellipse cx="132.4" cy="301.1" rx="14" ry="9" transform="rotate(-40 132.4 301.1)" fill="#1a2a1a" opacity="0.3" filter="url(#bl)"/>
<ellipse cx="134.25" cy="300.5" rx="7" ry="6" transform="rotate(-40 134.25 300.5)" fill="#1a2a1a" opacity="0.3" filter="url(#bl)"/>
<ellipse cx="132.4" cy="301.1" rx="12" ry="7" transform="rotate(-40 132.4 301.1)" fill="#2ed82e" opacity="0.95" filter="url(#bl)"/>
<ellipse cx="134.25" cy="300.5" rx="5" ry="4" transform="rotate(-40 134.25 300.5)" fill="#f2ee30" opacity="0.9" filter="url(#bl)"/>
</g>
</g>
<g clip-path="url(#c13)"><g filter="url(#gr2)">
<rect x="174" y="38" width="66" height="49" fill="rgb(132,132,132)"/>
<line x1="137.1" y1="37" x2="186.4" y2="88" stroke="rgb(15,15,15)" stroke-width="2" opacity="0.85"/>
<line x1="139.0" y1="37" x2="188.3" y2="88" stroke="rgb(200,200,200)" stroke-width="0.9" opacity="0.75"/>
<line x1="200.0" y1="37" x2="253.9" y2="88" stroke="rgb(15,15,15)" stroke-width="2.5" opacity="0.85"/>
<line x1="202.1" y1="37" x2="256.1" y2="88" stroke="rgb(200,200,200)" stroke-width="0.9" opacity="0.75"/>
<line x1="210.1" y1="37" x2="251.9" y2="88" stroke="rgb(15,15,15)" stroke-width="1.5" opacity="0.85"/>
<line x1="211.7" y1="37" x2="253.5" y2="88" stroke="rgb(200,200,200)" stroke-width="0.9" opacity="0.75"/>
<line x1="157.5" y1="37" x2="195.8" y2="88" stroke="rgb(15,15,15)" stroke-width="1.5" opacity="0.85"/>
<line x1="170.6" y1="37" x2="213.1" y2="88" stroke="rgb(15,15,15)" stroke-width="1.5" opacity="0.85"/>
<line x1="172.3" y1="37" x2="214.7" y2="88" stroke="rgb(200,200,200)" stroke-width="0.9" opacity="0.75"/>
<line x1="236.1" y1="37" x2="283.1" y2="88" stroke="rgb(15,15,15)" stroke-width="2.5" opacity="0.85"/>
<line x1="238.2" y1="37" x2="285.2" y2="88" stroke="rgb(200,200,200)" stroke-width="0.9" opacity="0.75"/>
<line x1="147.4" y1="37" x2="190.3" y2="88" stroke="rgb(15,15,15)" stroke-width="2" opacity="0.85"/>
<line x1="149.3" y1="37" x2="192.2" y2="88" stroke="rgb(200,200,200)" stroke-width="0.9" opacity="0.75"/>
<line x1="152.9" y1="37" x2="204.4" y2="88" stroke="rgb(15,15,15)" stroke-width="3" opacity="0.85"/>
<line x1="155.3" y1="37" x2="206.8" y2="88" stroke="rgb(200,200,200)" stroke-width="0.9" opacity="0.75"/>
<line x1="156.8" y1="37" x2="207.7" y2="88" stroke="rgb(15,15,15)" stroke-width="2.5" opacity="0.85"/>
<line x1="159.0" y1="37" x2="209.8" y2="88" stroke="rgb(200,200,200)" stroke-width="0.9" opacity="0.75"/>
<line x1="191.6" y1="37" x2="238.2" y2="88" stroke="rgb(15,15,15)" stroke-width="2" opacity="0.85"/>
<line x1="193.5" y1="37" x2="240.1" y2="88" stroke="rgb(200,200,200)" stroke-width="0.9" opacity="0.75"/>
<line x1="239.5" y1="37" x2="290.1" y2="88" stroke="rgb(15,15,15)" stroke-width="2.5" opacity="0.85"/>
<line x1="183.3" y1="37" x2="221.1" y2="88" stroke="rgb(15,15,15)" stroke-width="2.5" opacity="0.85"/>
<line x1="185.5" y1="37" x2="223.2" y2="88" stroke="rgb(200,200,200)" stroke-width="0.9" opacity="0.75"/>
<line x1="153.8" y1="37" x2="207.2" y2="88" stroke="rgb(15,15,15)" stroke-width="2.5" opacity="0.85"/>
<line x1="155.9" y1="37" x2="209.4" y2="88" stroke="rgb(200,200,200)" stroke-width="0.9" opacity="0.75"/>
<line x1="171.7" y1="37" x2="220.6" y2="88" stroke="rgb(15,15,15)" stroke-width="2.5" opacity="0.85"/>
<line x1="173.9" y1="37" x2="222.7" y2="88" stroke="rgb(200,200,200)" stroke-width="0.9" opacity="0.75"/>
<line x1="188.7" y1="37" x2="222.9" y2="88" stroke="rgb(15,15,15)" stroke-width="1.5" opacity="0.85"/>
<line x1="190.3" y1="37" x2="224.5" y2="88" stroke="rgb(200,200,200)" stroke-width="0.9" opacity="0.75"/>
<line x1="210.1" y1="37" x2="241.2" y2="88" stroke="rgb(15,15,15)" stroke-width="1.5" opacity="0.85"/>
<line x1="211.8" y1="37" x2="242.9" y2="88" stroke="rgb(200,200,200)" stroke-width="0.9" opacity="0.75"/>
<circle cx="182.5" cy="55.2" r="0.89" fill="#f4f4f4" opacity="0.80"/>
<circle cx="216.3" cy="56.1" r="0.54" fill="#f4f4f4" opacity="0.51"/>
<circle cx="209.9" cy="85.3" r="0.79" fill="#f4f4f4" opacity="0.58"/>
<circle cx="237.2" cy="49.6" r="0.52" fill="#f4f4f4" opacity="0.70"/>
<circle cx="203.7" cy="42.2" r="0.87" fill="#f4f4f4" opacity="0.62"/>
<circle cx="200.1" cy="40.9" r="0.51" fill="#f4f4f4" opacity="0.88"/>
<circle cx="236.8" cy="68.3" r="0.52" fill="#f4f4f4" opacity="0.56"/>
<circle cx="183.8" cy="39.5" r="0.82" fill="#f4f4f4" opacity="0.68"/>
<circle cx="176.9" cy="51.5" r="0.68" fill="#f4f4f4" opacity="0.71"/>
<circle cx="208.2" cy="45.3" r="0.82" fill="#f4f4f4" opacity="0.54"/>
<circle cx="203.3" cy="73.3" r="0.54" fill="#f4f4f4" opacity="0.51"/>
<circle cx="238.3" cy="71.6" r="0.58" fill="#f4f4f4" opacity="0.76"/>
<circle cx="181.5" cy="77.8" r="0.52" fill="#f4f4f4" opacity="0.54"/>
<circle cx="189.2" cy="68.4" r="0.85" fill="#f4f4f4" opacity="0.60"/>
<circle cx="224.6" cy="58.4" r="0.68" fill="#f4f4f4" opacity="0.77"/>
<circle cx="190.3" cy="72.3" r="0.64" fill="#f4f4f4" opacity="0.56"/>
<circle cx="216.1" cy="63.1" r="0.52" fill="#f4f4f4" opacity="0.88"/>
<circle cx="224.2" cy="60.0" r="0.82" fill="#f4f4f4" opacity="0.81"/>
<circle cx="177.1" cy="41.8" r="0.70" fill="#f4f4f4" opacity="0.67"/>
<circle cx="218.3" cy="46.6" r="0.56" fill="#f4f4f4" opacity="0.65"/>
<circle cx="238.2" cy="39.9" r="0.88" fill="#f4f4f4" opacity="0.74"/>
<circle cx="197.7" cy="43.6" r="0.68" fill="#f4f4f4" opacity="0.67"/>
<circle cx="178.5" cy="57.9" r="0.87" fill="#f4f4f4" opacity="0.88"/>
<circle cx="220.1" cy="57.3" r="0.85" fill="#f4f4f4" opacity="0.52"/>
<circle cx="220.9" cy="72.2" r="0.56" fill="#f4f4f4" opacity="0.65"/>
</g>
<path d="M198.2 47.5 L187.2 59.0 L184.8 56.7 L182.9 65.9 L192.0 63.6 L189.7 61.3 L200.6 49.9Z" fill="#fff"/>
</g>
<g clip-path="url(#c14)"><g filter="url(#gr2)">
<rect x="174" y="87" width="66" height="48" fill="rgb(132,132,132)"/>
<line x1="140.2" y1="86" x2="180.7" y2="136" stroke="rgb(15,15,15)" stroke-width="2.5" opacity="0.85"/>
<line x1="168.5" y1="86" x2="214.0" y2="136" stroke="rgb(15,15,15)" stroke-width="3" opacity="0.85"/>
<line x1="170.9" y1="86" x2="216.4" y2="136" stroke="rgb(200,200,200)" stroke-width="0.9" opacity="0.75"/>
<line x1="185.5" y1="86" x2="230.8" y2="136" stroke="rgb(15,15,15)" stroke-width="3.5" opacity="0.85"/>
<line x1="188.2" y1="86" x2="233.4" y2="136" stroke="rgb(200,200,200)" stroke-width="0.9" opacity="0.75"/>
<line x1="194.7" y1="86" x2="226.3" y2="136" stroke="rgb(15,15,15)" stroke-width="3" opacity="0.85"/>
<line x1="197.1" y1="86" x2="228.7" y2="136" stroke="rgb(200,200,200)" stroke-width="0.9" opacity="0.75"/>
<line x1="231.7" y1="86" x2="262.0" y2="136" stroke="rgb(15,15,15)" stroke-width="2" opacity="0.85"/>
<line x1="233.6" y1="86" x2="263.9" y2="136" stroke="rgb(200,200,200)" stroke-width="0.9" opacity="0.75"/>
<line x1="193.8" y1="86" x2="240.2" y2="136" stroke="rgb(15,15,15)" stroke-width="2" opacity="0.85"/>
<line x1="195.7" y1="86" x2="242.1" y2="136" stroke="rgb(200,200,200)" stroke-width="0.9" opacity="0.75"/>
<line x1="211.1" y1="86" x2="263.4" y2="136" stroke="rgb(15,15,15)" stroke-width="3.5" opacity="0.85"/>
<line x1="211.4" y1="86" x2="254.9" y2="136" stroke="rgb(15,15,15)" stroke-width="3.5" opacity="0.85"/>
<line x1="217.9" y1="86" x2="260.0" y2="136" stroke="rgb(15,15,15)" stroke-width="2.5" opacity="0.85"/>
<line x1="167.0" y1="86" x2="219.3" y2="136" stroke="rgb(15,15,15)" stroke-width="2.5" opacity="0.85"/>
<line x1="153.4" y1="86" x2="194.4" y2="136" stroke="rgb(15,15,15)" stroke-width="3" opacity="0.85"/>
<line x1="155.8" y1="86" x2="196.8" y2="136" stroke="rgb(200,200,200)" stroke-width="0.9" opacity="0.75"/>
<line x1="228.9" y1="86" x2="259.3" y2="136" stroke="rgb(15,15,15)" stroke-width="2.5" opacity="0.85"/>
<line x1="231.1" y1="86" x2="261.4" y2="136" stroke="rgb(200,200,200)" stroke-width="0.9" opacity="0.75"/>
<line x1="224.9" y1="86" x2="267.5" y2="136" stroke="rgb(15,15,15)" stroke-width="2" opacity="0.85"/>
<line x1="226.8" y1="86" x2="269.4" y2="136" stroke="rgb(200,200,200)" stroke-width="0.9" opacity="0.75"/>
<line x1="197.4" y1="86" x2="230.1" y2="136" stroke="rgb(15,15,15)" stroke-width="2.5" opacity="0.85"/>
<line x1="199.6" y1="86" x2="232.3" y2="136" stroke="rgb(200,200,200)" stroke-width="0.9" opacity="0.75"/>
<line x1="233.8" y1="86" x2="278.5" y2="136" stroke="rgb(15,15,15)" stroke-width="2.5" opacity="0.85"/>
<line x1="186.4" y1="86" x2="223.7" y2="136" stroke="rgb(15,15,15)" stroke-width="3.5" opacity="0.85"/>
<circle cx="228.8" cy="91.4" r="0.70" fill="#f4f4f4" opacity="0.86"/>
<circle cx="186.4" cy="91.6" r="0.58" fill="#f4f4f4" opacity="0.71"/>
<circle cx="198.2" cy="108.8" r="0.51" fill="#f4f4f4" opacity="0.80"/>
<circle cx="224.5" cy="114.9" r="0.71" fill="#f4f4f4" opacity="0.64"/>
<circle cx="226.4" cy="129.6" r="0.57" fill="#f4f4f4" opacity="0.52"/>
<circle cx="204.3" cy="89.1" r="0.59" fill="#f4f4f4" opacity="0.50"/>
<circle cx="197.9" cy="120.7" r="0.81" fill="#f4f4f4" opacity="0.87"/>
<circle cx="215.3" cy="124.7" r="0.86" fill="#f4f4f4" opacity="0.58"/>
<circle cx="207.5" cy="133.3" r="0.67" fill="#f4f4f4" opacity="0.88"/>
<circle cx="227.7" cy="106.5" r="0.68" fill="#f4f4f4" opacity="0.67"/>
<circle cx="184.0" cy="124.2" r="0.85" fill="#f4f4f4" opacity="0.60"/>
<circle cx="186.2" cy="115.5" r="0.70" fill="#f4f4f4" opacity="0.80"/>
<circle cx="179.2" cy="94.6" r="0.74" fill="#f4f4f4" opacity="0.82"/>
<circle cx="194.1" cy="124.1" r="0.71" fill="#f4f4f4" opacity="0.56"/>
<circle cx="177.8" cy="111.5" r="0.73" fill="#f4f4f4" opacity="0.58"/>
<circle cx="193.4" cy="100.9" r="0.77" fill="#f4f4f4" opacity="0.90"/>
<circle cx="217.3" cy="105.1" r="0.57" fill="#f4f4f4" opacity="0.67"/>
<circle cx="224.7" cy="88.7" r="0.67" fill="#f4f4f4" opacity="0.84"/>
<circle cx="219.4" cy="130.6" r="0.81" fill="#f4f4f4" opacity="0.57"/>
<circle cx="226.8" cy="100.4" r="0.69" fill="#f4f4f4" opacity="0.82"/>
<circle cx="189.4" cy="99.8" r="0.70" fill="#f4f4f4" opacity="0.88"/>
<circle cx="232.7" cy="125.2" r="0.75" fill="#f4f4f4" opacity="0.84"/>
<circle cx="212.4" cy="130.9" r="0.51" fill="#f4f4f4" opacity="0.70"/>
<circle cx="231.9" cy="114.6" r="0.79" fill="#f4f4f4" opacity="0.57"/>
<circle cx="181.9" cy="127.7" r="0.65" fill="#f4f4f4" opacity="0.72"/>
</g>
<ellipse cx="212.5" cy="113.5" rx="14" ry="17" fill="#223022" opacity="0.28" filter="url(#bl3)"/>
<g>
<ellipse cx="209.5" cy="112.9" rx="5.5" ry="6.5" transform="rotate(20 209.5 112.9)" fill="#1a2a1a" opacity="0.3" filter="url(#bl)"/>
<ellipse cx="215.5" cy="110" rx="4.5" ry="5.5" transform="rotate(20 215.5 110)" fill="#1a2a1a" opacity="0.3" filter="url(#bl)"/>
<ellipse cx="209.5" cy="112.9" rx="3.5" ry="4.5" transform="rotate(20 209.5 112.9)" fill="#f03232" opacity="0.9" filter="url(#bl)"/>
<ellipse cx="215.5" cy="110" rx="2.5" ry="3.5" transform="rotate(20 215.5 110)" fill="#2ed82e" opacity="0.85" filter="url(#bl)"/>
</g>
</g>
<g clip-path="url(#c15)"><g filter="url(#gr2)">
<rect x="174" y="135" width="66" height="49" fill="rgb(132,132,132)"/>
<line x1="216.0" y1="134" x2="257.1" y2="185" stroke="rgb(15,15,15)" stroke-width="3" opacity="0.85"/>
<line x1="218.4" y1="134" x2="259.5" y2="185" stroke="rgb(200,200,200)" stroke-width="0.9" opacity="0.75"/>
<line x1="206.5" y1="134" x2="248.0" y2="185" stroke="rgb(15,15,15)" stroke-width="1.5" opacity="0.85"/>
<line x1="136.0" y1="134" x2="174.9" y2="185" stroke="rgb(15,15,15)" stroke-width="3.5" opacity="0.85"/>
<line x1="138.7" y1="134" x2="177.6" y2="185" stroke="rgb(200,200,200)" stroke-width="0.9" opacity="0.75"/>
<line x1="201.3" y1="134" x2="236.8" y2="185" stroke="rgb(15,15,15)" stroke-width="3.5" opacity="0.85"/>
<line x1="203.9" y1="134" x2="239.4" y2="185" stroke="rgb(200,200,200)" stroke-width="0.9" opacity="0.75"/>
<line x1="184.4" y1="134" x2="226.9" y2="185" stroke="rgb(15,15,15)" stroke-width="3" opacity="0.85"/>
<line x1="209.9" y1="134" x2="253.8" y2="185" stroke="rgb(15,15,15)" stroke-width="1.5" opacity="0.85"/>
<line x1="181.2" y1="134" x2="218.7" y2="185" stroke="rgb(15,15,15)" stroke-width="3" opacity="0.85"/>
<line x1="183.6" y1="134" x2="221.1" y2="185" stroke="rgb(200,200,200)" stroke-width="0.9" opacity="0.75"/>
<line x1="230.8" y1="134" x2="262.4" y2="185" stroke="rgb(15,15,15)" stroke-width="1.5" opacity="0.85"/>
<line x1="232.4" y1="134" x2="264.0" y2="185" stroke="rgb(200,200,200)" stroke-width="0.9" opacity="0.75"/>
<line x1="151.5" y1="134" x2="185.3" y2="185" stroke="rgb(15,15,15)" stroke-width="2" opacity="0.85"/>
<line x1="153.4" y1="134" x2="187.2" y2="185" stroke="rgb(200,200,200)" stroke-width="0.9" opacity="0.75"/>
<line x1="156.3" y1="134" x2="198.0" y2="185" stroke="rgb(15,15,15)" stroke-width="2" opacity="0.85"/>
<line x1="158.2" y1="134" x2="199.9" y2="185" stroke="rgb(200,200,200)" stroke-width="0.9" opacity="0.75"/>
<line x1="230.5" y1="134" x2="266.0" y2="185" stroke="rgb(15,15,15)" stroke-width="2.5" opacity="0.85"/>
<line x1="232.6" y1="134" x2="268.1" y2="185" stroke="rgb(200,200,200)" stroke-width="0.9" opacity="0.75"/>
<line x1="227.2" y1="134" x2="282.7" y2="185" stroke="rgb(15,15,15)" stroke-width="2" opacity="0.85"/>
<line x1="199.5" y1="134" x2="240.1" y2="185" stroke="rgb(15,15,15)" stroke-width="3" opacity="0.85"/>
<line x1="170.1" y1="134" x2="204.7" y2="185" stroke="rgb(15,15,15)" stroke-width="3" opacity="0.85"/>
<line x1="172.5" y1="134" x2="207.1" y2="185" stroke="rgb(200,200,200)" stroke-width="0.9" opacity="0.75"/>
<line x1="170.4" y1="134" x2="203.8" y2="185" stroke="rgb(15,15,15)" stroke-width="2.5" opacity="0.85"/>
<line x1="172.6" y1="134" x2="206.0" y2="185" stroke="rgb(200,200,200)" stroke-width="0.9" opacity="0.75"/>
<line x1="167.7" y1="134" x2="222.7" y2="185" stroke="rgb(15,15,15)" stroke-width="1.5" opacity="0.85"/>
<circle cx="200.0" cy="182.0" r="0.54" fill="#f4f4f4" opacity="0.87"/>
<circle cx="185.8" cy="176.6" r="0.77" fill="#f4f4f4" opacity="0.88"/>
<circle cx="194.3" cy="166.7" r="0.88" fill="#f4f4f4" opacity="0.55"/>
<circle cx="186.8" cy="162.2" r="0.55" fill="#f4f4f4" opacity="0.52"/>
<circle cx="176.0" cy="152.3" r="0.76" fill="#f4f4f4" opacity="0.69"/>
<circle cx="213.7" cy="137.2" r="0.54" fill="#f4f4f4" opacity="0.73"/>
<circle cx="185.0" cy="136.6" r="0.52" fill="#f4f4f4" opacity="0.76"/>
<circle cx="236.4" cy="159.3" r="0.50" fill="#f4f4f4" opacity="0.58"/>
<circle cx="218.6" cy="173.3" r="0.58" fill="#f4f4f4" opacity="0.69"/>
<circle cx="177.3" cy="161.4" r="0.80" fill="#f4f4f4" opacity="0.70"/>
<circle cx="225.3" cy="147.0" r="0.77" fill="#f4f4f4" opacity="0.69"/>
<circle cx="213.6" cy="139.4" r="0.68" fill="#f4f4f4" opacity="0.75"/>
<circle cx="190.0" cy="162.0" r="0.51" fill="#f4f4f4" opacity="0.67"/>
<circle cx="235.2" cy="166.4" r="0.70" fill="#f4f4f4" opacity="0.85"/>
<circle cx="219.4" cy="159.9" r="0.65" fill="#f4f4f4" opacity="0.85"/>
<circle cx="211.1" cy="158.9" r="0.65" fill="#f4f4f4" opacity="0.56"/>
<circle cx="187.2" cy="164.3" r="0.71" fill="#f4f4f4" opacity="0.81"/>
<circle cx="203.7" cy="154.1" r="0.72" fill="#f4f4f4" opacity="0.60"/>
<circle cx="236.5" cy="165.9" r="0.62" fill="#f4f4f4" opacity="0.70"/>
<circle cx="228.8" cy="180.7" r="0.78" fill="#f4f4f4" opacity="0.85"/>
<circle cx="226.6" cy="153.3" r="0.67" fill="#f4f4f4" opacity="0.69"/>
<circle cx="178.3" cy="163.8" r="0.72" fill="#f4f4f4" opacity="0.81"/>
<circle cx="196.8" cy="181.9" r="0.80" fill="#f4f4f4" opacity="0.73"/>
<circle cx="189.6" cy="179.9" r="0.77" fill="#f4f4f4" opacity="0.75"/>
<circle cx="187.4" cy="145.3" r="0.58" fill="#f4f4f4" opacity="0.87"/>
</g>
<ellipse cx="210.1" cy="166.2" rx="14" ry="17" fill="#223022" opacity="0.28" filter="url(#bl3)"/>
<g>
<ellipse cx="205.7" cy="166.2" rx="6.5" ry="7.5" transform="rotate(30 205.7 166.2)" fill="#1a2a1a" opacity="0.3" filter="url(#bl)"/>
<ellipse cx="214.6" cy="162.4" rx="5.5" ry="7" transform="rotate(30 214.6 162.4)" fill="#1a2a1a" opacity="0.3" filter="url(#bl)"/>
<ellipse cx="210" cy="164" rx="5" ry="5" transform="rotate(0 210 164)" fill="#1a2a1a" opacity="0.3" filter="url(#bl)"/>
<ellipse cx="205.7" cy="166.2" rx="4.5" ry="5.5" transform="rotate(30 205.7 166.2)" fill="#f03232" opacity="0.9" filter="url(#bl)"/>
<ellipse cx="214.6" cy="162.4" rx="3.5" ry="5" transform="rotate(30 214.6 162.4)" fill="#2ed82e" opacity="0.9" filter="url(#bl)"/>
<ellipse cx="210" cy="164" rx="3" ry="3" transform="rotate(0 210 164)" fill="#f2ee30" opacity="0.75" filter="url(#bl)"/>
</g>
</g>
<g clip-path="url(#c16)"><g filter="url(#gr2)">
<rect x="174" y="184" width="66" height="48" fill="rgb(132,132,132)"/>
<line x1="142.8" y1="183" x2="187.8" y2="233" stroke="rgb(15,15,15)" stroke-width="3" opacity="0.85"/>
<line x1="145.2" y1="183" x2="190.2" y2="233" stroke="rgb(200,200,200)" stroke-width="0.9" opacity="0.75"/>
<line x1="218.0" y1="183" x2="272.4" y2="233" stroke="rgb(15,15,15)" stroke-width="3.5" opacity="0.85"/>
<line x1="220.6" y1="183" x2="275.0" y2="233" stroke="rgb(200,200,200)" stroke-width="0.9" opacity="0.75"/>
<line x1="158.7" y1="183" x2="208.1" y2="233" stroke="rgb(15,15,15)" stroke-width="1.5" opacity="0.85"/>
<line x1="160.4" y1="183" x2="209.7" y2="233" stroke="rgb(200,200,200)" stroke-width="0.9" opacity="0.75"/>
<line x1="143.4" y1="183" x2="176.3" y2="233" stroke="rgb(15,15,15)" stroke-width="2" opacity="0.85"/>
<line x1="145.3" y1="183" x2="178.2" y2="233" stroke="rgb(200,200,200)" stroke-width="0.9" opacity="0.75"/>
<line x1="241.1" y1="183" x2="285.4" y2="233" stroke="rgb(15,15,15)" stroke-width="2.5" opacity="0.85"/>
<line x1="243.2" y1="183" x2="287.5" y2="233" stroke="rgb(200,200,200)" stroke-width="0.9" opacity="0.75"/>
<line x1="181.3" y1="183" x2="230.1" y2="233" stroke="rgb(15,15,15)" stroke-width="3" opacity="0.85"/>
<line x1="183.7" y1="183" x2="232.5" y2="233" stroke="rgb(200,200,200)" stroke-width="0.9" opacity="0.75"/>
<line x1="140.9" y1="183" x2="182.2" y2="233" stroke="rgb(15,15,15)" stroke-width="3.5" opacity="0.85"/>
<line x1="143.5" y1="183" x2="184.9" y2="233" stroke="rgb(200,200,200)" stroke-width="0.9" opacity="0.75"/>
<line x1="145.8" y1="183" x2="196.0" y2="233" stroke="rgb(15,15,15)" stroke-width="3" opacity="0.85"/>
<line x1="148.2" y1="183" x2="198.4" y2="233" stroke="rgb(200,200,200)" stroke-width="0.9" opacity="0.75"/>
<line x1="188.9" y1="183" x2="220.6" y2="233" stroke="rgb(15,15,15)" stroke-width="2.5" opacity="0.85"/>
<line x1="191.0" y1="183" x2="222.7" y2="233" stroke="rgb(200,200,200)" stroke-width="0.9" opacity="0.75"/>
<line x1="223.4" y1="183" x2="270.3" y2="233" stroke="rgb(15,15,15)" stroke-width="2.5" opacity="0.85"/>
<line x1="201.9" y1="183" x2="255.5" y2="233" stroke="rgb(15,15,15)" stroke-width="1.5" opacity="0.85"/>
<line x1="203.5" y1="183" x2="257.2" y2="233" stroke="rgb(200,200,200)" stroke-width="0.9" opacity="0.75"/>
<line x1="213.4" y1="183" x2="259.4" y2="233" stroke="rgb(15,15,15)" stroke-width="1.5" opacity="0.85"/>
<line x1="215.0" y1="183" x2="261.0" y2="233" stroke="rgb(200,200,200)" stroke-width="0.9" opacity="0.75"/>
<line x1="206.7" y1="183" x2="238.4" y2="233" stroke="rgb(15,15,15)" stroke-width="1.5" opacity="0.85"/>
<line x1="208.4" y1="183" x2="240.0" y2="233" stroke="rgb(200,200,200)" stroke-width="0.9" opacity="0.75"/>
<line x1="161.7" y1="183" x2="203.9" y2="233" stroke="rgb(15,15,15)" stroke-width="2.5" opacity="0.85"/>
<line x1="140.9" y1="183" x2="193.3" y2="233" stroke="rgb(15,15,15)" stroke-width="2" opacity="0.85"/>
<line x1="142.8" y1="183" x2="195.2" y2="233" stroke="rgb(200,200,200)" stroke-width="0.9" opacity="0.75"/>
<line x1="219.6" y1="183" x2="261.6" y2="233" stroke="rgb(15,15,15)" stroke-width="1.5" opacity="0.85"/>
<circle cx="235.6" cy="228.7" r="0.90" fill="#f4f4f4" opacity="0.87"/>
<circle cx="238.1" cy="218.0" r="0.78" fill="#f4f4f4" opacity="0.73"/>
<circle cx="200.0" cy="223.5" r="0.65" fill="#f4f4f4" opacity="0.86"/>
<circle cx="203.3" cy="186.0" r="0.84" fill="#f4f4f4" opacity="0.69"/>
<circle cx="175.3" cy="222.6" r="0.82" fill="#f4f4f4" opacity="0.85"/>
<circle cx="204.7" cy="192.7" r="0.59" fill="#f4f4f4" opacity="0.71"/>
<circle cx="218.0" cy="210.6" r="0.60" fill="#f4f4f4" opacity="0.56"/>
<circle cx="237.3" cy="230.9" r="0.88" fill="#f4f4f4" opacity="0.71"/>
<circle cx="180.0" cy="195.2" r="0.72" fill="#f4f4f4" opacity="0.85"/>
<circle cx="219.5" cy="190.0" r="0.87" fill="#f4f4f4" opacity="0.76"/>
<circle cx="202.5" cy="220.4" r="0.66" fill="#f4f4f4" opacity="0.72"/>
<circle cx="176.6" cy="188.5" r="0.87" fill="#f4f4f4" opacity="0.67"/>
<circle cx="225.6" cy="202.1" r="0.66" fill="#f4f4f4" opacity="0.54"/>
<circle cx="232.4" cy="196.6" r="0.81" fill="#f4f4f4" opacity="0.57"/>
<circle cx="194.4" cy="189.1" r="0.78" fill="#f4f4f4" opacity="0.87"/>
<circle cx="215.1" cy="214.6" r="0.60" fill="#f4f4f4" opacity="0.88"/>
<circle cx="182.2" cy="196.5" r="0.73" fill="#f4f4f4" opacity="0.76"/>
<circle cx="193.4" cy="212.2" r="0.55" fill="#f4f4f4" opacity="0.52"/>
<circle cx="202.2" cy="211.5" r="0.85" fill="#f4f4f4" opacity="0.69"/>
<circle cx="234.9" cy="220.3" r="0.89" fill="#f4f4f4" opacity="0.78"/>
<circle cx="202.1" cy="214.3" r="0.78" fill="#f4f4f4" opacity="0.60"/>
<circle cx="186.1" cy="199.9" r="0.72" fill="#f4f4f4" opacity="0.52"/>
<circle cx="197.9" cy="191.7" r="0.87" fill="#f4f4f4" opacity="0.68"/>
<circle cx="211.4" cy="191.4" r="0.68" fill="#f4f4f4" opacity="0.88"/>
<circle cx="228.4" cy="227.0" r="0.57" fill="#f4f4f4" opacity="0.84"/>
</g>
<ellipse cx="212.0" cy="211.2" rx="14" ry="17" fill="#223022" opacity="0.28" filter="url(#bl3)"/>
<g>
<ellipse cx="209" cy="207" rx="9" ry="9" transform="rotate(0 209 207)" fill="#1a2a1a" opacity="0.3" filter="url(#bl)"/>
<ellipse cx="219" cy="204.7" rx="5.5" ry="6" transform="rotate(0 219 204.7)" fill="#1a2a1a" opacity="0.3" filter="url(#bl)"/>
<ellipse cx="213.5" cy="216.4" rx="6" ry="5" transform="rotate(0 213.5 216.4)" fill="#1a2a1a" opacity="0.3" filter="url(#bl)"/>
<ellipse cx="207.5" cy="206" rx="6.5" ry="7" transform="rotate(0 207.5 206)" fill="#1a2a1a" opacity="0.3" filter="url(#bl)"/>
<ellipse cx="211" cy="212" rx="7.5" ry="7.5" transform="rotate(0 211 212)" fill="#1a2a1a" opacity="0.3" filter="url(#bl)"/>
<ellipse cx="209" cy="207" rx="7" ry="7" transform="rotate(0 209 207)" fill="#ff9a22" opacity="0.95" filter="url(#bl)"/>
<ellipse cx="219" cy="204.7" rx="3.5" ry="4" transform="rotate(0 219 204.7)" fill="#2ed82e" opacity="0.95" filter="url(#bl)"/>
<ellipse cx="213.5" cy="216.4" rx="4" ry="3" transform="rotate(0 213.5 216.4)" fill="#2ed82e" opacity="0.95" filter="url(#bl)"/>
<ellipse cx="207.5" cy="206" rx="4.5" ry="5" transform="rotate(0 207.5 206)" fill="#f03232" opacity="0.8" filter="url(#bl)"/>
<ellipse cx="211" cy="212" rx="5.5" ry="5.5" transform="rotate(0 211 212)" fill="#f2ee30" opacity="0.9" filter="url(#bl)"/>
</g>
</g>
<g clip-path="url(#c17)"><g filter="url(#gr2)">
<rect x="174" y="232" width="66" height="48.5" fill="rgb(132,132,132)"/>
<line x1="175.9" y1="231" x2="229.6" y2="281.5" stroke="rgb(15,15,15)" stroke-width="1.5" opacity="0.85"/>
<line x1="177.6" y1="231" x2="231.3" y2="281.5" stroke="rgb(200,200,200)" stroke-width="0.9" opacity="0.75"/>
<line x1="177.6" y1="231" x2="210.5" y2="281.5" stroke="rgb(15,15,15)" stroke-width="2.5" opacity="0.85"/>
<line x1="179.7" y1="231" x2="212.7" y2="281.5" stroke="rgb(200,200,200)" stroke-width="0.9" opacity="0.75"/>
<line x1="168.3" y1="231" x2="200.5" y2="281.5" stroke="rgb(15,15,15)" stroke-width="3" opacity="0.85"/>
<line x1="170.7" y1="231" x2="202.9" y2="281.5" stroke="rgb(200,200,200)" stroke-width="0.9" opacity="0.75"/>
<line x1="206.3" y1="231" x2="258.4" y2="281.5" stroke="rgb(15,15,15)" stroke-width="3.5" opacity="0.85"/>
<line x1="149.0" y1="231" x2="185.1" y2="281.5" stroke="rgb(15,15,15)" stroke-width="2" opacity="0.85"/>
<line x1="154.9" y1="231" x2="196.6" y2="281.5" stroke="rgb(15,15,15)" stroke-width="2.5" opacity="0.85"/>
<line x1="157.1" y1="231" x2="198.7" y2="281.5" stroke="rgb(200,200,200)" stroke-width="0.9" opacity="0.75"/>
<line x1="237.4" y1="231" x2="271.1" y2="281.5" stroke="rgb(15,15,15)" stroke-width="2.5" opacity="0.85"/>
<line x1="239.6" y1="231" x2="273.3" y2="281.5" stroke="rgb(200,200,200)" stroke-width="0.9" opacity="0.75"/>
<line x1="212.4" y1="231" x2="262.3" y2="281.5" stroke="rgb(15,15,15)" stroke-width="1.5" opacity="0.85"/>
<line x1="214.1" y1="231" x2="263.9" y2="281.5" stroke="rgb(200,200,200)" stroke-width="0.9" opacity="0.75"/>
<line x1="193.2" y1="231" x2="233.7" y2="281.5" stroke="rgb(15,15,15)" stroke-width="3" opacity="0.85"/>
<line x1="190.4" y1="231" x2="231.9" y2="281.5" stroke="rgb(15,15,15)" stroke-width="3" opacity="0.85"/>
<line x1="192.8" y1="231" x2="234.3" y2="281.5" stroke="rgb(200,200,200)" stroke-width="0.9" opacity="0.75"/>
<line x1="221.9" y1="231" x2="275.5" y2="281.5" stroke="rgb(15,15,15)" stroke-width="2.5" opacity="0.85"/>
<line x1="217.7" y1="231" x2="270.5" y2="281.5" stroke="rgb(15,15,15)" stroke-width="2" opacity="0.85"/>
<line x1="219.6" y1="231" x2="272.4" y2="281.5" stroke="rgb(200,200,200)" stroke-width="0.9" opacity="0.75"/>
<line x1="216.0" y1="231" x2="256.3" y2="281.5" stroke="rgb(15,15,15)" stroke-width="3" opacity="0.85"/>
<line x1="172.2" y1="231" x2="219.6" y2="281.5" stroke="rgb(15,15,15)" stroke-width="3" opacity="0.85"/>
<line x1="174.6" y1="231" x2="222.0" y2="281.5" stroke="rgb(200,200,200)" stroke-width="0.9" opacity="0.75"/>
<line x1="200.6" y1="231" x2="235.8" y2="281.5" stroke="rgb(15,15,15)" stroke-width="2.5" opacity="0.85"/>
<line x1="202.8" y1="231" x2="237.9" y2="281.5" stroke="rgb(200,200,200)" stroke-width="0.9" opacity="0.75"/>
<line x1="235.8" y1="231" x2="289.2" y2="281.5" stroke="rgb(15,15,15)" stroke-width="3.5" opacity="0.85"/>
<circle cx="224.5" cy="254.1" r="0.84" fill="#f4f4f4" opacity="0.52"/>
<circle cx="212.3" cy="273.0" r="0.80" fill="#f4f4f4" opacity="0.72"/>
<circle cx="198.5" cy="247.4" r="0.67" fill="#f4f4f4" opacity="0.90"/>
<circle cx="182.9" cy="249.3" r="0.60" fill="#f4f4f4" opacity="0.68"/>
<circle cx="193.1" cy="243.0" r="0.72" fill="#f4f4f4" opacity="0.58"/>
<circle cx="227.9" cy="267.9" r="0.65" fill="#f4f4f4" opacity="0.74"/>
<circle cx="206.4" cy="234.0" r="0.58" fill="#f4f4f4" opacity="0.58"/>
<circle cx="203.6" cy="274.3" r="0.58" fill="#f4f4f4" opacity="0.75"/>
<circle cx="204.3" cy="253.5" r="0.86" fill="#f4f4f4" opacity="0.89"/>
<circle cx="193.2" cy="269.5" r="0.80" fill="#f4f4f4" opacity="0.89"/>
<circle cx="193.0" cy="268.3" r="0.51" fill="#f4f4f4" opacity="0.79"/>
<circle cx="233.7" cy="255.7" r="0.73" fill="#f4f4f4" opacity="0.55"/>
<circle cx="217.3" cy="270.4" r="0.51" fill="#f4f4f4" opacity="0.53"/>
<circle cx="213.1" cy="267.8" r="0.57" fill="#f4f4f4" opacity="0.86"/>
<circle cx="181.9" cy="247.1" r="0.64" fill="#f4f4f4" opacity="0.75"/>
<circle cx="186.7" cy="266.5" r="0.71" fill="#f4f4f4" opacity="0.62"/>
<circle cx="195.8" cy="244.2" r="0.77" fill="#f4f4f4" opacity="0.52"/>
<circle cx="198.1" cy="249.0" r="0.51" fill="#f4f4f4" opacity="0.63"/>
<circle cx="197.6" cy="275.7" r="0.64" fill="#f4f4f4" opacity="0.73"/>
<circle cx="199.3" cy="274.4" r="0.76" fill="#f4f4f4" opacity="0.71"/>
<circle cx="220.5" cy="241.9" r="0.64" fill="#f4f4f4" opacity="0.71"/>
<circle cx="198.2" cy="270.2" r="0.52" fill="#f4f4f4" opacity="0.50"/>
<circle cx="210.8" cy="249.9" r="0.65" fill="#f4f4f4" opacity="0.77"/>
<circle cx="209.7" cy="237.7" r="0.59" fill="#f4f4f4" opacity="0.59"/>
<circle cx="213.7" cy="234.1" r="0.88" fill="#f4f4f4" opacity="0.61"/>
</g>
<ellipse cx="213.0" cy="261.4" rx="14" ry="17" fill="#223022" opacity="0.28" filter="url(#bl3)"/>
<g>
<ellipse cx="208.5" cy="254" rx="10" ry="9.5" transform="rotate(0 208.5 254)" fill="#1a2a1a" opacity="0.3" filter="url(#bl)"/>
<ellipse cx="218" cy="263.9" rx="6.5" ry="6.5" transform="rotate(0 218 263.9)" fill="#1a2a1a" opacity="0.3" filter="url(#bl)"/>
<ellipse cx="212.6" cy="260.3" rx="9" ry="9" transform="rotate(0 212.6 260.3)" fill="#1a2a1a" opacity="0.3" filter="url(#bl)"/>
<ellipse cx="208.5" cy="254" rx="8" ry="7.5" transform="rotate(0 208.5 254)" fill="#f03232" opacity="0.95" filter="url(#bl)"/>
<ellipse cx="218" cy="263.9" rx="4.5" ry="4.5" transform="rotate(0 218 263.9)" fill="#2ed82e" opacity="0.95" filter="url(#bl)"/>
<ellipse cx="212.6" cy="260.3" rx="7" ry="7" transform="rotate(0 212.6 260.3)" fill="#f2ee30" opacity="0.92" filter="url(#bl)"/>
</g>
</g>
<g clip-path="url(#c18)"><g filter="url(#gr2)">
<rect x="174" y="280" width="66" height="50" fill="rgb(132,132,132)"/>
<line x1="179.3" y1="279" x2="224.5" y2="331" stroke="rgb(15,15,15)" stroke-width="1.5" opacity="0.85"/>
<line x1="181.0" y1="279" x2="226.1" y2="331" stroke="rgb(200,200,200)" stroke-width="0.9" opacity="0.75"/>
<line x1="223.0" y1="279" x2="279.5" y2="331" stroke="rgb(15,15,15)" stroke-width="2" opacity="0.85"/>
<line x1="151.3" y1="279" x2="201.7" y2="331" stroke="rgb(15,15,15)" stroke-width="2" opacity="0.85"/>
<line x1="153.2" y1="279" x2="203.6" y2="331" stroke="rgb(200,200,200)" stroke-width="0.9" opacity="0.75"/>
<line x1="239.0" y1="279" x2="285.4" y2="331" stroke="rgb(15,15,15)" stroke-width="2" opacity="0.85"/>
<line x1="211.9" y1="279" x2="256.3" y2="331" stroke="rgb(15,15,15)" stroke-width="1.5" opacity="0.85"/>
<line x1="213.5" y1="279" x2="258.0" y2="331" stroke="rgb(200,200,200)" stroke-width="0.9" opacity="0.75"/>
<line x1="215.4" y1="279" x2="248.8" y2="331" stroke="rgb(15,15,15)" stroke-width="2.5" opacity="0.85"/>
<line x1="217.6" y1="279" x2="251.0" y2="331" stroke="rgb(200,200,200)" stroke-width="0.9" opacity="0.75"/>
<line x1="163.6" y1="279" x2="202.7" y2="331" stroke="rgb(15,15,15)" stroke-width="2" opacity="0.85"/>
<line x1="165.5" y1="279" x2="204.6" y2="331" stroke="rgb(200,200,200)" stroke-width="0.9" opacity="0.75"/>
<line x1="190.2" y1="279" x2="247.3" y2="331" stroke="rgb(15,15,15)" stroke-width="2" opacity="0.85"/>
<line x1="192.1" y1="279" x2="249.2" y2="331" stroke="rgb(200,200,200)" stroke-width="0.9" opacity="0.75"/>
<line x1="171.6" y1="279" x2="227.6" y2="331" stroke="rgb(15,15,15)" stroke-width="3" opacity="0.85"/>
<line x1="174.0" y1="279" x2="230.0" y2="331" stroke="rgb(200,200,200)" stroke-width="0.9" opacity="0.75"/>
<line x1="239.0" y1="279" x2="291.5" y2="331" stroke="rgb(15,15,15)" stroke-width="2.5" opacity="0.85"/>
<line x1="139.2" y1="279" x2="188.1" y2="331" stroke="rgb(15,15,15)" stroke-width="1.5" opacity="0.85"/>
<line x1="140.9" y1="279" x2="189.8" y2="331" stroke="rgb(200,200,200)" stroke-width="0.9" opacity="0.75"/>
<line x1="186.8" y1="279" x2="242.8" y2="331" stroke="rgb(15,15,15)" stroke-width="2.5" opacity="0.85"/>
<line x1="188.9" y1="279" x2="244.9" y2="331" stroke="rgb(200,200,200)" stroke-width="0.9" opacity="0.75"/>
<line x1="178.3" y1="279" x2="234.7" y2="331" stroke="rgb(15,15,15)" stroke-width="3.5" opacity="0.85"/>
<line x1="239.1" y1="279" x2="290.0" y2="331" stroke="rgb(15,15,15)" stroke-width="3.5" opacity="0.85"/>
<line x1="241.8" y1="279" x2="292.7" y2="331" stroke="rgb(200,200,200)" stroke-width="0.9" opacity="0.75"/>
<line x1="140.8" y1="279" x2="185.6" y2="331" stroke="rgb(15,15,15)" stroke-width="3" opacity="0.85"/>
<line x1="143.2" y1="279" x2="188.0" y2="331" stroke="rgb(200,200,200)" stroke-width="0.9" opacity="0.75"/>
<line x1="233.8" y1="279" x2="280.1" y2="331" stroke="rgb(15,15,15)" stroke-width="3.5" opacity="0.85"/>
<line x1="236.4" y1="279" x2="282.8" y2="331" stroke="rgb(200,200,200)" stroke-width="0.9" opacity="0.75"/>
<circle cx="235.9" cy="303.3" r="0.60" fill="#f4f4f4" opacity="0.62"/>
<circle cx="199.0" cy="300.5" r="0.61" fill="#f4f4f4" opacity="0.65"/>
<circle cx="230.1" cy="288.3" r="0.55" fill="#f4f4f4" opacity="0.59"/>
<circle cx="186.0" cy="328.2" r="0.83" fill="#f4f4f4" opacity="0.83"/>
<circle cx="175.1" cy="313.2" r="0.79" fill="#f4f4f4" opacity="0.58"/>
<circle cx="191.9" cy="305.5" r="0.66" fill="#f4f4f4" opacity="0.66"/>
<circle cx="208.7" cy="318.7" r="0.81" fill="#f4f4f4" opacity="0.85"/>
<circle cx="227.0" cy="290.1" r="0.75" fill="#f4f4f4" opacity="0.60"/>
<circle cx="210.1" cy="298.7" r="0.87" fill="#f4f4f4" opacity="0.69"/>
<circle cx="205.6" cy="295.2" r="0.70" fill="#f4f4f4" opacity="0.74"/>
<circle cx="182.5" cy="326.9" r="0.70" fill="#f4f4f4" opacity="0.59"/>
<circle cx="228.4" cy="283.4" r="0.78" fill="#f4f4f4" opacity="0.65"/>
<circle cx="235.2" cy="284.5" r="0.86" fill="#f4f4f4" opacity="0.75"/>
<circle cx="220.5" cy="301.0" r="0.63" fill="#f4f4f4" opacity="0.74"/>
<circle cx="193.4" cy="324.2" r="0.71" fill="#f4f4f4" opacity="0.81"/>
<circle cx="222.6" cy="290.9" r="0.69" fill="#f4f4f4" opacity="0.53"/>
<circle cx="181.7" cy="284.3" r="0.89" fill="#f4f4f4" opacity="0.69"/>
<circle cx="200.1" cy="315.1" r="0.59" fill="#f4f4f4" opacity="0.54"/>
<circle cx="179.9" cy="287.9" r="0.62" fill="#f4f4f4" opacity="0.60"/>
<circle cx="203.9" cy="297.0" r="0.86" fill="#f4f4f4" opacity="0.71"/>
<circle cx="230.6" cy="308.6" r="0.72" fill="#f4f4f4" opacity="0.89"/>
<circle cx="179.0" cy="326.4" r="0.85" fill="#f4f4f4" opacity="0.52"/>
<circle cx="177.6" cy="297.9" r="0.61" fill="#f4f4f4" opacity="0.76"/>
<circle cx="196.3" cy="315.8" r="0.70" fill="#f4f4f4" opacity="0.64"/>
<circle cx="190.6" cy="312.5" r="0.57" fill="#f4f4f4" opacity="0.70"/>
</g>
<ellipse cx="212.6" cy="305.9" rx="14" ry="17" fill="#223022" opacity="0.28" filter="url(#bl3)"/>
<g>
<ellipse cx="221.6" cy="296.2" rx="7" ry="6" transform="rotate(0 221.6 296.2)" fill="#1a2a1a" opacity="0.3" filter="url(#bl)"/>
<ellipse cx="203.7" cy="310.5" rx="7" ry="8" transform="rotate(0 203.7 310.5)" fill="#1a2a1a" opacity="0.3" filter="url(#bl)"/>
<ellipse cx="212.6" cy="305.1" rx="13" ry="15" transform="rotate(30 212.6 305.1)" fill="#1a2a1a" opacity="0.3" filter="url(#bl)"/>
<ellipse cx="221.6" cy="296.2" rx="5" ry="4" transform="rotate(0 221.6 296.2)" fill="#2ed82e" opacity="0.95" filter="url(#bl)"/>
<ellipse cx="203.7" cy="310.5" rx="5" ry="6" transform="rotate(0 203.7 310.5)" fill="#f03232" opacity="0.95" filter="url(#bl)"/>
<ellipse cx="212.6" cy="305.1" rx="11" ry="13" transform="rotate(30 212.6 305.1)" fill="#f2ee30" opacity="0.95" filter="url(#bl)"/>
</g>
</g>
<g clip-path="url(#c19)"><g filter="url(#gr3)">
<rect x="240.5" y="38" width="65.5" height="49" fill="rgb(136,136,136)"/>
<line x1="264.9" y1="37" x2="317.6" y2="88" stroke="rgb(40,40,40)" stroke-width="2" opacity="0.85"/>
<line x1="266.8" y1="37" x2="319.5" y2="88" stroke="rgb(215,215,215)" stroke-width="0.9" opacity="0.75"/>
<line x1="257.6" y1="37" x2="300.2" y2="88" stroke="rgb(40,40,40)" stroke-width="2.5" opacity="0.85"/>
<line x1="259.7" y1="37" x2="302.3" y2="88" stroke="rgb(215,215,215)" stroke-width="0.9" opacity="0.75"/>
<line x1="214.0" y1="37" x2="251.4" y2="88" stroke="rgb(40,40,40)" stroke-width="2" opacity="0.85"/>
<line x1="215.9" y1="37" x2="253.3" y2="88" stroke="rgb(215,215,215)" stroke-width="0.9" opacity="0.75"/>
<line x1="227.3" y1="37" x2="278.2" y2="88" stroke="rgb(40,40,40)" stroke-width="1" opacity="0.85"/>
<line x1="228.7" y1="37" x2="279.6" y2="88" stroke="rgb(215,215,215)" stroke-width="0.9" opacity="0.75"/>
<line x1="283.8" y1="37" x2="329.4" y2="88" stroke="rgb(40,40,40)" stroke-width="1" opacity="0.85"/>
<line x1="285.2" y1="37" x2="330.8" y2="88" stroke="rgb(215,215,215)" stroke-width="0.9" opacity="0.75"/>
<line x1="295.8" y1="37" x2="348.3" y2="88" stroke="rgb(40,40,40)" stroke-width="1" opacity="0.85"/>
<line x1="297.2" y1="37" x2="349.7" y2="88" stroke="rgb(215,215,215)" stroke-width="0.9" opacity="0.75"/>
<line x1="238.4" y1="37" x2="287.0" y2="88" stroke="rgb(40,40,40)" stroke-width="1" opacity="0.85"/>
<line x1="239.8" y1="37" x2="288.4" y2="88" stroke="rgb(215,215,215)" stroke-width="0.9" opacity="0.75"/>
<line x1="222.7" y1="37" x2="258.4" y2="88" stroke="rgb(40,40,40)" stroke-width="2.5" opacity="0.85"/>
<line x1="287.0" y1="37" x2="330.1" y2="88" stroke="rgb(40,40,40)" stroke-width="1" opacity="0.85"/>
<line x1="288.4" y1="37" x2="331.5" y2="88" stroke="rgb(215,215,215)" stroke-width="0.9" opacity="0.75"/>
<line x1="206.0" y1="37" x2="245.4" y2="88" stroke="rgb(40,40,40)" stroke-width="2.5" opacity="0.85"/>
<line x1="208.2" y1="37" x2="247.5" y2="88" stroke="rgb(215,215,215)" stroke-width="0.9" opacity="0.75"/>
<line x1="229.9" y1="37" x2="275.4" y2="88" stroke="rgb(40,40,40)" stroke-width="1.5" opacity="0.85"/>
<line x1="273.3" y1="37" x2="307.4" y2="88" stroke="rgb(40,40,40)" stroke-width="2.5" opacity="0.85"/>
<line x1="275.4" y1="37" x2="309.5" y2="88" stroke="rgb(215,215,215)" stroke-width="0.9" opacity="0.75"/>
<line x1="288.8" y1="37" x2="337.0" y2="88" stroke="rgb(40,40,40)" stroke-width="1.5" opacity="0.85"/>
<line x1="290.5" y1="37" x2="338.7" y2="88" stroke="rgb(215,215,215)" stroke-width="0.9" opacity="0.75"/>
<line x1="246.8" y1="37" x2="294.0" y2="88" stroke="rgb(40,40,40)" stroke-width="2" opacity="0.85"/>
<line x1="248.7" y1="37" x2="295.9" y2="88" stroke="rgb(215,215,215)" stroke-width="0.9" opacity="0.75"/>
<line x1="243.9" y1="37" x2="292.9" y2="88" stroke="rgb(40,40,40)" stroke-width="1" opacity="0.85"/>
<line x1="245.3" y1="37" x2="294.3" y2="88" stroke="rgb(215,215,215)" stroke-width="0.9" opacity="0.75"/>
<circle cx="284.3" cy="69.6" r="0.74" fill="#f4f4f4" opacity="0.60"/>
<circle cx="265.1" cy="62.9" r="0.53" fill="#f4f4f4" opacity="0.65"/>
<circle cx="243.3" cy="81.6" r="0.87" fill="#f4f4f4" opacity="0.64"/>
<circle cx="252.4" cy="64.9" r="0.74" fill="#f4f4f4" opacity="0.82"/>
<circle cx="284.4" cy="61.4" r="0.85" fill="#f4f4f4" opacity="0.83"/>
<circle cx="242.7" cy="52.6" r="0.58" fill="#f4f4f4" opacity="0.68"/>
<circle cx="277.0" cy="47.9" r="0.52" fill="#f4f4f4" opacity="0.86"/>
<circle cx="272.6" cy="60.7" r="0.84" fill="#f4f4f4" opacity="0.72"/>
<circle cx="296.4" cy="58.0" r="0.83" fill="#f4f4f4" opacity="0.86"/>
<circle cx="265.9" cy="69.9" r="0.75" fill="#f4f4f4" opacity="0.88"/>
<circle cx="270.6" cy="83.3" r="0.89" fill="#f4f4f4" opacity="0.56"/>
<circle cx="255.3" cy="52.8" r="0.80" fill="#f4f4f4" opacity="0.77"/>
<circle cx="301.6" cy="78.5" r="0.82" fill="#f4f4f4" opacity="0.64"/>
<circle cx="284.1" cy="74.9" r="0.86" fill="#f4f4f4" opacity="0.79"/>
<circle cx="257.6" cy="80.0" r="0.80" fill="#f4f4f4" opacity="0.86"/>
<circle cx="253.5" cy="82.0" r="0.73" fill="#f4f4f4" opacity="0.75"/>
<circle cx="294.2" cy="55.0" r="0.88" fill="#f4f4f4" opacity="0.82"/>
<circle cx="258.1" cy="53.2" r="0.63" fill="#f4f4f4" opacity="0.83"/>
<circle cx="254.0" cy="48.0" r="0.80" fill="#f4f4f4" opacity="0.74"/>
<circle cx="242.9" cy="45.8" r="0.66" fill="#f4f4f4" opacity="0.55"/>
</g>
<path d="M268.0 47.0 L256.9 58.9 L254.5 56.6 L252.7 65.9 L261.8 63.5 L259.4 61.2 L270.4 49.4Z" fill="#fff"/>
</g>
<g clip-path="url(#c20)"><g filter="url(#gr3)">
<rect x="240.5" y="87" width="65.5" height="48" fill="rgb(136,136,136)"/>
<line x1="244.1" y1="86" x2="285.1" y2="136" stroke="rgb(40,40,40)" stroke-width="2.5" opacity="0.85"/>
<line x1="246.2" y1="86" x2="287.3" y2="136" stroke="rgb(215,215,215)" stroke-width="0.9" opacity="0.75"/>
<line x1="302.6" y1="86" x2="333.1" y2="136" stroke="rgb(40,40,40)" stroke-width="2" opacity="0.85"/>
<line x1="257.1" y1="86" x2="287.0" y2="136" stroke="rgb(40,40,40)" stroke-width="1.5" opacity="0.85"/>
<line x1="258.8" y1="86" x2="288.7" y2="136" stroke="rgb(215,215,215)" stroke-width="0.9" opacity="0.75"/>
<line x1="260.5" y1="86" x2="288.8" y2="136" stroke="rgb(40,40,40)" stroke-width="2" opacity="0.85"/>
<line x1="262.4" y1="86" x2="290.7" y2="136" stroke="rgb(215,215,215)" stroke-width="0.9" opacity="0.75"/>
<line x1="280.8" y1="86" x2="328.7" y2="136" stroke="rgb(40,40,40)" stroke-width="2" opacity="0.85"/>
<line x1="304.2" y1="86" x2="347.2" y2="136" stroke="rgb(40,40,40)" stroke-width="1.5" opacity="0.85"/>
<line x1="299.7" y1="86" x2="346.4" y2="136" stroke="rgb(40,40,40)" stroke-width="1" opacity="0.85"/>
<line x1="301.1" y1="86" x2="347.8" y2="136" stroke="rgb(215,215,215)" stroke-width="0.9" opacity="0.75"/>
<line x1="301.9" y1="86" x2="336.5" y2="136" stroke="rgb(40,40,40)" stroke-width="2.5" opacity="0.85"/>
<line x1="219.0" y1="86" x2="268.5" y2="136" stroke="rgb(40,40,40)" stroke-width="1" opacity="0.85"/>
<line x1="220.4" y1="86" x2="269.9" y2="136" stroke="rgb(215,215,215)" stroke-width="0.9" opacity="0.75"/>
<line x1="205.7" y1="86" x2="237.3" y2="136" stroke="rgb(40,40,40)" stroke-width="2" opacity="0.85"/>
<line x1="207.6" y1="86" x2="239.2" y2="136" stroke="rgb(215,215,215)" stroke-width="0.9" opacity="0.75"/>
<line x1="249.7" y1="86" x2="296.0" y2="136" stroke="rgb(40,40,40)" stroke-width="2" opacity="0.85"/>
<line x1="283.2" y1="86" x2="332.0" y2="136" stroke="rgb(40,40,40)" stroke-width="1" opacity="0.85"/>
<line x1="231.9" y1="86" x2="278.2" y2="136" stroke="rgb(40,40,40)" stroke-width="2.5" opacity="0.85"/>
<line x1="234.0" y1="86" x2="280.3" y2="136" stroke="rgb(215,215,215)" stroke-width="0.9" opacity="0.75"/>
<line x1="262.6" y1="86" x2="303.2" y2="136" stroke="rgb(40,40,40)" stroke-width="2" opacity="0.85"/>
<line x1="264.5" y1="86" x2="305.1" y2="136" stroke="rgb(215,215,215)" stroke-width="0.9" opacity="0.75"/>
<line x1="271.0" y1="86" x2="320.1" y2="136" stroke="rgb(40,40,40)" stroke-width="1.5" opacity="0.85"/>
<circle cx="265.6" cy="99.0" r="0.69" fill="#f4f4f4" opacity="0.54"/>
<circle cx="279.5" cy="98.1" r="0.62" fill="#f4f4f4" opacity="0.82"/>
<circle cx="301.5" cy="116.5" r="0.61" fill="#f4f4f4" opacity="0.88"/>
<circle cx="279.3" cy="113.4" r="0.66" fill="#f4f4f4" opacity="0.83"/>
<circle cx="262.0" cy="95.4" r="0.64" fill="#f4f4f4" opacity="0.63"/>
<circle cx="251.9" cy="93.9" r="0.78" fill="#f4f4f4" opacity="0.60"/>
<circle cx="296.4" cy="117.9" r="0.84" fill="#f4f4f4" opacity="0.77"/>
<circle cx="245.2" cy="125.1" r="0.51" fill="#f4f4f4" opacity="0.67"/>
<circle cx="294.7" cy="113.3" r="0.86" fill="#f4f4f4" opacity="0.70"/>
<circle cx="290.6" cy="106.2" r="0.64" fill="#f4f4f4" opacity="0.76"/>
<circle cx="272.0" cy="104.2" r="0.82" fill="#f4f4f4" opacity="0.66"/>
<circle cx="301.3" cy="111.7" r="0.67" fill="#f4f4f4" opacity="0.88"/>
<circle cx="275.4" cy="105.9" r="0.74" fill="#f4f4f4" opacity="0.70"/>
<circle cx="243.8" cy="98.8" r="0.62" fill="#f4f4f4" opacity="0.75"/>
<circle cx="270.6" cy="107.1" r="0.64" fill="#f4f4f4" opacity="0.81"/>
<circle cx="264.2" cy="96.6" r="0.58" fill="#f4f4f4" opacity="0.82"/>
<circle cx="261.6" cy="103.4" r="0.55" fill="#f4f4f4" opacity="0.52"/>
<circle cx="302.3" cy="89.3" r="0.60" fill="#f4f4f4" opacity="0.59"/>
<circle cx="258.5" cy="127.6" r="0.52" fill="#f4f4f4" opacity="0.88"/>
<circle cx="271.9" cy="110.0" r="0.71" fill="#f4f4f4" opacity="0.85"/>
</g>
<g>
<ellipse cx="276.8" cy="111.6" rx="5.5" ry="6.5" transform="rotate(0 276.8 111.6)" fill="#1a2a1a" opacity="0.3" filter="url(#bl)"/>
<ellipse cx="276.8" cy="111.6" rx="3.5" ry="4.5" transform="rotate(0 276.8 111.6)" fill="#d04858" opacity="0.55" filter="url(#bl)"/>
</g>
</g>
<g clip-path="url(#c21)"><g filter="url(#gr3)">
<rect x="240.5" y="135" width="65.5" height="49" fill="rgb(136,136,136)"/>
<line x1="304.3" y1="134" x2="344.4" y2="185" stroke="rgb(40,40,40)" stroke-width="2.5" opacity="0.85"/>
<line x1="306.4" y1="134" x2="346.6" y2="185" stroke="rgb(215,215,215)" stroke-width="0.9" opacity="0.75"/>
<line x1="204.9" y1="134" x2="238.0" y2="185" stroke="rgb(40,40,40)" stroke-width="2.5" opacity="0.85"/>
<line x1="243.2" y1="134" x2="288.1" y2="185" stroke="rgb(40,40,40)" stroke-width="1" opacity="0.85"/>
<line x1="244.6" y1="134" x2="289.5" y2="185" stroke="rgb(215,215,215)" stroke-width="0.9" opacity="0.75"/>
<line x1="269.4" y1="134" x2="310.2" y2="185" stroke="rgb(40,40,40)" stroke-width="1.5" opacity="0.85"/>
<line x1="271.0" y1="134" x2="311.8" y2="185" stroke="rgb(215,215,215)" stroke-width="0.9" opacity="0.75"/>
<line x1="300.1" y1="134" x2="350.2" y2="185" stroke="rgb(40,40,40)" stroke-width="1" opacity="0.85"/>
<line x1="241.3" y1="134" x2="276.7" y2="185" stroke="rgb(40,40,40)" stroke-width="2.5" opacity="0.85"/>
<line x1="289.6" y1="134" x2="337.2" y2="185" stroke="rgb(40,40,40)" stroke-width="2.5" opacity="0.85"/>
<line x1="291.8" y1="134" x2="339.3" y2="185" stroke="rgb(215,215,215)" stroke-width="0.9" opacity="0.75"/>
<line x1="215.8" y1="134" x2="263.3" y2="185" stroke="rgb(40,40,40)" stroke-width="1" opacity="0.85"/>
<line x1="217.2" y1="134" x2="264.7" y2="185" stroke="rgb(215,215,215)" stroke-width="0.9" opacity="0.75"/>
<line x1="231.9" y1="134" x2="281.5" y2="185" stroke="rgb(40,40,40)" stroke-width="1.5" opacity="0.85"/>
<line x1="233.6" y1="134" x2="283.2" y2="185" stroke="rgb(215,215,215)" stroke-width="0.9" opacity="0.75"/>
<line x1="282.8" y1="134" x2="314.3" y2="185" stroke="rgb(40,40,40)" stroke-width="1.5" opacity="0.85"/>
<line x1="284.5" y1="134" x2="316.0" y2="185" stroke="rgb(215,215,215)" stroke-width="0.9" opacity="0.75"/>
<line x1="202.1" y1="134" x2="240.4" y2="185" stroke="rgb(40,40,40)" stroke-width="2.5" opacity="0.85"/>
<line x1="204.3" y1="134" x2="242.6" y2="185" stroke="rgb(215,215,215)" stroke-width="0.9" opacity="0.75"/>
<line x1="277.4" y1="134" x2="309.7" y2="185" stroke="rgb(40,40,40)" stroke-width="2.5" opacity="0.85"/>
<line x1="279.6" y1="134" x2="311.8" y2="185" stroke="rgb(215,215,215)" stroke-width="0.9" opacity="0.75"/>
<line x1="224.8" y1="134" x2="272.6" y2="185" stroke="rgb(40,40,40)" stroke-width="1.5" opacity="0.85"/>
<line x1="226.5" y1="134" x2="274.3" y2="185" stroke="rgb(215,215,215)" stroke-width="0.9" opacity="0.75"/>
<line x1="221.4" y1="134" x2="273.2" y2="185" stroke="rgb(40,40,40)" stroke-width="1.5" opacity="0.85"/>
<line x1="223.0" y1="134" x2="274.8" y2="185" stroke="rgb(215,215,215)" stroke-width="0.9" opacity="0.75"/>
<line x1="218.2" y1="134" x2="271.0" y2="185" stroke="rgb(40,40,40)" stroke-width="1" opacity="0.85"/>
<line x1="219.6" y1="134" x2="272.4" y2="185" stroke="rgb(215,215,215)" stroke-width="0.9" opacity="0.75"/>
<circle cx="300.2" cy="137.9" r="0.89" fill="#f4f4f4" opacity="0.66"/>
<circle cx="251.1" cy="165.4" r="0.78" fill="#f4f4f4" opacity="0.66"/>
<circle cx="271.7" cy="167.4" r="0.61" fill="#f4f4f4" opacity="0.62"/>
<circle cx="285.9" cy="157.4" r="0.83" fill="#f4f4f4" opacity="0.68"/>
<circle cx="287.6" cy="161.7" r="0.60" fill="#f4f4f4" opacity="0.65"/>
<circle cx="277.0" cy="158.2" r="0.78" fill="#f4f4f4" opacity="0.77"/>
<circle cx="285.6" cy="147.5" r="0.85" fill="#f4f4f4" opacity="0.87"/>
<circle cx="264.2" cy="178.4" r="0.69" fill="#f4f4f4" opacity="0.61"/>
<circle cx="245.5" cy="168.3" r="0.78" fill="#f4f4f4" opacity="0.76"/>
<circle cx="268.4" cy="140.5" r="0.50" fill="#f4f4f4" opacity="0.75"/>
<circle cx="283.0" cy="180.8" r="0.82" fill="#f4f4f4" opacity="0.72"/>
<circle cx="303.6" cy="136.6" r="0.87" fill="#f4f4f4" opacity="0.71"/>
<circle cx="271.1" cy="165.0" r="0.64" fill="#f4f4f4" opacity="0.70"/>
<circle cx="297.4" cy="168.5" r="0.87" fill="#f4f4f4" opacity="0.70"/>
<circle cx="253.2" cy="158.9" r="0.80" fill="#f4f4f4" opacity="0.63"/>
<circle cx="281.0" cy="167.6" r="0.65" fill="#f4f4f4" opacity="0.50"/>
<circle cx="286.5" cy="150.1" r="0.89" fill="#f4f4f4" opacity="0.50"/>
<circle cx="286.2" cy="163.5" r="0.85" fill="#f4f4f4" opacity="0.84"/>
<circle cx="297.1" cy="170.1" r="0.76" fill="#f4f4f4" opacity="0.79"/>
<circle cx="288.1" cy="158.6" r="0.65" fill="#f4f4f4" opacity="0.57"/>
</g>
<g>
<ellipse cx="274.3" cy="157.3" rx="4.5" ry="5" transform="rotate(0 274.3 157.3)" fill="#1a2a1a" opacity="0.3" filter="url(#bl)"/>
<ellipse cx="274.3" cy="157.3" rx="2.5" ry="3" transform="rotate(0 274.3 157.3)" fill="#d06070" opacity="0.45" filter="url(#bl)"/>
</g>
</g>
<g clip-path="url(#c22)"><g filter="url(#gr3)">
<rect x="240.5" y="184" width="65.5" height="48" fill="rgb(136,136,136)"/>
<line x1="205.1" y1="183" x2="234.9" y2="233" stroke="rgb(40,40,40)" stroke-width="1.5" opacity="0.85"/>
<line x1="206.7" y1="183" x2="236.5" y2="233" stroke="rgb(215,215,215)" stroke-width="0.9" opacity="0.75"/>
<line x1="267.9" y1="183" x2="299.4" y2="233" stroke="rgb(40,40,40)" stroke-width="2.5" opacity="0.85"/>
<line x1="270.1" y1="183" x2="301.5" y2="233" stroke="rgb(215,215,215)" stroke-width="0.9" opacity="0.75"/>
<line x1="263.6" y1="183" x2="297.6" y2="233" stroke="rgb(40,40,40)" stroke-width="1" opacity="0.85"/>
<line x1="265.0" y1="183" x2="299.0" y2="233" stroke="rgb(215,215,215)" stroke-width="0.9" opacity="0.75"/>
<line x1="274.6" y1="183" x2="319.5" y2="233" stroke="rgb(40,40,40)" stroke-width="1" opacity="0.85"/>
<line x1="276.0" y1="183" x2="320.9" y2="233" stroke="rgb(215,215,215)" stroke-width="0.9" opacity="0.75"/>
<line x1="232.5" y1="183" x2="280.6" y2="233" stroke="rgb(40,40,40)" stroke-width="1" opacity="0.85"/>
<line x1="233.9" y1="183" x2="282.0" y2="233" stroke="rgb(215,215,215)" stroke-width="0.9" opacity="0.75"/>
<line x1="231.5" y1="183" x2="264.7" y2="233" stroke="rgb(40,40,40)" stroke-width="1" opacity="0.85"/>
<line x1="232.9" y1="183" x2="266.1" y2="233" stroke="rgb(215,215,215)" stroke-width="0.9" opacity="0.75"/>
<line x1="218.4" y1="183" x2="265.8" y2="233" stroke="rgb(40,40,40)" stroke-width="2" opacity="0.85"/>
<line x1="289.6" y1="183" x2="330.3" y2="233" stroke="rgb(40,40,40)" stroke-width="2" opacity="0.85"/>
<line x1="291.5" y1="183" x2="332.2" y2="233" stroke="rgb(215,215,215)" stroke-width="0.9" opacity="0.75"/>
<line x1="287.1" y1="183" x2="336.7" y2="233" stroke="rgb(40,40,40)" stroke-width="1" opacity="0.85"/>
<line x1="282.1" y1="183" x2="329.3" y2="233" stroke="rgb(40,40,40)" stroke-width="1.5" opacity="0.85"/>
<line x1="209.3" y1="183" x2="241.1" y2="233" stroke="rgb(40,40,40)" stroke-width="2.5" opacity="0.85"/>
<line x1="216.6" y1="183" x2="265.1" y2="233" stroke="rgb(40,40,40)" stroke-width="1" opacity="0.85"/>
<line x1="298.2" y1="183" x2="337.8" y2="233" stroke="rgb(40,40,40)" stroke-width="1.5" opacity="0.85"/>
<line x1="299.9" y1="183" x2="339.5" y2="233" stroke="rgb(215,215,215)" stroke-width="0.9" opacity="0.75"/>
<line x1="300.9" y1="183" x2="336.4" y2="233" stroke="rgb(40,40,40)" stroke-width="1" opacity="0.85"/>
<line x1="302.3" y1="183" x2="337.8" y2="233" stroke="rgb(215,215,215)" stroke-width="0.9" opacity="0.75"/>
<line x1="300.8" y1="183" x2="352.3" y2="233" stroke="rgb(40,40,40)" stroke-width="1.5" opacity="0.85"/>
<line x1="302.4" y1="183" x2="354.0" y2="233" stroke="rgb(215,215,215)" stroke-width="0.9" opacity="0.75"/>
<circle cx="286.3" cy="185.1" r="0.63" fill="#f4f4f4" opacity="0.57"/>
<circle cx="253.7" cy="216.4" r="0.75" fill="#f4f4f4" opacity="0.71"/>
<circle cx="241.8" cy="209.6" r="0.51" fill="#f4f4f4" opacity="0.89"/>
<circle cx="253.8" cy="216.7" r="0.57" fill="#f4f4f4" opacity="0.65"/>
<circle cx="272.9" cy="208.0" r="0.73" fill="#f4f4f4" opacity="0.76"/>
<circle cx="245.6" cy="207.3" r="0.56" fill="#f4f4f4" opacity="0.71"/>
<circle cx="284.1" cy="208.1" r="0.85" fill="#f4f4f4" opacity="0.52"/>
<circle cx="299.3" cy="206.5" r="0.51" fill="#f4f4f4" opacity="0.82"/>
<circle cx="297.3" cy="204.9" r="0.58" fill="#f4f4f4" opacity="0.86"/>
<circle cx="289.0" cy="226.1" r="0.72" fill="#f4f4f4" opacity="0.85"/>
<circle cx="275.6" cy="188.9" r="0.77" fill="#f4f4f4" opacity="0.56"/>
<circle cx="291.8" cy="222.5" r="0.84" fill="#f4f4f4" opacity="0.76"/>
<circle cx="282.9" cy="225.4" r="0.85" fill="#f4f4f4" opacity="0.59"/>
<circle cx="264.3" cy="221.7" r="0.61" fill="#f4f4f4" opacity="0.73"/>
<circle cx="292.9" cy="195.2" r="0.90" fill="#f4f4f4" opacity="0.61"/>
<circle cx="251.4" cy="216.0" r="0.60" fill="#f4f4f4" opacity="0.71"/>
<circle cx="293.7" cy="192.2" r="0.76" fill="#f4f4f4" opacity="0.81"/>
<circle cx="294.0" cy="215.1" r="0.74" fill="#f4f4f4" opacity="0.67"/>
<circle cx="292.0" cy="194.0" r="0.84" fill="#f4f4f4" opacity="0.62"/>
<circle cx="251.9" cy="197.2" r="0.71" fill="#f4f4f4" opacity="0.66"/>
</g>
<g>
<ellipse cx="275.5" cy="208.7" rx="7.8" ry="7.8" transform="rotate(-20 275.5 208.7)" fill="#1a2a1a" opacity="0.3" filter="url(#bl)"/>
<ellipse cx="273" cy="203.5" rx="5" ry="4" transform="rotate(0 273 203.5)" fill="#1a2a1a" opacity="0.3" filter="url(#bl)"/>
<ellipse cx="275.5" cy="208.7" rx="5.8" ry="5.8" transform="rotate(-20 275.5 208.7)" fill="#f03232" opacity="0.95" filter="url(#bl)"/>
<ellipse cx="273" cy="203.5" rx="3" ry="2" transform="rotate(0 273 203.5)" fill="#2ed82e" opacity="0.7" filter="url(#bl)"/>
</g>
</g>
<g clip-path="url(#c23)"><g filter="url(#gr3)">
<rect x="240.5" y="232" width="65.5" height="48.5" fill="rgb(136,136,136)"/>
<line x1="215.6" y1="231" x2="256.1" y2="281.5" stroke="rgb(40,40,40)" stroke-width="2.5" opacity="0.85"/>
<line x1="207.2" y1="231" x2="241.2" y2="281.5" stroke="rgb(40,40,40)" stroke-width="2" opacity="0.85"/>
<line x1="306.5" y1="231" x2="335.6" y2="281.5" stroke="rgb(40,40,40)" stroke-width="1" opacity="0.85"/>
<line x1="307.9" y1="231" x2="337.0" y2="281.5" stroke="rgb(215,215,215)" stroke-width="0.9" opacity="0.75"/>
<line x1="273.5" y1="231" x2="311.1" y2="281.5" stroke="rgb(40,40,40)" stroke-width="2" opacity="0.85"/>
<line x1="275.4" y1="231" x2="313.0" y2="281.5" stroke="rgb(215,215,215)" stroke-width="0.9" opacity="0.75"/>
<line x1="242.0" y1="231" x2="293.9" y2="281.5" stroke="rgb(40,40,40)" stroke-width="2" opacity="0.85"/>
<line x1="234.3" y1="231" x2="270.2" y2="281.5" stroke="rgb(40,40,40)" stroke-width="2.5" opacity="0.85"/>
<line x1="236.4" y1="231" x2="272.3" y2="281.5" stroke="rgb(215,215,215)" stroke-width="0.9" opacity="0.75"/>
<line x1="265.5" y1="231" x2="310.6" y2="281.5" stroke="rgb(40,40,40)" stroke-width="2.5" opacity="0.85"/>
<line x1="267.7" y1="231" x2="312.7" y2="281.5" stroke="rgb(215,215,215)" stroke-width="0.9" opacity="0.75"/>
<line x1="273.8" y1="231" x2="316.3" y2="281.5" stroke="rgb(40,40,40)" stroke-width="2" opacity="0.85"/>
<line x1="275.7" y1="231" x2="318.2" y2="281.5" stroke="rgb(215,215,215)" stroke-width="0.9" opacity="0.75"/>
<line x1="229.1" y1="231" x2="258.5" y2="281.5" stroke="rgb(40,40,40)" stroke-width="2.5" opacity="0.85"/>
<line x1="296.0" y1="231" x2="342.3" y2="281.5" stroke="rgb(40,40,40)" stroke-width="1" opacity="0.85"/>
<line x1="297.4" y1="231" x2="343.7" y2="281.5" stroke="rgb(215,215,215)" stroke-width="0.9" opacity="0.75"/>
<line x1="305.8" y1="231" x2="342.8" y2="281.5" stroke="rgb(40,40,40)" stroke-width="2.5" opacity="0.85"/>
<line x1="308.0" y1="231" x2="345.0" y2="281.5" stroke="rgb(215,215,215)" stroke-width="0.9" opacity="0.75"/>
<line x1="295.8" y1="231" x2="342.9" y2="281.5" stroke="rgb(40,40,40)" stroke-width="2" opacity="0.85"/>
<line x1="297.7" y1="231" x2="344.8" y2="281.5" stroke="rgb(215,215,215)" stroke-width="0.9" opacity="0.75"/>
<line x1="213.3" y1="231" x2="246.8" y2="281.5" stroke="rgb(40,40,40)" stroke-width="1" opacity="0.85"/>
<line x1="214.7" y1="231" x2="248.2" y2="281.5" stroke="rgb(215,215,215)" stroke-width="0.9" opacity="0.75"/>
<line x1="210.0" y1="231" x2="250.9" y2="281.5" stroke="rgb(40,40,40)" stroke-width="2.5" opacity="0.85"/>
<line x1="212.1" y1="231" x2="253.0" y2="281.5" stroke="rgb(215,215,215)" stroke-width="0.9" opacity="0.75"/>
<line x1="239.0" y1="231" x2="267.9" y2="281.5" stroke="rgb(40,40,40)" stroke-width="2.5" opacity="0.85"/>
<line x1="241.2" y1="231" x2="270.0" y2="281.5" stroke="rgb(215,215,215)" stroke-width="0.9" opacity="0.75"/>
<circle cx="271.7" cy="259.2" r="0.72" fill="#f4f4f4" opacity="0.87"/>
<circle cx="244.3" cy="236.1" r="0.54" fill="#f4f4f4" opacity="0.75"/>
<circle cx="283.3" cy="243.6" r="0.73" fill="#f4f4f4" opacity="0.52"/>
<circle cx="249.7" cy="245.8" r="0.55" fill="#f4f4f4" opacity="0.61"/>
<circle cx="260.3" cy="252.0" r="0.84" fill="#f4f4f4" opacity="0.80"/>
<circle cx="292.8" cy="240.3" r="0.82" fill="#f4f4f4" opacity="0.65"/>
<circle cx="299.2" cy="261.8" r="0.77" fill="#f4f4f4" opacity="0.73"/>
<circle cx="242.9" cy="246.8" r="0.57" fill="#f4f4f4" opacity="0.61"/>
<circle cx="289.7" cy="251.5" r="0.55" fill="#f4f4f4" opacity="0.82"/>
<circle cx="259.6" cy="238.0" r="0.65" fill="#f4f4f4" opacity="0.64"/>
<circle cx="275.9" cy="263.5" r="0.81" fill="#f4f4f4" opacity="0.73"/>
<circle cx="271.7" cy="247.1" r="0.77" fill="#f4f4f4" opacity="0.79"/>
<circle cx="298.5" cy="263.5" r="0.85" fill="#f4f4f4" opacity="0.51"/>
<circle cx="261.8" cy="247.6" r="0.76" fill="#f4f4f4" opacity="0.84"/>
<circle cx="280.6" cy="245.2" r="0.74" fill="#f4f4f4" opacity="0.58"/>
<circle cx="275.4" cy="234.6" r="0.82" fill="#f4f4f4" opacity="0.88"/>
<circle cx="253.6" cy="263.8" r="0.52" fill="#f4f4f4" opacity="0.54"/>
<circle cx="279.5" cy="236.1" r="0.67" fill="#f4f4f4" opacity="0.68"/>
<circle cx="291.5" cy="275.2" r="0.69" fill="#f4f4f4" opacity="0.51"/>
<circle cx="262.3" cy="240.2" r="0.70" fill="#f4f4f4" opacity="0.63"/>
</g>
<g>
<ellipse cx="277.75" cy="259.4" rx="9.5" ry="7.5" transform="rotate(0 277.75 259.4)" fill="#1a2a1a" opacity="0.3" filter="url(#bl)"/>
<ellipse cx="275" cy="250.4" rx="9" ry="6.5" transform="rotate(0 275 250.4)" fill="#1a2a1a" opacity="0.3" filter="url(#bl)"/>
<ellipse cx="276.4" cy="255" rx="7" ry="4.5" transform="rotate(0 276.4 255)" fill="#1a2a1a" opacity="0.3" filter="url(#bl)"/>
<ellipse cx="277.75" cy="259.4" rx="7.5" ry="5.5" transform="rotate(0 277.75 259.4)" fill="#f03232" opacity="0.95" filter="url(#bl)"/>
<ellipse cx="275" cy="250.4" rx="7" ry="4.5" transform="rotate(0 275 250.4)" fill="#2ed82e" opacity="0.95" filter="url(#bl)"/>
<ellipse cx="276.4" cy="255" rx="5" ry="2.5" transform="rotate(0 276.4 255)" fill="#f2ee30" opacity="0.8" filter="url(#bl)"/>
</g>
</g>
<g clip-path="url(#c24)"><g filter="url(#gr3)">
<rect x="240.5" y="280" width="65.5" height="50" fill="rgb(136,136,136)"/>
<line x1="219.8" y1="279" x2="264.8" y2="331" stroke="rgb(40,40,40)" stroke-width="2.5" opacity="0.85"/>
<line x1="222.0" y1="279" x2="267.0" y2="331" stroke="rgb(215,215,215)" stroke-width="0.9" opacity="0.75"/>
<line x1="218.8" y1="279" x2="252.2" y2="331" stroke="rgb(40,40,40)" stroke-width="1.5" opacity="0.85"/>
<line x1="220.4" y1="279" x2="253.8" y2="331" stroke="rgb(215,215,215)" stroke-width="0.9" opacity="0.75"/>
<line x1="274.9" y1="279" x2="324.9" y2="331" stroke="rgb(40,40,40)" stroke-width="1.5" opacity="0.85"/>
<line x1="273.8" y1="279" x2="308.1" y2="331" stroke="rgb(40,40,40)" stroke-width="2.5" opacity="0.85"/>
<line x1="225.8" y1="279" x2="258.2" y2="331" stroke="rgb(40,40,40)" stroke-width="1" opacity="0.85"/>
<line x1="227.2" y1="279" x2="259.6" y2="331" stroke="rgb(215,215,215)" stroke-width="0.9" opacity="0.75"/>
<line x1="258.2" y1="279" x2="296.0" y2="331" stroke="rgb(40,40,40)" stroke-width="1" opacity="0.85"/>
<line x1="295.4" y1="279" x2="335.9" y2="331" stroke="rgb(40,40,40)" stroke-width="1.5" opacity="0.85"/>
<line x1="297.0" y1="279" x2="337.6" y2="331" stroke="rgb(215,215,215)" stroke-width="0.9" opacity="0.75"/>
<line x1="269.9" y1="279" x2="314.7" y2="331" stroke="rgb(40,40,40)" stroke-width="1" opacity="0.85"/>
<line x1="271.3" y1="279" x2="316.1" y2="331" stroke="rgb(215,215,215)" stroke-width="0.9" opacity="0.75"/>
<line x1="235.2" y1="279" x2="266.7" y2="331" stroke="rgb(40,40,40)" stroke-width="2" opacity="0.85"/>
<line x1="237.1" y1="279" x2="268.6" y2="331" stroke="rgb(215,215,215)" stroke-width="0.9" opacity="0.75"/>
<line x1="261.6" y1="279" x2="309.3" y2="331" stroke="rgb(40,40,40)" stroke-width="1.5" opacity="0.85"/>
<line x1="212.9" y1="279" x2="258.7" y2="331" stroke="rgb(40,40,40)" stroke-width="1" opacity="0.85"/>
<line x1="214.3" y1="279" x2="260.1" y2="331" stroke="rgb(215,215,215)" stroke-width="0.9" opacity="0.75"/>
<line x1="222.4" y1="279" x2="258.1" y2="331" stroke="rgb(40,40,40)" stroke-width="2.5" opacity="0.85"/>
<line x1="272.7" y1="279" x2="319.7" y2="331" stroke="rgb(40,40,40)" stroke-width="1" opacity="0.85"/>
<line x1="274.1" y1="279" x2="321.1" y2="331" stroke="rgb(215,215,215)" stroke-width="0.9" opacity="0.75"/>
<line x1="257.3" y1="279" x2="293.7" y2="331" stroke="rgb(40,40,40)" stroke-width="2" opacity="0.85"/>
<line x1="259.2" y1="279" x2="295.6" y2="331" stroke="rgb(215,215,215)" stroke-width="0.9" opacity="0.75"/>
<line x1="307.9" y1="279" x2="344.5" y2="331" stroke="rgb(40,40,40)" stroke-width="2" opacity="0.85"/>
<circle cx="242.0" cy="307.4" r="0.84" fill="#f4f4f4" opacity="0.79"/>
<circle cx="280.0" cy="294.4" r="0.89" fill="#f4f4f4" opacity="0.73"/>
<circle cx="299.0" cy="325.2" r="0.78" fill="#f4f4f4" opacity="0.69"/>
<circle cx="284.1" cy="289.2" r="0.64" fill="#f4f4f4" opacity="0.89"/>
<circle cx="251.8" cy="282.6" r="0.86" fill="#f4f4f4" opacity="0.70"/>
<circle cx="259.2" cy="325.4" r="0.81" fill="#f4f4f4" opacity="0.68"/>
<circle cx="272.4" cy="296.1" r="0.69" fill="#f4f4f4" opacity="0.77"/>
<circle cx="284.2" cy="296.0" r="0.86" fill="#f4f4f4" opacity="0.53"/>
<circle cx="303.5" cy="317.2" r="0.57" fill="#f4f4f4" opacity="0.78"/>
<circle cx="302.6" cy="313.2" r="0.66" fill="#f4f4f4" opacity="0.83"/>
<circle cx="279.6" cy="317.9" r="0.51" fill="#f4f4f4" opacity="0.67"/>
<circle cx="295.7" cy="303.7" r="0.88" fill="#f4f4f4" opacity="0.71"/>
<circle cx="249.6" cy="314.3" r="0.53" fill="#f4f4f4" opacity="0.60"/>
<circle cx="294.1" cy="311.8" r="0.55" fill="#f4f4f4" opacity="0.51"/>
<circle cx="273.1" cy="283.6" r="0.57" fill="#f4f4f4" opacity="0.68"/>
<circle cx="265.7" cy="301.4" r="0.76" fill="#f4f4f4" opacity="0.61"/>
<circle cx="279.2" cy="288.9" r="0.79" fill="#f4f4f4" opacity="0.82"/>
<circle cx="294.9" cy="289.5" r="0.88" fill="#f4f4f4" opacity="0.80"/>
<circle cx="295.8" cy="303.7" r="0.76" fill="#f4f4f4" opacity="0.53"/>
<circle cx="302.7" cy="283.3" r="0.69" fill="#f4f4f4" opacity="0.58"/>
</g>
<g>
<ellipse cx="276.9" cy="298.8" rx="9" ry="7" transform="rotate(0 276.9 298.8)" fill="#1a2a1a" opacity="0.3" filter="url(#bl)"/>
<ellipse cx="272.4" cy="310.5" rx="8" ry="6" transform="rotate(0 272.4 310.5)" fill="#1a2a1a" opacity="0.3" filter="url(#bl)"/>
<ellipse cx="274.2" cy="305.1" rx="8" ry="6" transform="rotate(0 274.2 305.1)" fill="#1a2a1a" opacity="0.3" filter="url(#bl)"/>
<ellipse cx="276.9" cy="298.8" rx="7" ry="5" transform="rotate(0 276.9 298.8)" fill="#2ed82e" opacity="0.95" filter="url(#bl)"/>
<ellipse cx="272.4" cy="310.5" rx="6" ry="4" transform="rotate(0 272.4 310.5)" fill="#f03232" opacity="0.95" filter="url(#bl)"/>
<ellipse cx="274.2" cy="305.1" rx="6" ry="4" transform="rotate(0 274.2 305.1)" fill="#f2ee30" opacity="0.9" filter="url(#bl)"/>
</g>
</g>
<path d="M362.8 61.5 V144.2 H503" fill="none" stroke="#bbb" stroke-width="0.8"/>
<line x1="360.5" y1="143.9" x2="362.8" y2="143.9" stroke="#bbb" stroke-width="0.8"/>
<text x="354.90" y="147.50" font-size="10" text-anchor="end" fill="#000" >0</text>
<line x1="360.5" y1="123.4" x2="362.8" y2="123.4" stroke="#bbb" stroke-width="0.8"/>
<text x="354.90" y="127.00" font-size="10" text-anchor="end" fill="#000" >20</text>
<line x1="360.5" y1="102.9" x2="362.8" y2="102.9" stroke="#bbb" stroke-width="0.8"/>
<text x="354.90" y="106.50" font-size="10" text-anchor="end" fill="#000" >40</text>
<line x1="360.5" y1="82.4" x2="362.8" y2="82.4" stroke="#bbb" stroke-width="0.8"/>
<text x="354.90" y="86.00" font-size="10" text-anchor="end" fill="#000" >60</text>
<line x1="360.5" y1="61.9" x2="362.8" y2="61.9" stroke="#bbb" stroke-width="0.8"/>
<text x="354.90" y="65.50" font-size="10" text-anchor="end" fill="#000" >80</text>
<line x1="363.0" y1="144.2" x2="363.0" y2="146.5" stroke="#bbb" stroke-width="0.8"/>
<text x="363.00" y="158.90" font-size="10" text-anchor="middle" fill="#000" >0</text>
<line x1="398.0" y1="144.2" x2="398.0" y2="146.5" stroke="#bbb" stroke-width="0.8"/>
<text x="398.00" y="158.90" font-size="10" text-anchor="middle" fill="#000" >60</text>
<line x1="433.0" y1="144.2" x2="433.0" y2="146.5" stroke="#bbb" stroke-width="0.8"/>
<text x="433.00" y="158.90" font-size="10" text-anchor="middle" fill="#000" >120</text>
<line x1="468.0" y1="144.2" x2="468.0" y2="146.5" stroke="#bbb" stroke-width="0.8"/>
<text x="468.00" y="158.90" font-size="10" text-anchor="middle" fill="#000" >180</text>
<line x1="503.0" y1="144.2" x2="503.0" y2="146.5" stroke="#bbb" stroke-width="0.8"/>
<text x="503.00" y="158.90" font-size="10" text-anchor="middle" fill="#000" >240</text>
<text x="438.70" y="172.30" font-size="10" text-anchor="middle" fill="#000" >Time (Second)</text>
<text x="0.00" y="0.00" font-size="10" text-anchor="middle" fill="#000" transform="translate(338 101.3) rotate(-90)">F platelet (x 10<tspan dy="-3" font-size="7">6</tspan><tspan dy="3">)</tspan></text>
<path d="M363.0 143.5 L364.3 144.2 L365.7 144.0 L367.0 143.5 L368.3 143.6 L369.7 143.5 L371.0 143.7 L372.3 141.5 L373.9 138.7 L375.4 136.6 L377.0 135.3 L378.2 134.0 L379.4 133.4 L380.6 131.7 L381.8 131.3 L383.0 130.6 L384.6 129.1 L386.1 128.8 L387.7 127.7 L389.2 126.3 L390.8 125.8 L392.3 125.8 L393.9 127.2 L395.4 127.7 L397.0 128.5 L398.2 128.7 L399.4 128.3 L400.6 128.5 L401.8 128.7 L403.0 128.8 L404.2 128.2 L405.4 127.9 L406.6 127.6 L407.8 127.6 L409.0 127.1 L410.3 126.5 L411.6 127.0 L412.8 126.5 L414.1 126.2 L415.4 125.5 L416.6 126.0 L417.8 125.5 L419.1 124.5 L420.3 124.4 L421.5 124.4 L423.0 123.9 L424.5 123.6 L426.0 122.6 L427.3 123.5 L428.7 123.9 L430.0 124.0 L432.3 124.3 L433.6 124.2 L435.0 123.8 L436.4 123.1 L437.7 122.8 L439.2 121.5 L440.8 120.9 L442.3 120.7 L443.6 119.5 L444.9 118.5 L446.2 118.0 L447.5 119.3 L448.7 120.3 L450.0 121.1 L451.5 122.4 L453.1 123.7 L454.6 125.3 L455.8 124.7 L457.1 124.3 L458.3 124.1 L459.6 123.3 L460.8 123.0 L462.1 123.6 L463.4 123.7 L464.6 123.2 L465.9 122.9 L467.2 122.5 L468.5 122.7 L469.8 123.2 L471.0 123.0 L472.2 122.7 L473.5 123.1 L474.8 122.4 L476.0 122.7 L477.2 123.5 L478.4 123.5 L479.6 123.8 L480.8 124.0 L482.0 123.9 L483.3 124.1 L484.5 122.8 L485.8 123.3 L487.0 123.0 L488.3 123.3 L489.5 123.4 L490.8 123.8 L492.1 123.7 L493.3 124.0 L494.6 124.1 L496.1 125.3 L497.7 127.7 L499.2 128.1 L500.8 128.5 L502.3 129.6" fill="none" stroke="#d83030" stroke-width="1.3" stroke-linejoin="round" stroke-linecap="round" />
<path d="M363.0 144.3 L364.6 144.3 L365.8 143.5 L367.1 143.4 L368.3 143.9 L369.6 143.8 L370.8 143.6 L372.0 143.0 L373.3 143.0 L374.5 142.7 L375.8 142.4 L377.0 141.7 L378.5 142.1 L380.0 142.2 L381.5 142.6 L382.7 143.0 L384.0 143.2 L385.2 143.1 L386.5 143.2 L387.7 143.3 L389.0 143.0 L390.3 143.0 L391.5 143.2 L392.8 143.0 L394.1 143.0 L395.4 143.3 L396.6 142.3 L397.8 141.7 L399.1 140.7 L400.3 139.9 L401.5 139.5 L403.0 138.3 L404.5 137.5 L406.0 136.9 L407.3 136.0 L408.5 135.0 L409.8 135.0 L411.0 134.3 L412.3 133.7 L413.5 133.7 L414.8 133.4 L416.0 133.3 L417.3 132.7 L418.5 133.1 L419.7 132.6 L420.9 131.5 L422.2 131.5 L423.4 131.0 L424.6 130.4 L426.1 129.9 L427.5 129.4 L428.9 129.3 L430.4 128.5 L431.8 127.3 L433.2 125.5 L434.6 124.5 L435.8 123.9 L437.1 123.0 L438.3 122.5 L439.6 122.1 L440.8 121.4 L442.3 121.5 L443.9 121.5 L445.4 121.9 L446.9 122.7 L448.5 122.7 L450.0 123.8 L451.5 124.3 L453.1 125.8 L454.6 126.3 L455.8 127.2 L457.1 127.3 L458.3 127.4 L459.6 127.7 L460.8 128.1 L462.1 128.4 L463.4 128.5 L464.7 128.8 L466.1 129.4 L467.4 130.1 L468.7 130.2 L470.0 130.1 L471.3 130.9 L472.6 131.0 L473.9 131.4 L475.3 131.1 L476.6 131.7 L477.9 131.4 L479.2 132.1 L480.5 132.0 L481.9 132.1 L483.2 132.8 L484.5 132.4 L485.8 132.9 L487.2 133.3 L488.5 133.0 L489.8 133.1 L491.0 133.8 L492.3 133.5 L493.5 133.9 L494.8 133.5 L496.0 133.9 L497.3 133.9 L498.5 134.4 L499.8 134.1 L501.0 134.9 L502.3 134.7" fill="none" stroke="#1a1ac8" stroke-width="1.8" stroke-linejoin="round" stroke-linecap="round" />
<path d="M363.0 143.7 L364.4 143.9 L365.8 143.8 L367.2 144.0 L368.6 144.0 L370.0 143.6 L371.4 142.6 L372.7 142.4 L374.0 141.1 L375.4 140.2 L376.7 140.4 L377.9 139.6 L379.2 139.5 L380.5 138.8 L381.7 138.5 L383.0 137.7 L384.3 137.6 L385.6 137.3 L386.9 136.5 L388.2 136.2 L389.5 135.6 L390.8 134.7 L392.3 133.7 L393.9 132.0 L395.4 130.2 L396.9 127.5 L398.5 125.6 L400.0 122.7 L401.5 119.8 L403.1 116.9 L404.6 113.7 L406.1 109.7 L407.5 105.1 L409.0 101.2 L410.2 97.9 L411.4 95.2 L412.6 92.2 L413.8 88.5 L415.4 86.2 L417.0 84.0 L418.5 82.5 L420.0 80.0 L421.5 78.1 L423.0 76.8 L424.5 76.0 L426.0 74.9 L427.3 74.4 L428.7 74.1 L430.0 73.6 L432.3 69.1 L434.6 67.4 L436.1 66.1 L437.7 64.5 L439.2 63.1 L440.8 62.5 L442.3 64.3 L443.9 67.0 L445.4 69.2 L446.9 70.7 L448.5 72.0 L450.0 73.7 L451.5 75.5 L453.0 78.3 L454.6 81.2 L456.1 84.0 L457.7 87.0 L459.2 89.5 L460.8 91.6 L462.0 91.2 L463.3 92.0 L464.5 92.0 L465.8 92.1 L467.0 92.5 L468.3 93.2 L469.6 93.7 L470.9 93.3 L472.1 94.1 L473.4 94.0 L474.7 94.8 L476.0 94.9 L477.3 95.7 L478.6 96.2 L479.9 96.2 L481.2 96.9 L482.5 96.8 L483.8 97.0 L486.2 104.3 L488.5 105.4 L489.7 105.9 L490.9 106.3 L492.2 106.8 L493.4 106.7 L494.6 106.9 L497.0 111.5 L498.3 111.6 L499.6 112.7 L501.0 113.2 L502.3 113.5" fill="none" stroke="#1fa462" stroke-width="1.7" stroke-linejoin="round" stroke-linecap="round" />
<path d="M363.0 143.7 L364.2 143.7 L365.4 143.8 L366.6 143.7 L367.9 143.6 L369.1 143.8 L370.3 144.2 L371.5 144.1 L373.8 138.2 L375.4 135.6 L377.0 133.5 L378.4 131.8 L379.7 130.2 L381.1 128.6 L382.4 127.2 L383.8 126.1 L385.4 127.5 L386.9 127.7 L388.5 127.9 L390.0 127.8 L391.5 129.1 L393.0 130.5 L395.4 125.9 L396.9 124.5 L398.5 122.9 L399.8 122.3 L401.1 122.4 L402.5 122.3 L403.8 122.0 L406.0 124.8 L407.5 122.3 L409.0 119.4 L410.2 116.9 L411.5 113.9 L412.7 110.7 L414.0 107.6 L415.2 105.0 L416.5 101.8 L417.7 99.0 L419.0 96.0 L420.2 92.8 L421.5 89.8 L422.7 87.0 L424.0 83.9 L425.2 80.7 L426.5 77.9 L427.7 75.2 L429.0 70.4 L430.2 66.1 L431.5 62.1 L432.3 61.1 L433.0 63.5 L435.4 68.8 L437.0 77.9 L439.2 84.5 L440.8 86.3 L442.3 88.7 L443.9 91.0 L445.4 93.5 L447.0 95.7 L449.2 96.4 L449.2 102.1 L449.6 96.4 L451.3 96.5 L453.0 96.7 L454.6 97.0 L456.1 97.8 L457.7 98.6 L458.9 99.7 L460.1 100.4 L461.4 101.0 L462.6 101.8 L463.8 102.5 L465.1 103.1 L466.4 103.3 L467.7 104.1 L469.1 104.7 L470.4 105.2 L471.7 105.5 L473.0 106.1 L474.2 105.8 L475.4 106.3 L476.6 107.1 L477.8 107.3 L479.0 107.4 L480.2 108.1 L481.4 108.2 L482.6 108.7 L483.8 108.7 L485.1 109.0 L486.4 109.6 L487.6 109.8 L488.9 110.3 L490.2 111.1 L491.5 111.1 L492.7 111.1 L493.9 111.4 L495.1 111.7 L496.3 112.3 L497.5 112.2 L498.7 112.4 L499.9 112.5 L501.1 113.3 L502.3 113.2" fill="none" stroke="#111" stroke-width="1.2" stroke-linejoin="round" stroke-linecap="round" />
<line x1="363.8" y1="26.2" x2="374.2" y2="26.2" stroke="#111" stroke-width="1.3"/>
<text x="377.40" y="29.40" font-size="9.7" text-anchor="start" fill="#000" >WT</text>
<line x1="363.8" y1="37.1" x2="374.2" y2="37.1" stroke="#d83030" stroke-width="1.3"/>
<text x="377.40" y="40.30" font-size="9.7" text-anchor="start" fill="#000" >PDI CKO</text>
<line x1="363.8" y1="48.2" x2="374.2" y2="48.2" stroke="#1fa462" stroke-width="1.3"/>
<text x="377.40" y="51.40" font-size="9.7" text-anchor="start" fill="#000" >PDI CKO + wtPDI</text>
<line x1="363.8" y1="59.6" x2="374.2" y2="59.6" stroke="#1a1ac8" stroke-width="1.3"/>
<text x="377.40" y="62.80" font-size="9.7" text-anchor="start" fill="#000" >PDI CKO + dmPDI</text>
<path d="M363.8 207.1 V322.5 H512" fill="none" stroke="#bbb" stroke-width="0.8"/>
<line x1="361.5" y1="322.5" x2="363.8" y2="322.5" stroke="#bbb" stroke-width="0.8"/>
<text x="356.50" y="325.90" font-size="9.5" text-anchor="end" fill="#000" >0</text>
<line x1="361.5" y1="303.2" x2="363.8" y2="303.2" stroke="#bbb" stroke-width="0.8"/>
<text x="356.50" y="306.65" font-size="9.5" text-anchor="end" fill="#000" >20</text>
<line x1="361.5" y1="284.0" x2="363.8" y2="284.0" stroke="#bbb" stroke-width="0.8"/>
<text x="356.50" y="287.40" font-size="9.5" text-anchor="end" fill="#000" >40</text>
<line x1="361.5" y1="264.8" x2="363.8" y2="264.8" stroke="#bbb" stroke-width="0.8"/>
<text x="356.50" y="268.15" font-size="9.5" text-anchor="end" fill="#000" >60</text>
<line x1="361.5" y1="245.5" x2="363.8" y2="245.5" stroke="#bbb" stroke-width="0.8"/>
<text x="356.50" y="248.90" font-size="9.5" text-anchor="end" fill="#000" >80</text>
<line x1="361.5" y1="226.2" x2="363.8" y2="226.2" stroke="#bbb" stroke-width="0.8"/>
<text x="356.50" y="229.65" font-size="9.5" text-anchor="end" fill="#000" >100</text>
<line x1="361.5" y1="207.0" x2="363.8" y2="207.0" stroke="#bbb" stroke-width="0.8"/>
<text x="356.50" y="210.40" font-size="9.5" text-anchor="end" fill="#000" >120</text>
<text x="386.20" y="335.70" font-size="9.5" text-anchor="middle" fill="#000" >60</text>
<text x="437.90" y="335.70" font-size="9.5" text-anchor="middle" fill="#000" >120</text>
<text x="486.60" y="335.70" font-size="9.5" text-anchor="middle" fill="#000" >180</text>
<text x="439.50" y="345.20" font-size="9.5" text-anchor="middle" fill="#000" >Time (second)</text>
<text x="0.00" y="0.00" font-size="8.7" text-anchor="middle" fill="#000" transform="translate(335.3 262) rotate(-90)">F platelet (x 10<tspan dy="-3" font-size="6">6</tspan><tspan dy="3">)</tspan></text>
<rect x="370.80" y="304.61" width="8.50" height="17.89" fill="#fff" stroke="#999" stroke-width="0.8"/>
<line x1="375.05" y1="297.48" x2="375.05" y2="310.95" stroke="#555" stroke-width="0.7"/>
<line x1="373.85" y1="297.48" x2="376.25" y2="297.48" stroke="#555" stroke-width="0.7"/>
<rect x="379.70" y="307.68" width="9.30" height="14.82" fill="#ee1111"/>
<line x1="384.35" y1="303.73" x2="384.35" y2="311.91" stroke="#555" stroke-width="0.7"/>
<line x1="383.15" y1="303.73" x2="385.55" y2="303.73" stroke="#555" stroke-width="0.7"/>
<rect x="389.00" y="304.21" width="9.30" height="18.29" fill="#119911"/>
<line x1="393.65" y1="291.70" x2="393.65" y2="316.73" stroke="#555" stroke-width="0.7"/>
<line x1="392.45" y1="291.70" x2="394.85" y2="291.70" stroke="#555" stroke-width="0.7"/>
<rect x="398.30" y="320.77" width="9.30" height="1.73" fill="#1111ee"/>
<line x1="402.95" y1="320.09" x2="402.95" y2="321.35" stroke="#555" stroke-width="0.7"/>
<line x1="401.75" y1="320.09" x2="404.15" y2="320.09" stroke="#555" stroke-width="0.7"/>
<rect x="421.20" y="246.67" width="8.50" height="75.83" fill="#fff" stroke="#999" stroke-width="0.8"/>
<line x1="425.45" y1="234.91" x2="425.45" y2="258.01" stroke="#555" stroke-width="0.7"/>
<line x1="424.25" y1="234.91" x2="426.65" y2="234.91" stroke="#555" stroke-width="0.7"/>
<rect x="430.10" y="304.02" width="9.30" height="18.48" fill="#ee1111"/>
<line x1="434.75" y1="297.28" x2="434.75" y2="310.95" stroke="#555" stroke-width="0.7"/>
<line x1="433.55" y1="297.28" x2="435.95" y2="297.28" stroke="#555" stroke-width="0.7"/>
<rect x="439.40" y="253.97" width="9.30" height="68.53" fill="#119911"/>
<line x1="444.05" y1="235.88" x2="444.05" y2="272.45" stroke="#555" stroke-width="0.7"/>
<line x1="442.85" y1="235.88" x2="445.25" y2="235.88" stroke="#555" stroke-width="0.7"/>
<rect x="448.70" y="307.49" width="9.30" height="15.01" fill="#1111ee"/>
<line x1="453.35" y1="304.02" x2="453.35" y2="310.95" stroke="#555" stroke-width="0.7"/>
<line x1="452.15" y1="304.02" x2="454.55" y2="304.02" stroke="#555" stroke-width="0.7"/>
<rect x="471.60" y="284.78" width="8.50" height="37.72" fill="#fff" stroke="#999" stroke-width="0.8"/>
<line x1="475.85" y1="277.74" x2="475.85" y2="291.70" stroke="#555" stroke-width="0.7"/>
<line x1="474.65" y1="277.74" x2="477.05" y2="277.74" stroke="#555" stroke-width="0.7"/>
<rect x="480.50" y="302.67" width="9.30" height="19.83" fill="#ee1111"/>
<line x1="485.15" y1="297.28" x2="485.15" y2="308.06" stroke="#555" stroke-width="0.7"/>
<line x1="483.95" y1="297.28" x2="486.35" y2="297.28" stroke="#555" stroke-width="0.7"/>
<rect x="489.80" y="273.80" width="9.30" height="48.70" fill="#119911"/>
<line x1="494.45" y1="262.34" x2="494.45" y2="285.25" stroke="#555" stroke-width="0.7"/>
<line x1="493.25" y1="262.34" x2="495.65" y2="262.34" stroke="#555" stroke-width="0.7"/>
<rect x="499.10" y="307.87" width="9.30" height="14.63" fill="#1111ee"/>
<line x1="503.75" y1="304.50" x2="503.75" y2="310.95" stroke="#555" stroke-width="0.7"/>
<line x1="502.55" y1="304.50" x2="504.95" y2="304.50" stroke="#555" stroke-width="0.7"/>
<path d="M400.80 313.60 L400.80 310.80 M400.80 313.60 L403.46 312.73 M400.80 313.60 L402.45 315.87 M400.80 313.60 L399.15 315.87 M400.80 313.60 L398.14 312.73 " stroke="#000" stroke-width="1.15" stroke-linecap="round" fill="none"/>
<path d="M407.90 313.60 L407.90 310.80 M407.90 313.60 L410.56 312.73 M407.90 313.60 L409.55 315.87 M407.90 313.60 L406.25 315.87 M407.90 313.60 L405.24 312.73 " stroke="#000" stroke-width="1.15" stroke-linecap="round" fill="none"/>
<path d="M431.90 291.90 L431.90 289.10 M431.90 291.90 L434.56 291.03 M431.90 291.90 L433.55 294.17 M431.90 291.90 L430.25 294.17 M431.90 291.90 L429.24 291.03 " stroke="#000" stroke-width="1.15" stroke-linecap="round" fill="none"/>
<path d="M438.60 291.90 L438.60 289.10 M438.60 291.90 L441.26 291.03 M438.60 291.90 L440.25 294.17 M438.60 291.90 L436.95 294.17 M438.60 291.90 L435.94 291.03 " stroke="#000" stroke-width="1.15" stroke-linecap="round" fill="none"/>
<path d="M450.60 297.50 L450.60 294.70 M450.60 297.50 L453.26 296.63 M450.60 297.50 L452.25 299.77 M450.60 297.50 L448.95 299.77 M450.60 297.50 L447.94 296.63 " stroke="#000" stroke-width="1.15" stroke-linecap="round" fill="none"/>
<path d="M457.30 297.50 L457.30 294.70 M457.30 297.50 L459.96 296.63 M457.30 297.50 L458.95 299.77 M457.30 297.50 L455.65 299.77 M457.30 297.50 L454.64 296.63 " stroke="#000" stroke-width="1.15" stroke-linecap="round" fill="none"/>
<path d="M485.50 292.20 L485.50 289.40 M485.50 292.20 L488.16 291.33 M485.50 292.20 L487.15 294.47 M485.50 292.20 L483.85 294.47 M485.50 292.20 L482.84 291.33 " stroke="#000" stroke-width="1.15" stroke-linecap="round" fill="none"/>
<path d="M500.50 299.40 L500.50 296.60 M500.50 299.40 L503.16 298.53 M500.50 299.40 L502.15 301.67 M500.50 299.40 L498.85 301.67 M500.50 299.40 L497.84 298.53 " stroke="#000" stroke-width="1.15" stroke-linecap="round" fill="none"/>
<path d="M507.70 299.40 L507.70 296.60 M507.70 299.40 L510.36 298.53 M507.70 299.40 L509.35 301.67 M507.70 299.40 L506.05 301.67 M507.70 299.40 L505.04 298.53 " stroke="#000" stroke-width="1.15" stroke-linecap="round" fill="none"/>
<rect x="426.7" y="202.4" width="6.8" height="6.8" fill="#fff" stroke="#888" stroke-width="0.8"/>
<text x="437.30" y="209.20" font-size="9.5" text-anchor="start" fill="#000" >WT</text>
<rect x="426.3" y="213" width="7.5" height="7.5" fill="#ee1111"/>
<text x="437.30" y="220.20" font-size="9.5" text-anchor="start" fill="#000" >PDI CKO</text>
<rect x="426.3" y="224.2" width="7.5" height="7.5" fill="#119911"/>
<text x="437.30" y="231.40" font-size="9.5" text-anchor="start" fill="#000" >PDI CKO + wtPDI</text>
<rect x="426.3" y="235.2" width="7.5" height="7.5" fill="#1111ee"/>
<text x="437.30" y="242.40" font-size="9.5" text-anchor="start" fill="#000" >PDI CKO + dmPDI</text>
<path d="M49.2 440.4 V547.2 H212.5" fill="none" stroke="#bbb" stroke-width="0.8"/>
<line x1="46.8" y1="547.1" x2="49.2" y2="547.1" stroke="#bbb" stroke-width="0.8"/>
<text x="39.80" y="551.10" font-size="11" text-anchor="end" fill="#000" >0</text>
<line x1="46.8" y1="520.4" x2="49.2" y2="520.4" stroke="#bbb" stroke-width="0.8"/>
<text x="39.80" y="524.42" font-size="11" text-anchor="end" fill="#000" >10</text>
<line x1="46.8" y1="493.7" x2="49.2" y2="493.7" stroke="#bbb" stroke-width="0.8"/>
<text x="39.80" y="497.74" font-size="11" text-anchor="end" fill="#000" >20</text>
<line x1="46.8" y1="467.1" x2="49.2" y2="467.1" stroke="#bbb" stroke-width="0.8"/>
<text x="39.80" y="471.06" font-size="11" text-anchor="end" fill="#000" >30</text>
<line x1="46.8" y1="440.4" x2="49.2" y2="440.4" stroke="#bbb" stroke-width="0.8"/>
<text x="39.80" y="444.38" font-size="11" text-anchor="end" fill="#000" >40</text>
<line x1="49.3" y1="547.2" x2="49.3" y2="549.6" stroke="#bbb" stroke-width="0.8"/>
<text x="50.10" y="564.30" font-size="11.4" text-anchor="middle" fill="#000" >0</text>
<line x1="90.1" y1="547.2" x2="90.1" y2="549.6" stroke="#bbb" stroke-width="0.8"/>
<text x="90.80" y="564.30" font-size="11.4" text-anchor="middle" fill="#000" >60</text>
<line x1="130.9" y1="547.2" x2="130.9" y2="549.6" stroke="#bbb" stroke-width="0.8"/>
<text x="132.00" y="564.30" font-size="11.4" text-anchor="middle" fill="#000" >120</text>
<line x1="171.7" y1="547.2" x2="171.7" y2="549.6" stroke="#bbb" stroke-width="0.8"/>
<text x="172.60" y="564.30" font-size="11.4" text-anchor="middle" fill="#000" >180</text>
<line x1="212.5" y1="547.2" x2="212.5" y2="549.6" stroke="#bbb" stroke-width="0.8"/>
<text x="213.00" y="564.30" font-size="11.4" text-anchor="middle" fill="#000" >240</text>
<text x="137.70" y="578.40" font-size="11.5" text-anchor="middle" fill="#000" >Time (Second)</text>
<text x="0.00" y="0.00" font-size="11" text-anchor="middle" fill="#000" transform="translate(20 489.4) rotate(-90)">F fibrin (x 10<tspan dy="-3.5" font-size="7.5">6</tspan><tspan dy="3.5">)</tspan></text>
<path d="M49.3 547.3 L50.2 547.3 L51.2 547.3 L52.1 547.3 L53.0 547.0 L53.9 547.1 L54.9 546.1 L55.8 546.5 L56.7 546.8 L57.7 546.4 L58.6 546.6 L59.5 545.7 L60.4 546.0 L61.4 545.6 L62.3 545.8 L63.3 545.7 L64.2 545.0 L65.2 545.1 L66.2 545.0 L67.1 545.4 L68.1 545.1 L69.1 544.4 L70.0 544.9 L71.0 544.0 L72.0 544.6 L72.9 544.1 L73.9 544.1 L74.8 545.0 L75.8 544.4 L76.7 544.4 L77.7 545.3 L78.6 545.2 L79.6 544.7 L80.5 545.3 L81.5 544.8 L82.4 544.9 L83.4 544.4 L84.3 545.1 L85.3 544.8 L86.2 545.0 L87.2 544.9 L88.1 544.3 L89.1 544.3 L90.0 544.1 L91.0 543.9 L91.9 543.7 L92.9 543.8 L93.9 544.0 L94.8 543.2 L95.8 543.8 L96.8 543.3 L97.7 543.1 L98.7 543.5 L99.7 542.7 L100.7 542.0 L101.8 541.6 L102.8 541.3 L103.8 540.2 L104.8 539.7 L105.9 537.3 L106.9 536.6 L108.0 535.3 L109.0 533.1 L110.0 533.0 L111.1 531.7 L112.1 531.1 L113.2 529.7 L114.2 528.8 L115.2 528.1 L116.2 528.0 L117.2 526.4 L118.2 526.1 L119.2 525.4 L120.2 524.6 L121.2 523.1 L122.2 522.7 L123.2 522.3 L124.2 522.1 L125.1 520.9 L126.1 521.0 L127.1 520.6 L128.1 520.2 L129.1 519.3 L130.0 520.2 L131.0 518.5 L132.0 517.9 L133.0 517.3 L133.9 516.7 L134.9 515.3 L135.9 515.0 L136.9 513.7 L137.9 512.9 L138.9 512.3 L139.9 511.5 L140.8 510.8 L141.8 510.3 L142.8 510.2 L143.8 509.9 L144.8 508.6 L145.7 508.0 L146.7 508.5 L147.7 507.5 L148.6 506.9 L149.6 506.3 L150.6 506.1 L151.5 505.9 L152.5 505.1 L153.7 505.3 L154.8 505.3 L156.0 506.4 L157.0 504.7 L158.1 504.2 L159.1 503.7 L160.2 502.1 L161.2 501.8 L162.2 501.6 L163.1 500.8 L164.1 500.5 L165.0 499.3 L166.0 499.1 L166.9 498.4 L167.9 498.6 L168.8 497.6 L169.8 497.3 L170.8 497.5 L171.7 497.1 L172.7 496.9 L173.7 496.1 L174.6 495.8 L175.6 495.8 L176.6 495.3 L177.5 494.8 L178.5 494.6 L179.5 494.1 L180.4 494.0 L181.4 494.3 L182.3 494.0 L183.3 493.4 L184.2 493.0 L185.2 492.5 L186.1 492.0 L187.1 491.9 L188.1 492.2 L189.0 492.1 L190.0 491.4 L191.0 491.6 L191.9 491.4 L192.9 491.2 L193.9 490.9 L194.8 490.8 L195.8 490.3 L196.8 490.4 L197.9 489.8 L198.9 489.8 L200.0 489.9 L201.0 489.7 L201.8 492.8 L202.9 493.2 L204.0 492.7 L205.1 492.4 L206.2 491.6 L207.1 491.9 L208.1 491.4 L209.0 491.5 L209.9 491.1 L210.8 491.2 L211.8 490.8 L212.7 490.4" fill="none" stroke="#1818d0" stroke-width="1.5" stroke-linejoin="round" stroke-linecap="round" />
<path d="M49.3 547.6 L49.9 547.6 L50.5 547.1 L51.1 546.7 L51.7 546.3 L52.3 547.1 L53.0 546.8 L53.6 547.1 L54.2 546.5 L54.8 547.0 L55.4 546.3 L56.0 546.8 L56.6 546.6 L57.2 545.9 L57.9 545.9 L58.5 545.9 L59.1 545.1 L59.7 545.4 L60.3 545.5 L60.9 544.6 L61.5 545.2 L62.2 544.8 L62.8 544.9 L63.4 544.0 L64.0 543.4 L64.6 544.2 L65.3 544.0 L65.9 543.2 L66.5 542.5 L67.2 542.4 L67.8 542.8 L68.5 542.1 L69.1 542.7 L69.7 542.0 L70.4 541.2 L71.0 541.6 L71.6 541.1 L72.2 541.8 L72.8 541.6 L73.5 540.9 L74.1 541.0 L74.7 540.9 L75.3 541.0 L75.9 541.1 L76.5 539.6 L77.1 540.0 L77.8 540.2 L78.4 539.7 L79.0 539.9 L79.6 539.1 L80.2 540.1 L80.9 539.4 L81.5 538.7 L82.1 539.3 L82.7 538.7 L83.4 538.3 L84.0 538.6 L84.6 538.0 L85.2 537.9 L85.9 538.7 L86.5 538.3 L87.1 537.2 L87.8 538.1 L88.4 536.8 L89.0 537.1 L89.7 537.7 L90.3 537.2 L91.0 536.6 L91.6 536.5 L92.2 536.4 L92.9 535.8 L93.5 536.9 L94.1 535.3 L94.8 535.5 L95.4 535.6 L96.0 534.8 L96.6 535.3 L97.3 534.0 L97.9 534.7 L98.5 534.3 L99.1 533.7 L99.8 533.7 L100.4 532.7 L101.0 533.0 L101.7 532.7 L102.3 532.1 L102.9 531.8 L103.5 531.9 L104.2 531.3 L104.8 530.6 L105.4 531.3 L106.0 530.3 L106.7 530.4 L107.3 530.6 L107.9 529.3 L108.6 528.6 L109.2 528.3 L109.8 528.4 L110.4 527.6 L111.1 527.0 L111.7 526.8 L112.3 527.0 L112.9 525.6 L113.6 525.3 L114.2 525.5 L114.8 524.5 L115.5 523.4 L116.1 523.1 L116.7 522.5 L117.4 521.4 L118.0 521.1 L118.7 520.3 L119.3 520.4 L119.9 519.1 L120.6 519.0 L121.2 518.8 L121.8 518.2 L122.5 517.0 L123.1 516.8 L123.7 516.0 L124.3 515.6 L125.0 515.2 L125.6 515.2 L126.2 514.9 L126.8 513.6 L127.5 512.7 L128.1 512.8 L128.7 511.4 L129.4 510.5 L130.0 510.7 L130.6 509.6 L131.2 510.3 L131.9 509.6 L132.5 510.3 L133.1 510.0 L133.8 508.7 L134.4 508.7 L135.0 509.6 L135.6 508.5 L136.2 507.6 L136.8 507.4 L137.5 506.8 L138.1 505.7 L138.7 505.1 L139.3 504.2 L139.9 504.2 L140.5 503.5 L141.2 503.8 L141.8 503.4 L142.4 502.4 L143.0 502.7 L143.6 501.6 L144.2 501.2 L144.8 501.6 L145.5 501.0 L146.1 501.2 L146.7 500.5 L147.3 500.2 L147.9 499.1 L148.5 499.9 L149.2 498.6 L149.8 499.1 L150.4 499.2 L151.0 499.0 L151.7 498.7 L152.3 497.8 L152.9 497.9 L153.5 497.8 L154.1 496.6 L154.8 497.5 L155.4 497.2 L156.0 496.3 L156.6 496.6 L157.2 496.0 L157.8 495.5 L158.5 496.0 L159.1 494.9 L159.7 495.7 L160.3 495.8 L160.9 494.6 L161.5 495.3 L162.1 494.0 L162.8 494.9 L163.4 493.9 L164.0 494.6 L164.6 493.7 L165.2 494.3 L165.8 492.9 L166.5 492.9 L167.1 493.8 L167.7 493.4 L168.3 493.1 L168.9 492.3 L169.6 492.4 L170.2 492.5 L170.8 492.0 L171.4 493.2 L172.1 492.7 L172.7 492.9 L173.3 492.4 L173.9 491.7 L174.5 491.2 L175.1 492.0 L175.8 491.0 L176.4 491.4 L177.0 491.1 L177.6 491.0 L178.2 490.3 L178.8 490.2 L179.4 490.6 L180.1 489.8 L180.7 490.3 L181.3 489.7 L181.9 489.7 L182.5 489.4 L183.1 489.9 L183.8 489.5 L184.4 489.1 L185.0 489.0 L185.6 489.4 L186.2 489.7 L186.9 488.9 L187.5 488.4 L188.1 488.5 L188.7 488.3 L189.4 488.6 L190.0 488.8 L190.6 488.4 L191.2 487.8 L191.8 487.9 L192.4 487.8 L193.1 487.8 L193.7 487.7 L194.3 488.4 L194.9 487.7 L195.5 487.7 L196.1 487.7 L196.7 487.5 L197.4 487.6 L198.0 486.9 L198.6 487.2 L199.2 487.6 L199.8 486.3 L200.4 486.9 L201.0 486.5 L201.7 485.9 L202.3 485.8 L202.9 486.7 L203.5 485.7 L204.1 486.4 L204.7 485.5 L205.3 485.8 L205.9 485.2 L206.6 485.8 L207.2 486.1 L207.8 485.2 L208.4 485.6 L209.0 486.0 L209.6 485.0 L210.2 485.1 L210.9 485.4 L211.5 485.5 L212.1 484.4 L212.7 484.8" fill="none" stroke="#e02020" stroke-width="1.4" stroke-linejoin="round" stroke-linecap="round" />
<path d="M49.3 546.9 L49.8 546.5 L50.3 547.3 L50.9 546.2 L51.4 546.9 L51.9 546.5 L52.4 545.9 L52.9 546.6 L53.5 545.7 L54.0 546.3 L54.5 545.6 L55.0 545.5 L55.5 546.0 L56.1 546.5 L56.6 545.3 L57.1 545.4 L57.6 545.9 L58.1 546.2 L58.6 545.5 L59.1 545.0 L59.7 545.8 L60.2 544.2 L60.7 545.3 L61.2 544.2 L61.7 543.9 L62.2 543.7 L62.7 543.8 L63.2 544.5 L63.8 543.3 L64.3 543.8 L64.8 543.7 L65.3 543.1 L65.8 543.3 L66.3 542.1 L66.9 541.7 L67.4 541.5 L67.9 541.9 L68.5 541.1 L69.0 540.5 L69.5 540.5 L70.0 539.9 L70.6 539.3 L71.1 539.7 L71.6 539.1 L72.2 538.0 L72.7 538.1 L73.2 537.4 L73.7 537.4 L74.3 536.5 L74.8 535.2 L75.3 535.7 L75.8 533.7 L76.3 533.6 L76.9 533.5 L77.4 532.0 L77.9 531.9 L78.4 530.8 L78.9 531.5 L79.4 531.3 L79.9 530.7 L80.5 530.8 L81.0 529.6 L81.5 529.8 L82.0 529.3 L82.5 529.0 L83.0 528.4 L83.5 528.7 L84.1 528.5 L84.6 527.4 L85.1 527.4 L85.7 526.0 L86.2 526.7 L86.7 526.3 L87.2 526.5 L87.8 525.9 L88.3 524.7 L88.8 524.9 L89.3 525.4 L89.9 524.5 L90.4 525.3 L90.9 524.9 L91.4 524.9 L91.9 524.9 L92.5 526.1 L93.0 525.2 L93.5 525.5 L94.0 525.6 L94.6 526.2 L95.1 524.8 L95.6 525.3 L96.2 525.3 L96.7 525.7 L97.2 525.4 L97.7 525.4 L98.3 524.3 L98.8 524.4 L99.3 524.2 L99.9 524.9 L100.4 524.8 L100.9 523.5 L101.5 523.5 L102.0 523.5 L102.5 523.4 L103.1 523.8 L103.6 523.9 L104.1 523.3 L104.6 522.8 L105.2 523.4 L105.7 523.3 L106.2 523.5 L106.8 524.1 L107.3 523.6 L107.8 523.2 L108.4 523.2 L108.9 523.2 L109.4 522.0 L110.0 523.2 L110.5 522.9 L111.0 522.9 L111.5 522.7 L112.1 521.9 L112.6 521.8 L113.1 521.1 L113.7 521.9 L114.2 520.8 L114.7 520.6 L115.2 520.7 L115.7 520.4 L116.2 520.5 L116.7 519.9 L117.2 519.6 L117.7 519.7 L118.2 519.4 L118.7 519.7 L119.2 519.0 L119.7 520.1 L120.2 519.5 L120.7 518.6 L121.2 518.6 L121.7 518.4 L122.3 518.1 L122.8 517.4 L123.3 518.2 L123.9 518.1 L124.4 516.9 L124.9 516.6 L125.4 515.6 L126.0 515.3 L126.5 515.4 L127.0 514.9 L127.6 515.5 L128.1 514.1 L128.7 511.6 L129.4 510.9 L130.0 508.0 L130.5 507.0 L131.0 507.3 L131.5 506.0 L132.0 506.4 L132.5 506.8 L133.0 506.2 L133.5 505.5 L134.0 504.4 L134.5 504.2 L135.0 503.5 L135.6 503.4 L136.3 501.9 L136.9 501.2 L137.4 500.1 L138.0 499.6 L138.5 500.1 L139.0 500.0 L139.6 499.4 L140.1 498.9 L140.6 498.5 L141.1 498.0 L141.7 496.8 L142.2 496.8 L142.7 496.2 L143.3 495.2 L143.8 494.8 L144.3 495.0 L144.8 494.7 L145.3 495.2 L145.8 495.3 L146.3 494.3 L146.8 494.8 L147.3 494.6 L147.8 494.3 L148.3 493.1 L148.8 492.7 L149.3 492.4 L149.8 492.1 L150.3 491.9 L150.8 492.3 L151.3 492.7 L151.8 492.6 L152.4 492.1 L152.9 492.3 L153.4 492.6 L153.9 491.4 L154.4 492.4 L155.0 492.8 L155.5 492.6 L156.0 492.5 L156.5 492.1 L157.0 491.6 L157.6 492.6 L158.1 491.8 L158.6 492.6 L159.1 492.9 L159.6 491.9 L160.2 491.9 L160.7 492.8 L161.2 492.5 L161.7 491.2 L162.3 490.7 L162.8 490.3 L163.3 491.1 L163.9 490.6 L164.4 489.1 L164.9 489.8 L165.4 489.7 L166.0 488.8 L166.5 487.9 L167.0 487.8 L167.6 486.7 L168.1 486.1 L168.6 487.5 L169.2 486.7 L169.7 486.3 L170.2 486.8 L170.8 485.8 L171.3 486.3 L171.8 486.0 L172.3 484.8 L172.9 484.7 L173.4 484.6 L173.9 484.3 L174.5 484.6 L175.0 483.9 L175.5 483.9 L176.1 483.2 L176.6 484.2 L177.1 483.0 L177.7 482.9 L178.2 482.9 L178.7 483.1 L179.2 482.1 L179.8 482.6 L180.3 481.7 L180.8 481.5 L181.4 481.2 L181.9 480.1 L182.4 480.7 L183.0 480.3 L183.5 479.9 L184.0 481.1 L184.6 480.0 L185.1 480.4 L185.6 480.8 L186.1 480.4 L186.7 480.0 L187.2 480.2 L187.7 480.2 L188.3 480.5 L188.8 479.4 L189.3 480.0 L189.8 479.5 L190.3 479.5 L190.8 480.2 L191.3 479.7 L191.8 479.7 L192.3 480.0 L192.8 480.1 L193.3 479.3 L193.8 479.5 L194.3 479.3 L194.8 479.2 L195.3 479.5 L195.8 479.0 L196.3 479.0 L196.9 478.8 L197.4 479.4 L197.9 478.9 L198.5 479.0 L199.0 479.0 L199.5 477.8 L200.0 478.1 L200.6 478.6 L201.1 478.3 L201.6 477.1 L202.2 476.9 L202.7 477.3 L203.2 476.7 L203.7 476.9 L204.2 476.6 L204.7 477.5 L205.2 477.6 L205.7 477.8 L206.2 476.5 L206.7 477.4 L207.2 477.3 L207.7 476.4 L208.2 477.5 L208.7 477.6 L209.2 476.4 L209.7 477.5 L210.2 476.6 L210.7 476.7 L211.2 477.4 L211.7 477.1 L212.2 476.0 L212.7 476.5" fill="none" stroke="#000" stroke-width="1.8" stroke-linejoin="round" stroke-linecap="round" />
<path d="M49.3 546.3 L49.8 548.8 L50.2 545.9 L50.7 547.7 L51.1 545.5 L51.6 545.9 L52.0 548.3 L52.5 545.4 L53.0 546.8 L53.4 546.0 L53.9 545.8 L54.3 545.8 L54.8 544.6 L55.3 546.6 L55.7 544.0 L56.2 544.3 L56.6 543.4 L57.1 544.1 L57.6 544.1 L58.1 545.3 L58.6 543.0 L59.1 541.6 L59.6 541.6 L60.1 543.6 L60.6 539.9 L61.1 541.2 L61.6 539.8 L62.2 540.2 L62.7 538.5 L63.2 539.2 L63.7 538.3 L64.2 538.7 L64.6 539.4 L65.1 538.2 L65.6 536.5 L66.1 536.1 L66.5 538.9 L67.0 537.2 L67.5 536.1 L68.0 538.7 L68.5 537.6 L68.9 538.2 L69.4 538.8 L69.9 536.9 L70.4 537.2 L70.8 539.1 L71.3 536.7 L71.8 538.9 L72.3 536.5 L72.8 538.4 L73.3 538.4 L73.8 539.1 L74.2 538.7 L74.7 537.4 L75.2 536.3 L75.7 536.0 L76.2 537.2 L76.7 537.4 L77.2 536.1 L77.7 539.2 L78.1 538.1 L78.6 539.0 L79.1 537.6 L79.6 537.9 L80.1 536.1 L80.6 536.2 L81.2 534.9 L81.7 534.4 L82.2 533.2 L82.7 533.8 L83.2 533.0 L83.6 529.6 L84.1 529.4 L84.6 527.7 L85.1 528.4 L85.5 528.5 L86.0 524.9 L86.5 525.9 L87.0 523.3 L87.5 521.3 L88.0 522.9 L88.5 520.5 L89.0 518.9 L89.5 518.8 L90.0 517.1 L90.5 516.8 L90.9 515.9 L91.4 514.9 L91.9 514.6 L92.4 512.6 L92.8 511.0 L93.3 510.0 L93.8 509.2 L94.3 509.6 L94.7 508.2 L95.2 508.7 L95.7 506.7 L96.2 506.4 L96.7 506.4 L97.2 502.3 L97.7 501.1 L98.2 500.6 L98.7 500.4 L99.2 499.9 L99.7 499.4 L100.2 497.0 L100.6 497.9 L101.1 493.5 L101.6 495.3 L102.1 492.0 L102.6 496.9 L103.1 496.6 L103.7 502.4 L104.2 504.3 L104.7 507.7 L105.2 503.8 L105.7 500.0 L106.3 500.3 L106.8 496.0 L107.3 492.4 L107.8 493.4 L108.3 492.3 L108.8 491.5 L109.3 489.7 L109.8 488.9 L110.3 489.7 L110.8 488.5 L111.3 486.9 L111.8 487.5 L112.3 488.0 L112.7 487.4 L113.2 486.1 L113.7 485.3 L114.2 484.7 L114.7 483.6 L115.1 482.9 L115.6 483.1 L116.1 481.4 L116.6 482.8 L117.0 482.1 L117.5 481.2 L118.0 478.6 L118.5 479.1 L118.9 478.7 L119.4 476.9 L119.9 479.6 L120.3 478.5 L120.8 477.4 L121.3 477.7 L121.8 475.7 L122.2 475.5 L122.7 476.2 L123.2 476.6 L123.7 475.9 L124.1 473.4 L124.6 475.2 L125.1 475.7 L125.6 474.6 L126.1 474.8 L126.6 474.4 L127.1 471.4 L127.6 471.1 L128.1 471.5 L128.6 473.7 L129.1 472.3 L129.6 475.0 L130.0 475.5 L130.5 475.1 L131.0 476.2 L131.5 478.1 L132.0 477.5 L132.5 475.8 L133.0 477.7 L133.5 475.5 L134.0 476.3 L134.5 478.6 L135.0 478.5 L135.4 476.9 L135.9 477.1 L136.4 478.4 L136.9 479.5 L137.4 477.7 L137.9 477.3 L138.4 475.3 L138.9 474.4 L139.4 472.4 L139.9 470.4 L140.4 469.4 L140.9 468.6 L141.4 467.7 L141.9 467.8 L142.3 464.9 L142.8 463.2 L143.3 464.5 L143.8 461.9 L144.3 462.1 L144.8 460.7 L145.4 462.8 L145.9 460.6 L146.4 460.3 L146.9 467.2 L147.3 471.3 L147.8 468.1 L148.3 467.8 L148.9 463.7 L149.4 461.1 L149.9 460.8 L150.4 459.5 L150.9 458.7 L151.5 456.3 L152.0 457.5 L152.5 456.1 L153.0 457.2 L153.4 456.0 L153.9 457.7 L154.4 458.0 L154.9 457.0 L155.3 458.2 L155.8 458.9 L156.3 459.9 L156.8 460.0 L157.2 459.9 L157.7 458.0 L158.2 459.3 L158.6 459.4 L159.1 457.1 L159.5 458.2 L160.0 459.3 L160.5 459.2 L160.9 459.1 L161.4 456.0 L161.8 457.5 L162.3 458.2 L162.8 457.2 L163.2 455.9 L163.7 454.7 L164.1 457.5 L164.6 457.0 L165.1 456.1 L165.5 454.9 L166.0 456.2 L166.4 455.9 L166.9 455.4 L167.4 454.7 L167.8 453.6 L168.3 453.2 L168.7 453.2 L169.2 452.9 L169.7 453.3 L170.1 451.7 L170.6 453.5 L171.0 452.0 L171.5 451.1 L172.0 451.6 L172.4 452.2 L172.9 452.4 L173.4 453.7 L173.8 451.5 L174.3 452.0 L174.8 452.4 L175.2 452.1 L175.7 454.2 L176.2 452.1 L176.6 452.0 L177.1 453.8 L177.6 454.6 L178.0 455.0 L178.5 454.2 L179.0 453.2 L179.4 454.8 L179.9 454.1 L180.3 453.0 L180.8 453.1 L181.3 454.1 L181.7 454.1 L182.2 453.7 L182.6 450.7 L183.1 451.1 L183.6 451.2 L184.0 450.2 L184.5 451.9 L184.9 449.3 L185.4 451.9 L185.9 450.8 L186.3 450.7 L186.8 450.0 L187.2 451.6 L187.7 450.3 L188.2 451.2 L188.6 451.2 L189.1 450.3 L189.5 451.2 L190.0 449.4 L190.5 448.8 L190.9 450.3 L191.4 449.1 L191.8 448.3 L192.3 449.4 L192.8 448.5 L193.2 447.1 L193.7 449.3 L194.1 447.9 L194.6 449.3 L195.1 447.6 L195.5 448.7 L196.0 446.3 L196.4 445.8 L196.9 446.6 L197.4 447.2 L197.8 447.2 L198.3 446.4 L198.7 444.3 L199.2 445.0 L199.7 443.9 L200.1 445.2 L200.6 447.3 L201.1 445.3 L201.5 446.6 L202.0 446.5 L202.5 445.0 L202.9 446.9 L203.4 445.0 L203.9 445.5 L204.3 446.9 L204.8 445.5 L205.3 448.5 L205.7 446.7 L206.2 447.5 L206.7 448.2 L207.2 444.8 L207.6 447.4 L208.1 443.6 L208.6 445.1 L209.1 444.8 L209.5 445.4 L210.0 442.8 L210.5 444.3 L211.1 444.0 L211.6 444.0 L212.1 443.6 L212.7 445.4" fill="none" stroke="#19a655" stroke-width="1.5" stroke-linejoin="round" stroke-linecap="round" />
<line x1="55.4" y1="409.7" x2="67" y2="409.7" stroke="#000" stroke-width="1.5"/>
<text x="70.60" y="412.80" font-size="11" text-anchor="start" fill="#000" >WT</text>
<line x1="55.4" y1="422.4" x2="67" y2="422.4" stroke="#e02020" stroke-width="1.5"/>
<text x="70.60" y="425.50" font-size="11" text-anchor="start" fill="#000" >PDI CKO</text>
<line x1="55.4" y1="435" x2="67" y2="435" stroke="#19a655" stroke-width="1.5"/>
<text x="70.60" y="438.10" font-size="11" text-anchor="start" fill="#000" >PDI CKO + wtPDI</text>
<line x1="55.4" y1="448.5" x2="67" y2="448.5" stroke="#1818d0" stroke-width="1.5"/>
<text x="70.60" y="451.60" font-size="11" text-anchor="start" fill="#000" >PDI CKO + dmPDI</text>
<path d="M51.8 620.4 V757.6 H228" fill="none" stroke="#bbb" stroke-width="0.8"/>
<line x1="49.4" y1="757.6" x2="51.8" y2="757.6" stroke="#bbb" stroke-width="0.8"/>
<text x="42.30" y="761.60" font-size="11" text-anchor="end" fill="#000" >0</text>
<line x1="49.4" y1="730.2" x2="51.8" y2="730.2" stroke="#bbb" stroke-width="0.8"/>
<text x="42.30" y="734.16" font-size="11" text-anchor="end" fill="#000" >10</text>
<line x1="49.4" y1="702.7" x2="51.8" y2="702.7" stroke="#bbb" stroke-width="0.8"/>
<text x="42.30" y="706.72" font-size="11" text-anchor="end" fill="#000" >20</text>
<line x1="49.4" y1="675.3" x2="51.8" y2="675.3" stroke="#bbb" stroke-width="0.8"/>
<text x="42.30" y="679.28" font-size="11" text-anchor="end" fill="#000" >30</text>
<line x1="49.4" y1="647.8" x2="51.8" y2="647.8" stroke="#bbb" stroke-width="0.8"/>
<text x="42.30" y="651.84" font-size="11" text-anchor="end" fill="#000" >40</text>
<line x1="49.4" y1="620.4" x2="51.8" y2="620.4" stroke="#bbb" stroke-width="0.8"/>
<text x="42.30" y="624.40" font-size="11" text-anchor="end" fill="#000" >50</text>
<text x="77.50" y="769.80" font-size="11" text-anchor="middle" fill="#000" >60</text>
<text x="140.50" y="769.80" font-size="11" text-anchor="middle" fill="#000" >120</text>
<text x="198.20" y="769.80" font-size="11" text-anchor="middle" fill="#000" >180</text>
<text x="139.00" y="782.00" font-size="11" text-anchor="middle" fill="#000" >Time (second)</text>
<text x="0.00" y="0.00" font-size="11" text-anchor="middle" fill="#000" transform="translate(23 686.4) rotate(-90)">F fibrin (x 10<tspan dy="-3.5" font-size="7.5">6</tspan><tspan dy="3.5">)</tspan></text>
<rect x="59.60" y="736.05" width="10.00" height="21.55" fill="#fff" stroke="#999" stroke-width="0.8"/>
<line x1="64.60" y1="734.28" x2="64.60" y2="737.02" stroke="#555" stroke-width="0.7"/>
<line x1="63.40" y1="734.28" x2="65.80" y2="734.28" stroke="#555" stroke-width="0.7"/>
<rect x="70.00" y="745.53" width="10.80" height="12.07" fill="#ee1111"/>
<line x1="75.40" y1="740.04" x2="75.40" y2="750.74" stroke="#555" stroke-width="0.7"/>
<line x1="74.20" y1="740.04" x2="76.60" y2="740.04" stroke="#555" stroke-width="0.7"/>
<rect x="80.80" y="728.79" width="10.80" height="28.81" fill="#119911"/>
<line x1="86.20" y1="722.48" x2="86.20" y2="734.28" stroke="#555" stroke-width="0.7"/>
<line x1="85.00" y1="722.48" x2="87.40" y2="722.48" stroke="#555" stroke-width="0.7"/>
<rect x="91.60" y="754.86" width="10.80" height="2.74" fill="#1111ee"/>
<line x1="97.00" y1="754.31" x2="97.00" y2="755.40" stroke="#555" stroke-width="0.7"/>
<line x1="95.80" y1="754.31" x2="98.20" y2="754.31" stroke="#555" stroke-width="0.7"/>
<rect x="118.50" y="719.58" width="10.00" height="38.02" fill="#fff" stroke="#999" stroke-width="0.8"/>
<line x1="123.50" y1="715.34" x2="123.50" y2="723.03" stroke="#555" stroke-width="0.7"/>
<line x1="122.30" y1="715.34" x2="124.70" y2="715.34" stroke="#555" stroke-width="0.7"/>
<rect x="128.90" y="720.28" width="10.80" height="37.32" fill="#ee1111"/>
<line x1="134.30" y1="710.68" x2="134.30" y2="730.16" stroke="#555" stroke-width="0.7"/>
<line x1="133.10" y1="710.68" x2="135.50" y2="710.68" stroke="#555" stroke-width="0.7"/>
<rect x="139.70" y="685.98" width="10.80" height="71.62" fill="#119911"/>
<line x1="145.10" y1="673.36" x2="145.10" y2="698.60" stroke="#555" stroke-width="0.7"/>
<line x1="143.90" y1="673.36" x2="146.30" y2="673.36" stroke="#555" stroke-width="0.7"/>
<rect x="150.50" y="729.61" width="10.80" height="27.99" fill="#1111ee"/>
<line x1="155.90" y1="720.28" x2="155.90" y2="738.94" stroke="#555" stroke-width="0.7"/>
<line x1="154.70" y1="720.28" x2="157.10" y2="720.28" stroke="#555" stroke-width="0.7"/>
<rect x="177.30" y="694.61" width="10.00" height="62.99" fill="#fff" stroke="#999" stroke-width="0.8"/>
<line x1="182.30" y1="689.27" x2="182.30" y2="699.15" stroke="#555" stroke-width="0.7"/>
<line x1="181.10" y1="689.27" x2="183.50" y2="689.27" stroke="#555" stroke-width="0.7"/>
<rect x="187.70" y="702.17" width="10.80" height="55.43" fill="#ee1111"/>
<line x1="193.10" y1="692.84" x2="193.10" y2="711.50" stroke="#555" stroke-width="0.7"/>
<line x1="191.90" y1="692.84" x2="194.30" y2="692.84" stroke="#555" stroke-width="0.7"/>
<rect x="198.50" y="663.48" width="10.80" height="94.12" fill="#119911"/>
<line x1="203.90" y1="650.04" x2="203.90" y2="676.93" stroke="#555" stroke-width="0.7"/>
<line x1="202.70" y1="650.04" x2="205.10" y2="650.04" stroke="#555" stroke-width="0.7"/>
<rect x="209.30" y="706.56" width="10.80" height="51.04" fill="#1111ee"/>
<line x1="214.70" y1="697.78" x2="214.70" y2="715.34" stroke="#555" stroke-width="0.7"/>
<line x1="213.50" y1="697.78" x2="215.90" y2="697.78" stroke="#555" stroke-width="0.7"/>
<path d="M94.70 745.70 L94.70 742.30 M94.70 745.70 L97.93 744.65 M94.70 745.70 L96.70 748.45 M94.70 745.70 L92.70 748.45 M94.70 745.70 L91.47 744.65 " stroke="#000" stroke-width="1.3" stroke-linecap="round" fill="none"/>
<path d="M102.90 745.70 L102.90 742.30 M102.90 745.70 L106.13 744.65 M102.90 745.70 L104.90 748.45 M102.90 745.70 L100.90 748.45 M102.90 745.70 L99.67 744.65 " stroke="#000" stroke-width="1.3" stroke-linecap="round" fill="none"/>
<path d="M140.40 668.30 L140.40 664.90 M140.40 668.30 L143.63 667.25 M140.40 668.30 L142.40 671.05 M140.40 668.30 L138.40 671.05 M140.40 668.30 L137.17 667.25 " stroke="#000" stroke-width="1.3" stroke-linecap="round" fill="none"/>
<path d="M148.70 668.30 L148.70 664.90 M148.70 668.30 L151.93 667.25 M148.70 668.30 L150.70 671.05 M148.70 668.30 L146.70 671.05 M148.70 668.30 L145.47 667.25 " stroke="#000" stroke-width="1.3" stroke-linecap="round" fill="none"/>
<path d="M200.10 643.60 L200.10 640.20 M200.10 643.60 L203.33 642.55 M200.10 643.60 L202.10 646.35 M200.10 643.60 L198.10 646.35 M200.10 643.60 L196.87 642.55 " stroke="#000" stroke-width="1.3" stroke-linecap="round" fill="none"/>
<path d="M208.20 643.60 L208.20 640.20 M208.20 643.60 L211.43 642.55 M208.20 643.60 L210.20 646.35 M208.20 643.60 L206.20 646.35 M208.20 643.60 L204.97 642.55 " stroke="#000" stroke-width="1.3" stroke-linecap="round" fill="none"/>
<rect x="59.6" y="615.4" width="7.7" height="7.7" fill="#fff" stroke="#888" stroke-width="0.8"/>
<text x="73.00" y="623.20" font-size="10.5" text-anchor="start" fill="#000" >WT</text>
<rect x="59.2" y="628.3" width="8.5" height="8.5" fill="#ee1111"/>
<text x="73.00" y="636.50" font-size="10.5" text-anchor="start" fill="#000" >PDI CKO</text>
<rect x="59.2" y="640.2" width="8.5" height="8.5" fill="#119911"/>
<text x="73.00" y="648.40" font-size="10.5" text-anchor="start" fill="#000" >PDI CKO + wtPDI</text>
<rect x="59.2" y="652.7" width="8.5" height="8.5" fill="#1111ee"/>
<text x="73.00" y="660.90" font-size="10.5" text-anchor="start" fill="#000" >PDI CKO + dmPDI</text>
<text x="433.50" y="373.20" font-size="16" text-anchor="middle" fill="#000" >+ wtPDI</text>
<text x="438.20" y="518.00" font-size="16" text-anchor="middle" fill="#000" >+ dmPDI</text>
<text x="0.00" y="0.00" font-size="16" text-anchor="middle" fill="#000" transform="translate(351.5 508) rotate(-90)">PDI CKO</text>
<g clip-path="url(#c25)"><g filter="url(#grF1)">
<rect x="363.5" y="382" width="150.8" height="113" fill="rgb(112,112,112)"/>
<line x1="445.4" y1="381" x2="418.6" y2="496" stroke="#1a1a1a" stroke-width="2.5" opacity="0.44"/>
<line x1="517.4" y1="381" x2="485.5" y2="496" stroke="#1a1a1a" stroke-width="2.5" opacity="0.44"/>
<line x1="506.3" y1="381" x2="473.1" y2="496" stroke="#e8e8e8" stroke-width="0.8" opacity="0.33"/>
<line x1="471.0" y1="381" x2="441.9" y2="496" stroke="#e8e8e8" stroke-width="1" opacity="0.52"/>
<line x1="475.9" y1="381" x2="452.9" y2="496" stroke="#e8e8e8" stroke-width="1" opacity="0.31"/>
<line x1="471.7" y1="381" x2="447.9" y2="496" stroke="#e8e8e8" stroke-width="1" opacity="0.48"/>
<line x1="457.3" y1="381" x2="431.7" y2="496" stroke="#e8e8e8" stroke-width="1.8" opacity="0.50"/>
<line x1="481.6" y1="381" x2="452.7" y2="496" stroke="#1a1a1a" stroke-width="0.8" opacity="0.58"/>
<line x1="491.1" y1="381" x2="460.9" y2="496" stroke="#e8e8e8" stroke-width="0.8" opacity="0.39"/>
<line x1="465.2" y1="381" x2="432.2" y2="496" stroke="#e8e8e8" stroke-width="0.8" opacity="0.39"/>
<line x1="535.8" y1="381" x2="513.0" y2="496" stroke="#e8e8e8" stroke-width="0.8" opacity="0.36"/>
<line x1="448.5" y1="381" x2="427.6" y2="496" stroke="#e8e8e8" stroke-width="1" opacity="0.32"/>
<line x1="503.7" y1="381" x2="472.9" y2="496" stroke="#e8e8e8" stroke-width="1.8" opacity="0.40"/>
<line x1="500.0" y1="381" x2="467.2" y2="496" stroke="#e8e8e8" stroke-width="0.8" opacity="0.33"/>
<line x1="447.6" y1="381" x2="419.8" y2="496" stroke="#1a1a1a" stroke-width="2.5" opacity="0.36"/>
<line x1="398.6" y1="381" x2="374.2" y2="496" stroke="#e8e8e8" stroke-width="0.8" opacity="0.49"/>
<line x1="435.1" y1="381" x2="414.3" y2="496" stroke="#e8e8e8" stroke-width="2.5" opacity="0.56"/>
<line x1="418.9" y1="381" x2="396.6" y2="496" stroke="#e8e8e8" stroke-width="2.5" opacity="0.42"/>
<line x1="479.3" y1="381" x2="446.1" y2="496" stroke="#1a1a1a" stroke-width="1.3" opacity="0.36"/>
<line x1="366.2" y1="381" x2="340.1" y2="496" stroke="#1a1a1a" stroke-width="0.8" opacity="0.42"/>
<line x1="380.6" y1="381" x2="354.2" y2="496" stroke="#e8e8e8" stroke-width="1.3" opacity="0.48"/>
<line x1="475.7" y1="381" x2="443.0" y2="496" stroke="#1a1a1a" stroke-width="1" opacity="0.55"/>
<line x1="519.4" y1="381" x2="487.5" y2="496" stroke="#e8e8e8" stroke-width="2.5" opacity="0.57"/>
<line x1="409.1" y1="381" x2="377.2" y2="496" stroke="#1a1a1a" stroke-width="1" opacity="0.58"/>
<line x1="487.3" y1="381" x2="458.2" y2="496" stroke="#e8e8e8" stroke-width="0.8" opacity="0.32"/>
<line x1="383.1" y1="381" x2="349.1" y2="496" stroke="#1a1a1a" stroke-width="1.8" opacity="0.37"/>
<line x1="410.4" y1="381" x2="387.3" y2="496" stroke="#1a1a1a" stroke-width="1" opacity="0.39"/>
<line x1="530.6" y1="381" x2="509.6" y2="496" stroke="#e8e8e8" stroke-width="2.5" opacity="0.44"/>
<ellipse cx="430" cy="478" rx="25" ry="14" fill="#000" opacity="0.35" filter="url(#bl4)"/>
<ellipse cx="405" cy="430" rx="8" ry="40" fill="#000" opacity="0.25" filter="url(#bl4)"/>
<line x1="470" y1="383" x2="450" y2="494" stroke="#fff" stroke-width="2" opacity="0.5" filter="url(#bl2)"/>
<line x1="478" y1="383" x2="460" y2="494" stroke="#fff" stroke-width="1.5" opacity="0.4" filter="url(#bl2)"/>
<line x1="492" y1="383" x2="474" y2="494" stroke="#fff" stroke-width="2" opacity="0.45" filter="url(#bl2)"/>
<line x1="500" y1="383" x2="483" y2="494" stroke="#fff" stroke-width="1.2" opacity="0.4" filter="url(#bl2)"/>
<line x1="395" y1="383" x2="375" y2="494" stroke="#fff" stroke-width="1.5" opacity="0.35" filter="url(#bl2)"/>
<circle cx="455.9" cy="414.1" r="0.77" fill="#f4f4f4" opacity="0.58"/>
<circle cx="367.0" cy="412.9" r="0.58" fill="#f4f4f4" opacity="0.52"/>
<circle cx="390.7" cy="423.9" r="0.63" fill="#f4f4f4" opacity="0.55"/>
<circle cx="418.4" cy="481.9" r="0.79" fill="#f4f4f4" opacity="0.76"/>
<circle cx="467.4" cy="447.9" r="0.46" fill="#f4f4f4" opacity="0.51"/>
<circle cx="367.2" cy="484.0" r="0.68" fill="#f4f4f4" opacity="0.89"/>
<circle cx="367.7" cy="453.6" r="0.59" fill="#f4f4f4" opacity="0.79"/>
<circle cx="412.0" cy="493.9" r="0.43" fill="#f4f4f4" opacity="0.72"/>
<circle cx="474.2" cy="482.9" r="0.69" fill="#f4f4f4" opacity="0.78"/>
<circle cx="482.5" cy="484.6" r="0.54" fill="#f4f4f4" opacity="0.77"/>
<circle cx="498.5" cy="479.7" r="0.57" fill="#f4f4f4" opacity="0.82"/>
<circle cx="493.0" cy="446.6" r="0.65" fill="#f4f4f4" opacity="0.65"/>
<circle cx="451.2" cy="450.6" r="0.43" fill="#f4f4f4" opacity="0.76"/>
<circle cx="512.3" cy="480.7" r="0.69" fill="#f4f4f4" opacity="0.66"/>
<circle cx="473.9" cy="447.5" r="0.58" fill="#f4f4f4" opacity="0.84"/>
<circle cx="377.0" cy="466.3" r="0.41" fill="#f4f4f4" opacity="0.74"/>
<circle cx="436.1" cy="408.6" r="0.68" fill="#f4f4f4" opacity="0.70"/>
<circle cx="455.9" cy="485.2" r="0.50" fill="#f4f4f4" opacity="0.50"/>
<circle cx="409.3" cy="458.3" r="0.48" fill="#f4f4f4" opacity="0.57"/>
<circle cx="499.3" cy="456.3" r="0.58" fill="#f4f4f4" opacity="0.86"/>
<circle cx="413.2" cy="456.9" r="0.48" fill="#f4f4f4" opacity="0.67"/>
<circle cx="484.4" cy="484.5" r="0.75" fill="#f4f4f4" opacity="0.65"/>
<circle cx="451.3" cy="418.1" r="0.45" fill="#f4f4f4" opacity="0.70"/>
<circle cx="489.1" cy="477.2" r="0.68" fill="#f4f4f4" opacity="0.88"/>
<circle cx="405.7" cy="401.8" r="0.58" fill="#f4f4f4" opacity="0.61"/>
<circle cx="396.4" cy="429.0" r="0.65" fill="#f4f4f4" opacity="0.70"/>
<circle cx="411.4" cy="476.1" r="0.79" fill="#f4f4f4" opacity="0.68"/>
<circle cx="375.6" cy="386.5" r="0.75" fill="#f4f4f4" opacity="0.52"/>
<circle cx="469.9" cy="446.3" r="0.52" fill="#f4f4f4" opacity="0.82"/>
<circle cx="367.3" cy="398.1" r="0.58" fill="#f4f4f4" opacity="0.51"/>
<circle cx="488.0" cy="409.4" r="0.46" fill="#f4f4f4" opacity="0.52"/>
<circle cx="458.1" cy="432.6" r="0.65" fill="#f4f4f4" opacity="0.76"/>
<circle cx="484.6" cy="489.4" r="0.67" fill="#f4f4f4" opacity="0.58"/>
<circle cx="435.2" cy="402.8" r="0.40" fill="#f4f4f4" opacity="0.69"/>
<circle cx="470.8" cy="402.9" r="0.51" fill="#f4f4f4" opacity="0.64"/>
<circle cx="468.3" cy="440.8" r="0.65" fill="#f4f4f4" opacity="0.80"/>
<circle cx="423.1" cy="470.9" r="0.76" fill="#f4f4f4" opacity="0.53"/>
<circle cx="503.3" cy="463.2" r="0.45" fill="#f4f4f4" opacity="0.68"/>
<circle cx="457.6" cy="484.0" r="0.55" fill="#f4f4f4" opacity="0.73"/>
<circle cx="495.3" cy="471.4" r="0.78" fill="#f4f4f4" opacity="0.69"/>
<circle cx="461.4" cy="405.7" r="0.69" fill="#f4f4f4" opacity="0.83"/>
<circle cx="460.0" cy="462.7" r="0.49" fill="#f4f4f4" opacity="0.86"/>
<circle cx="510.4" cy="491.5" r="0.61" fill="#f4f4f4" opacity="0.82"/>
<circle cx="412.2" cy="484.0" r="0.74" fill="#f4f4f4" opacity="0.64"/>
<circle cx="376.8" cy="431.9" r="0.62" fill="#f4f4f4" opacity="0.81"/>
<circle cx="437.0" cy="386.2" r="0.72" fill="#f4f4f4" opacity="0.53"/>
<circle cx="483.5" cy="402.2" r="0.53" fill="#f4f4f4" opacity="0.82"/>
<circle cx="385.4" cy="399.5" r="0.61" fill="#f4f4f4" opacity="0.79"/>
<circle cx="489.5" cy="459.5" r="0.78" fill="#f4f4f4" opacity="0.70"/>
<circle cx="505.7" cy="392.5" r="0.49" fill="#f4f4f4" opacity="0.71"/>
</g>
<ellipse cx="435.5" cy="440.5" rx="15.5" ry="23" transform="rotate(15 435.5 440.5)" fill="#1a2a1a" opacity="0.25" filter="url(#bl)"/>
<circle cx="422" cy="452" r="2.4" fill="#30c030" opacity="0.9" filter="url(#bl2)"/>
<circle cx="421" cy="458" r="2.2" fill="#30c030" opacity="0.9" filter="url(#bl2)"/>
<circle cx="423" cy="463" r="1.8" fill="#30c030" opacity="0.9" filter="url(#bl2)"/>
<circle cx="426" cy="466" r="1.5" fill="#30c030" opacity="0.9" filter="url(#bl2)"/>
<circle cx="434" cy="418" r="2" fill="#30c030" opacity="0.9" filter="url(#bl2)"/>
<circle cx="438" cy="416" r="1.6" fill="#30c030" opacity="0.9" filter="url(#bl2)"/>
<circle cx="420" cy="446" r="1.6" fill="#30c030" opacity="0.9" filter="url(#bl2)"/>
<ellipse cx="435.5" cy="440.5" rx="14" ry="22" transform="rotate(15 435.5 440.5)" fill="#f84a1e" filter="url(#bl2)"/>
<circle cx="428.9" cy="431.9" r="0.79" fill="#ffd050" opacity="0.8"/>
<circle cx="444.2" cy="432.8" r="1.09" fill="#ff8a30" opacity="0.8"/>
<circle cx="447.6" cy="432.7" r="1.08" fill="#ffd050" opacity="0.8"/>
<circle cx="428.5" cy="436.2" r="0.68" fill="#ffb040" opacity="0.8"/>
<circle cx="429.2" cy="452.1" r="0.95" fill="#ffb040" opacity="0.8"/>
<circle cx="444.8" cy="430.2" r="1.06" fill="#ffd050" opacity="0.8"/>
<circle cx="427.9" cy="432.8" r="1.02" fill="#ffb040" opacity="0.8"/>
<circle cx="426.6" cy="455.4" r="1.09" fill="#ff8a30" opacity="0.8"/>
<circle cx="440.7" cy="446.8" r="0.96" fill="#ffd050" opacity="0.8"/>
<circle cx="429.2" cy="437.9" r="0.81" fill="#ffd050" opacity="0.8"/>
<circle cx="430.1" cy="451.0" r="0.91" fill="#ff8a30" opacity="0.8"/>
<circle cx="442.7" cy="434.0" r="0.54" fill="#ffb040" opacity="0.8"/>
<circle cx="441.7" cy="452.2" r="0.53" fill="#ffb040" opacity="0.8"/>
<circle cx="432.4" cy="448.7" r="0.91" fill="#ff8a30" opacity="0.8"/>
<circle cx="426.1" cy="448.0" r="0.85" fill="#ffd050" opacity="0.8"/>
<circle cx="423.9" cy="442.7" r="0.54" fill="#e03010" opacity="0.8"/>
<circle cx="428.0" cy="440.0" r="0.57" fill="#ffd050" opacity="0.8"/>
<circle cx="436.9" cy="439.1" r="0.93" fill="#e03010" opacity="0.8"/>
<circle cx="446.2" cy="430.1" r="1.05" fill="#ff8a30" opacity="0.8"/>
<circle cx="437.9" cy="427.2" r="1.03" fill="#ffb040" opacity="0.8"/>
<circle cx="442.2" cy="437.8" r="0.75" fill="#ffd050" opacity="0.8"/>
<circle cx="429.7" cy="438.5" r="0.73" fill="#e03010" opacity="0.8"/>
<circle cx="438.7" cy="430.0" r="0.60" fill="#ffd050" opacity="0.8"/>
<circle cx="447.5" cy="438.7" r="0.87" fill="#ffd050" opacity="0.8"/>
<circle cx="429.6" cy="454.4" r="1.00" fill="#ffd050" opacity="0.8"/>
<circle cx="424.1" cy="444.8" r="0.95" fill="#ffd050" opacity="0.8"/>
<circle cx="430.3" cy="431.6" r="0.64" fill="#ffb040" opacity="0.8"/>
<circle cx="439.1" cy="447.2" r="0.84" fill="#ffb040" opacity="0.8"/>
<circle cx="435.0" cy="448.7" r="0.54" fill="#ffb040" opacity="0.8"/>
<circle cx="435.5" cy="438.6" r="1.10" fill="#e03010" opacity="0.8"/>
<circle cx="435.5" cy="439.0" r="0.75" fill="#ff8a30" opacity="0.8"/>
<circle cx="446.8" cy="434.4" r="0.77" fill="#ff8a30" opacity="0.8"/>
<circle cx="441.0" cy="426.8" r="0.97" fill="#ff8a30" opacity="0.8"/>
<circle cx="434.4" cy="446.9" r="0.55" fill="#ffd050" opacity="0.8"/>
<circle cx="444.1" cy="433.9" r="1.08" fill="#ffd050" opacity="0.8"/>
<circle cx="440.4" cy="423.4" r="0.98" fill="#ffb040" opacity="0.8"/>
<circle cx="429.2" cy="439.0" r="0.70" fill="#ffd050" opacity="0.8"/>
<circle cx="438.0" cy="449.6" r="0.73" fill="#ffd050" opacity="0.8"/>
<circle cx="438.2" cy="430.7" r="0.82" fill="#ffb040" opacity="0.8"/>
<circle cx="440.8" cy="433.2" r="0.75" fill="#ff8a30" opacity="0.8"/>
<circle cx="439.3" cy="454.7" r="0.78" fill="#e03010" opacity="0.8"/>
<circle cx="433.8" cy="432.5" r="0.51" fill="#ffb040" opacity="0.8"/>
<circle cx="436.7" cy="447.8" r="0.64" fill="#ffd050" opacity="0.8"/>
<circle cx="430.6" cy="427.2" r="0.77" fill="#e03010" opacity="0.8"/>
<circle cx="429.1" cy="446.0" r="0.63" fill="#ffd050" opacity="0.8"/>
<circle cx="439.4" cy="443.7" r="0.71" fill="#ffb040" opacity="0.8"/>
<circle cx="440.6" cy="455.2" r="0.70" fill="#e03010" opacity="0.8"/>
<circle cx="437.3" cy="437.2" r="0.90" fill="#ff8a30" opacity="0.8"/>
<circle cx="437.2" cy="446.8" r="0.87" fill="#e03010" opacity="0.8"/>
<circle cx="440.3" cy="423.2" r="0.61" fill="#e03010" opacity="0.8"/>
<circle cx="434.4" cy="458.2" r="1.01" fill="#e03010" opacity="0.8"/>
<circle cx="436.5" cy="430.4" r="1.04" fill="#e03010" opacity="0.8"/>
<circle cx="433.3" cy="432.9" r="0.98" fill="#e03010" opacity="0.8"/>
<circle cx="427.5" cy="442.8" r="0.72" fill="#ffb040" opacity="0.8"/>
<circle cx="428.8" cy="442.6" r="0.56" fill="#ffb040" opacity="0.8"/>
<circle cx="435.4" cy="451.2" r="1.00" fill="#ff8a30" opacity="0.8"/>
<circle cx="437.5" cy="448.3" r="1.07" fill="#ff8a30" opacity="0.8"/>
<circle cx="430.7" cy="443.2" r="0.98" fill="#ffb040" opacity="0.8"/>
<circle cx="431.7" cy="443.2" r="0.73" fill="#e03010" opacity="0.8"/>
<circle cx="429.0" cy="429.4" r="0.80" fill="#e03010" opacity="0.8"/>
<circle cx="429.2" cy="438.3" r="0.67" fill="#e03010" opacity="0.8"/>
<circle cx="423.5" cy="442.3" r="0.75" fill="#ff8a30" opacity="0.8"/>
<circle cx="440.1" cy="442.5" r="0.68" fill="#e03010" opacity="0.8"/>
<circle cx="445.0" cy="425.8" r="0.98" fill="#ffd050" opacity="0.8"/>
<circle cx="435.0" cy="453.1" r="0.65" fill="#ff8a30" opacity="0.8"/>
<circle cx="426.5" cy="443.9" r="0.71" fill="#ffd050" opacity="0.8"/>
<circle cx="436.4" cy="443.2" r="0.65" fill="#ffd050" opacity="0.8"/>
<circle cx="438.1" cy="425.4" r="0.99" fill="#ffd050" opacity="0.8"/>
<circle cx="434.5" cy="443.6" r="0.61" fill="#ffb040" opacity="0.8"/>
<circle cx="430.5" cy="438.3" r="0.54" fill="#ffd050" opacity="0.8"/>
</g>
<g clip-path="url(#c26)"><g filter="url(#grF2)">
<rect x="363.5" y="526" width="150.5" height="113" fill="rgb(84,84,84)"/>
<line x1="449.2" y1="525" x2="423.8" y2="640" stroke="#1a1a1a" stroke-width="0.8" opacity="0.34"/>
<line x1="542.4" y1="525" x2="514.6" y2="640" stroke="#1a1a1a" stroke-width="2.5" opacity="0.44"/>
<line x1="405.1" y1="525" x2="370.7" y2="640" stroke="#1a1a1a" stroke-width="1.3" opacity="0.59"/>
<line x1="393.5" y1="525" x2="371.5" y2="640" stroke="#e8e8e8" stroke-width="0.8" opacity="0.55"/>
<line x1="456.2" y1="525" x2="433.0" y2="640" stroke="#1a1a1a" stroke-width="0.8" opacity="0.54"/>
<line x1="367.8" y1="525" x2="334.2" y2="640" stroke="#1a1a1a" stroke-width="0.8" opacity="0.45"/>
<line x1="541.1" y1="525" x2="512.5" y2="640" stroke="#e8e8e8" stroke-width="1" opacity="0.50"/>
<line x1="460.8" y1="525" x2="438.5" y2="640" stroke="#1a1a1a" stroke-width="0.8" opacity="0.59"/>
<line x1="463.6" y1="525" x2="436.1" y2="640" stroke="#e8e8e8" stroke-width="2.5" opacity="0.48"/>
<line x1="448.3" y1="525" x2="422.2" y2="640" stroke="#1a1a1a" stroke-width="0.8" opacity="0.49"/>
<line x1="537.2" y1="525" x2="516.2" y2="640" stroke="#1a1a1a" stroke-width="1.3" opacity="0.41"/>
<line x1="519.1" y1="525" x2="489.9" y2="640" stroke="#e8e8e8" stroke-width="1.3" opacity="0.38"/>
<line x1="429.4" y1="525" x2="401.9" y2="640" stroke="#1a1a1a" stroke-width="0.8" opacity="0.45"/>
<line x1="432.5" y1="525" x2="409.8" y2="640" stroke="#e8e8e8" stroke-width="1.8" opacity="0.31"/>
<line x1="372.3" y1="525" x2="340.6" y2="640" stroke="#1a1a1a" stroke-width="1" opacity="0.53"/>
<line x1="396.3" y1="525" x2="371.4" y2="640" stroke="#e8e8e8" stroke-width="1.3" opacity="0.38"/>
<line x1="472.0" y1="525" x2="447.5" y2="640" stroke="#1a1a1a" stroke-width="1.3" opacity="0.41"/>
<line x1="414.8" y1="525" x2="386.9" y2="640" stroke="#1a1a1a" stroke-width="1" opacity="0.44"/>
<line x1="447.5" y1="525" x2="420.5" y2="640" stroke="#e8e8e8" stroke-width="1" opacity="0.53"/>
<line x1="527.3" y1="525" x2="492.9" y2="640" stroke="#e8e8e8" stroke-width="1.3" opacity="0.53"/>
<line x1="396.5" y1="525" x2="373.0" y2="640" stroke="#1a1a1a" stroke-width="0.8" opacity="0.37"/>
<line x1="540.1" y1="525" x2="519.4" y2="640" stroke="#1a1a1a" stroke-width="1.3" opacity="0.31"/>
<line x1="521.9" y1="525" x2="496.7" y2="640" stroke="#e8e8e8" stroke-width="2.5" opacity="0.34"/>
<line x1="454.1" y1="525" x2="426.4" y2="640" stroke="#e8e8e8" stroke-width="1.8" opacity="0.51"/>
<ellipse cx="397" cy="614" rx="19" ry="9" fill="#000" opacity="0.7" filter="url(#bl4)"/>
<ellipse cx="410" cy="622" rx="14" ry="6" fill="#000" opacity="0.5" filter="url(#bl4)"/>
<ellipse cx="420" cy="600" rx="15" ry="35" fill="#000" opacity="0.3" filter="url(#bl4)"/>
<ellipse cx="505" cy="590" rx="10" ry="50" fill="#000" opacity="0.3" filter="url(#bl4)"/>
<line x1="392" y1="527" x2="370" y2="638" stroke="#fff" stroke-width="3" opacity="0.55" filter="url(#bl2)"/>
<line x1="384" y1="527" x2="364" y2="610" stroke="#fff" stroke-width="2.5" opacity="0.5" filter="url(#bl2)"/>
<line x1="398" y1="527" x2="380" y2="600" stroke="#fff" stroke-width="2" opacity="0.45" filter="url(#bl2)"/>
<line x1="470" y1="527" x2="452" y2="638" stroke="#fff" stroke-width="3.5" opacity="0.6" filter="url(#bl2)"/>
<line x1="476" y1="527" x2="460" y2="638" stroke="#fff" stroke-width="2.5" opacity="0.5" filter="url(#bl2)"/>
<line x1="464" y1="527" x2="448" y2="638" stroke="#fff" stroke-width="2" opacity="0.4" filter="url(#bl2)"/>
<line x1="483" y1="527" x2="467" y2="638" stroke="#fff" stroke-width="1.5" opacity="0.4" filter="url(#bl2)"/>
<circle cx="497.3" cy="545.0" r="0.52" fill="#f4f4f4" opacity="0.85"/>
<circle cx="405.8" cy="631.8" r="0.61" fill="#f4f4f4" opacity="0.78"/>
<circle cx="469.1" cy="550.8" r="0.51" fill="#f4f4f4" opacity="0.60"/>
<circle cx="466.0" cy="604.0" r="0.45" fill="#f4f4f4" opacity="0.85"/>
<circle cx="426.9" cy="553.8" r="0.57" fill="#f4f4f4" opacity="0.89"/>
<circle cx="447.6" cy="596.3" r="0.77" fill="#f4f4f4" opacity="0.88"/>
<circle cx="477.4" cy="573.4" r="0.64" fill="#f4f4f4" opacity="0.86"/>
<circle cx="481.7" cy="591.4" r="0.54" fill="#f4f4f4" opacity="0.65"/>
<circle cx="473.8" cy="589.5" r="0.41" fill="#f4f4f4" opacity="0.78"/>
<circle cx="498.7" cy="615.5" r="0.76" fill="#f4f4f4" opacity="0.86"/>
<circle cx="443.9" cy="614.6" r="0.55" fill="#f4f4f4" opacity="0.54"/>
<circle cx="416.9" cy="561.6" r="0.77" fill="#f4f4f4" opacity="0.78"/>
<circle cx="444.9" cy="596.1" r="0.45" fill="#f4f4f4" opacity="0.71"/>
<circle cx="468.5" cy="570.8" r="0.50" fill="#f4f4f4" opacity="0.66"/>
<circle cx="412.6" cy="603.1" r="0.46" fill="#f4f4f4" opacity="0.54"/>
<circle cx="410.9" cy="604.2" r="0.70" fill="#f4f4f4" opacity="0.76"/>
<circle cx="503.3" cy="567.6" r="0.41" fill="#f4f4f4" opacity="0.70"/>
<circle cx="430.4" cy="546.9" r="0.67" fill="#f4f4f4" opacity="0.64"/>
<circle cx="399.9" cy="563.3" r="0.78" fill="#f4f4f4" opacity="0.50"/>
<circle cx="418.0" cy="558.0" r="0.48" fill="#f4f4f4" opacity="0.67"/>
<circle cx="397.2" cy="629.0" r="0.60" fill="#f4f4f4" opacity="0.78"/>
<circle cx="388.6" cy="578.6" r="0.64" fill="#f4f4f4" opacity="0.84"/>
<circle cx="401.6" cy="578.0" r="0.74" fill="#f4f4f4" opacity="0.83"/>
<circle cx="398.3" cy="586.7" r="0.70" fill="#f4f4f4" opacity="0.66"/>
<circle cx="464.5" cy="600.6" r="0.79" fill="#f4f4f4" opacity="0.72"/>
<circle cx="465.6" cy="565.9" r="0.69" fill="#f4f4f4" opacity="0.63"/>
<circle cx="438.7" cy="567.1" r="0.52" fill="#f4f4f4" opacity="0.55"/>
<circle cx="398.0" cy="587.4" r="0.50" fill="#f4f4f4" opacity="0.52"/>
<circle cx="483.8" cy="558.7" r="0.77" fill="#f4f4f4" opacity="0.74"/>
<circle cx="422.3" cy="623.9" r="0.76" fill="#f4f4f4" opacity="0.63"/>
<circle cx="383.2" cy="598.1" r="0.74" fill="#f4f4f4" opacity="0.74"/>
<circle cx="481.0" cy="572.8" r="0.65" fill="#f4f4f4" opacity="0.61"/>
<circle cx="424.9" cy="569.1" r="0.55" fill="#f4f4f4" opacity="0.66"/>
<circle cx="484.4" cy="545.9" r="0.48" fill="#f4f4f4" opacity="0.60"/>
<circle cx="508.7" cy="585.0" r="0.42" fill="#f4f4f4" opacity="0.83"/>
<circle cx="494.2" cy="618.1" r="0.54" fill="#f4f4f4" opacity="0.79"/>
<circle cx="409.9" cy="542.2" r="0.75" fill="#f4f4f4" opacity="0.83"/>
<circle cx="395.9" cy="624.7" r="0.41" fill="#f4f4f4" opacity="0.62"/>
<circle cx="366.4" cy="546.0" r="0.47" fill="#f4f4f4" opacity="0.79"/>
<circle cx="408.5" cy="548.1" r="0.47" fill="#f4f4f4" opacity="0.62"/>
<circle cx="492.5" cy="594.4" r="0.44" fill="#f4f4f4" opacity="0.77"/>
<circle cx="444.1" cy="576.8" r="0.61" fill="#f4f4f4" opacity="0.76"/>
<circle cx="483.4" cy="583.1" r="0.65" fill="#f4f4f4" opacity="0.69"/>
<circle cx="458.7" cy="570.1" r="0.57" fill="#f4f4f4" opacity="0.71"/>
<circle cx="470.7" cy="557.9" r="0.77" fill="#f4f4f4" opacity="0.70"/>
<circle cx="491.5" cy="603.6" r="0.78" fill="#f4f4f4" opacity="0.77"/>
<circle cx="427.9" cy="572.1" r="0.64" fill="#f4f4f4" opacity="0.80"/>
<circle cx="489.1" cy="541.4" r="0.42" fill="#f4f4f4" opacity="0.54"/>
<circle cx="377.0" cy="533.3" r="0.40" fill="#f4f4f4" opacity="0.60"/>
<circle cx="381.3" cy="603.1" r="0.65" fill="#f4f4f4" opacity="0.89"/>
</g>
<ellipse cx="437" cy="588.5" rx="4.8" ry="8.8" transform="rotate(8 437 588.5)" fill="#f03030" opacity="0.75" filter="url(#bl2)"/>
<circle cx="434.4" cy="591.7" r="0.93" fill="#ff4040" opacity="0.85"/>
<circle cx="435.4" cy="591.5" r="0.61" fill="#d02020" opacity="0.85"/>
<circle cx="438.7" cy="588.7" r="0.76" fill="#ff7050" opacity="0.85"/>
<circle cx="436.1" cy="583.9" r="0.70" fill="#d02020" opacity="0.85"/>
<circle cx="435.8" cy="584.3" r="0.67" fill="#ff7050" opacity="0.85"/>
<circle cx="436.0" cy="586.7" r="0.54" fill="#ff4040" opacity="0.85"/>
<circle cx="436.7" cy="593.0" r="0.97" fill="#ff7050" opacity="0.85"/>
<circle cx="439.5" cy="589.6" r="0.74" fill="#ff4040" opacity="0.85"/>
<circle cx="437.8" cy="592.3" r="0.62" fill="#ff4040" opacity="0.85"/>
<circle cx="441.0" cy="590.6" r="0.84" fill="#d02020" opacity="0.85"/>
<circle cx="440.4" cy="590.1" r="0.87" fill="#d02020" opacity="0.85"/>
<circle cx="438.0" cy="584.0" r="0.74" fill="#ff7050" opacity="0.85"/>
<circle cx="434.4" cy="585.3" r="0.62" fill="#ff7050" opacity="0.85"/>
<circle cx="440.6" cy="588.2" r="1.00" fill="#d02020" opacity="0.85"/>
<circle cx="438.6" cy="581.9" r="0.52" fill="#ff4040" opacity="0.85"/>
<circle cx="440.9" cy="588.9" r="0.79" fill="#d02020" opacity="0.85"/>
<circle cx="435.1" cy="583.8" r="1.00" fill="#ff7050" opacity="0.85"/>
<circle cx="434.5" cy="586.5" r="0.68" fill="#ff4040" opacity="0.85"/>
<circle cx="438.7" cy="583.2" r="0.53" fill="#ff7050" opacity="0.85"/>
<circle cx="437.2" cy="581.9" r="0.74" fill="#ff4040" opacity="0.85"/>
<circle cx="438.4" cy="594.3" r="0.92" fill="#d02020" opacity="0.85"/>
<circle cx="434.6" cy="582.3" r="0.53" fill="#ff4040" opacity="0.85"/>
<circle cx="439.2" cy="588.7" r="0.84" fill="#d02020" opacity="0.85"/>
<circle cx="435.3" cy="581.8" r="0.99" fill="#ff4040" opacity="0.85"/>
<circle cx="436.2" cy="596.2" r="0.63" fill="#ff4040" opacity="0.85"/>
<circle cx="440.6" cy="588.4" r="0.89" fill="#ff7050" opacity="0.85"/>
<circle cx="434.2" cy="586.9" r="0.64" fill="#ff7050" opacity="0.85"/>
<circle cx="435.1" cy="591.1" r="0.94" fill="#ff7050" opacity="0.85"/>
<circle cx="438.9" cy="590.3" r="0.97" fill="#d02020" opacity="0.85"/>
<circle cx="439.7" cy="594.2" r="0.70" fill="#ff7050" opacity="0.85"/>
<circle cx="437" cy="580" r="1.5" fill="#30c030" opacity="0.7"/>
</g>
<path d="M371.9 662.1 V769.9 H511.5" fill="none" stroke="#ccc" stroke-width="0.8"/>
<line x1="369.5" y1="769.9" x2="371.9" y2="769.9" stroke="#ccc" stroke-width="0.8"/>
<text x="363.20" y="773.70" font-size="10.5" text-anchor="end" fill="#000" >0</text>
<line x1="369.5" y1="751.9" x2="371.9" y2="751.9" stroke="#ccc" stroke-width="0.8"/>
<text x="363.20" y="755.73" font-size="10.5" text-anchor="end" fill="#000" >20</text>
<line x1="369.5" y1="734.0" x2="371.9" y2="734.0" stroke="#ccc" stroke-width="0.8"/>
<text x="363.20" y="737.77" font-size="10.5" text-anchor="end" fill="#000" >40</text>
<line x1="369.5" y1="716.0" x2="371.9" y2="716.0" stroke="#ccc" stroke-width="0.8"/>
<text x="363.20" y="719.80" font-size="10.5" text-anchor="end" fill="#000" >60</text>
<line x1="369.5" y1="698.0" x2="371.9" y2="698.0" stroke="#ccc" stroke-width="0.8"/>
<text x="363.20" y="701.84" font-size="10.5" text-anchor="end" fill="#000" >80</text>
<line x1="369.5" y1="680.1" x2="371.9" y2="680.1" stroke="#ccc" stroke-width="0.8"/>
<text x="363.20" y="683.87" font-size="10.5" text-anchor="end" fill="#000" >100</text>
<line x1="369.5" y1="662.1" x2="371.9" y2="662.1" stroke="#ccc" stroke-width="0.8"/>
<text x="363.20" y="665.90" font-size="10.5" text-anchor="end" fill="#000" >120</text>
<line x1="372.0" y1="769.9" x2="372.0" y2="772.3" stroke="#ccc" stroke-width="0.8"/>
<line x1="418.4" y1="769.9" x2="418.4" y2="772.3" stroke="#ccc" stroke-width="0.8"/>
<line x1="464.8" y1="769.9" x2="464.8" y2="772.3" stroke="#ccc" stroke-width="0.8"/>
<line x1="511.2" y1="769.9" x2="511.2" y2="772.3" stroke="#ccc" stroke-width="0.8"/>
<text x="372.90" y="787.20" font-size="10.5" text-anchor="middle" fill="#000" >0</text>
<text x="419.20" y="787.20" font-size="10.5" text-anchor="middle" fill="#000" >60</text>
<text x="465.70" y="787.20" font-size="10.5" text-anchor="middle" fill="#000" >120</text>
<text x="512.50" y="787.20" font-size="10.5" text-anchor="middle" fill="#000" >180</text>
<text x="441.30" y="800.20" font-size="11" text-anchor="middle" fill="#000" >Time (Second)</text>
<text x="0.00" y="0.00" font-size="11" text-anchor="middle" fill="#000" transform="translate(340 716.9) rotate(-90)">PDI binding (x 10<tspan dy="-3.5" font-size="7.8">3</tspan><tspan dy="3.5">)</tspan></text>
<path d="M372.0 770.3 L372.4 768.6 L372.9 765.7 L373.2 765.3 L373.5 765.6 L373.8 766.0 L374.1 765.1 L374.4 764.2 L374.7 764.1 L375.0 764.1 L375.3 764.3 L375.6 763.6 L376.0 763.2 L376.3 763.0 L376.6 762.9 L376.9 762.3 L377.2 762.3 L377.5 762.2 L377.8 762.5 L378.1 761.5 L378.4 761.7 L378.7 760.6 L379.0 761.2 L379.3 760.6 L379.6 760.0 L380.0 760.0 L380.3 762.3 L380.6 758.7 L380.9 762.2 L381.2 763.3 L381.5 763.3 L381.9 763.0 L382.2 755.0 L382.5 759.1 L382.8 756.1 L383.1 760.2 L383.4 757.6 L383.8 757.8 L384.1 758.2 L384.4 755.1 L384.7 756.9 L385.0 754.6 L385.3 762.1 L385.6 755.2 L385.9 756.4 L386.2 751.5 L386.5 752.2 L386.8 753.8 L387.1 758.2 L387.5 758.0 L387.8 756.6 L388.1 754.1 L388.4 760.8 L388.7 752.9 L389.0 753.3 L389.3 756.8 L389.6 752.7 L389.9 756.1 L390.2 757.9 L390.5 755.0 L390.8 756.1 L391.1 754.9 L391.4 752.9 L391.7 745.9 L392.0 751.1 L392.3 754.2 L392.6 749.6 L392.9 752.4 L393.3 754.3 L393.6 757.2 L393.9 749.8 L394.2 751.9 L394.5 753.8 L394.8 754.4 L395.1 749.1 L395.4 757.8 L395.7 750.3 L396.0 755.4 L396.3 751.5 L396.6 752.9 L396.9 756.0 L397.3 753.0 L397.6 751.1 L397.9 747.7 L398.2 748.4 L398.5 745.9 L398.9 755.0 L399.2 744.9 L399.5 741.8 L399.8 753.0 L400.1 751.7 L400.4 746.9 L400.8 749.8 L401.1 745.0 L401.4 745.3 L401.7 748.0 L402.0 747.3 L402.3 744.5 L402.6 749.8 L402.9 747.0 L403.2 744.9 L403.5 740.9 L403.9 744.1 L404.2 742.5 L404.5 742.7 L404.4 738.0 L404.6 742.7 L404.8 744.7 L405.1 740.5 L405.4 742.4 L405.7 743.5 L406.0 741.9 L406.3 747.2 L406.6 736.1 L406.9 740.7 L407.2 737.6 L407.5 740.7 L407.8 747.8 L408.1 736.4 L408.4 740.1 L408.7 742.7 L409.0 741.1 L409.3 743.4 L409.6 736.6 L410.0 743.6 L410.3 738.3 L410.6 737.5 L410.9 742.4 L411.2 742.2 L411.5 738.9 L411.8 738.6 L412.1 740.3 L412.4 740.8 L412.7 740.4 L413.0 738.1 L413.3 734.5 L413.3 727.0 L413.4 734.5 L413.6 744.3 L413.9 741.0 L414.2 736.9 L414.6 735.8 L414.9 738.0 L415.2 738.6 L415.5 733.7 L415.8 743.2 L416.1 740.3 L416.4 738.1 L416.7 739.7 L417.1 739.2 L417.4 741.3 L417.7 738.6 L418.0 741.4 L418.3 742.0 L418.6 736.7 L418.9 736.2 L419.2 734.8 L419.6 736.4 L419.9 734.8 L420.2 736.7 L420.5 737.3 L420.6 724.0 L420.6 737.3 L420.8 737.9 L421.1 733.3 L421.4 739.4 L421.8 735.6 L422.1 736.1 L422.4 735.0 L422.7 731.0 L423.0 737.1 L423.3 731.6 L423.6 739.5 L423.9 736.6 L424.3 740.7 L424.3 722.0 L424.4 740.7 L424.6 738.2 L424.9 738.4 L425.2 740.3 L425.5 736.3 L425.8 740.7 L426.1 736.1 L426.4 737.1 L426.8 734.6 L427.1 737.9 L427.4 738.3 L427.7 735.1 L428.0 733.2 L428.3 736.8 L428.6 738.3 L429.0 737.0 L429.3 735.0 L429.4 728.0 L429.4 735.0 L429.6 736.0 L429.9 737.5 L430.2 731.2 L430.5 737.1 L430.8 742.9 L431.1 735.7 L431.5 738.9 L431.8 744.3 L432.1 741.9 L432.4 742.7 L432.7 740.1 L433.0 737.1 L433.3 748.9 L433.6 742.0 L434.0 742.1 L434.3 746.2 L434.6 744.2 L434.9 742.4 L435.2 739.3 L435.5 741.9 L435.8 742.0 L436.1 740.6 L436.4 740.1 L436.7 739.8 L437.0 742.3 L437.3 741.1 L437.6 743.9 L437.9 745.6 L438.2 743.7 L438.5 743.0 L438.8 747.3 L439.1 744.8 L439.4 739.0 L439.7 741.2 L440.0 743.7 L440.0 730.0 L440.1 743.7 L440.3 740.9 L440.6 745.4 L440.9 738.6 L441.2 738.2 L441.5 746.2 L441.8 745.2 L442.1 739.2 L442.4 743.9 L442.7 747.5 L443.0 740.8 L443.3 740.7 L443.6 740.7 L443.9 741.4 L444.2 739.4 L444.5 742.9 L444.8 740.3 L445.2 744.6 L445.5 750.6 L445.8 741.7 L446.1 747.1 L446.4 747.9 L446.7 738.4 L447.0 745.2 L447.3 744.9 L447.6 744.1 L447.9 747.3 L448.2 743.8 L448.5 745.9 L448.8 743.8 L449.1 744.4 L449.4 742.6 L449.7 750.9 L450.0 744.4 L450.3 741.4 L450.6 749.8 L450.9 748.6 L451.2 743.7 L451.5 742.4 L451.8 742.1 L452.1 747.4 L452.4 743.0 L452.7 741.9 L453.0 746.1 L453.3 742.9 L453.6 743.5 L453.9 748.9 L454.2 745.8 L454.5 746.8 L454.8 744.5 L455.1 746.8 L455.4 742.7 L455.7 745.7 L456.0 745.9 L456.3 741.8 L456.7 739.3 L457.0 744.3 L457.3 742.4 L457.6 744.3 L457.9 740.9 L458.2 744.0 L458.5 745.1 L458.8 748.9 L459.1 747.2 L459.4 743.3 L459.7 746.3 L460.0 740.8 L460.3 745.9 L460.6 743.2 L460.9 746.6 L461.2 744.0 L461.5 742.6 L461.4 732.0 L461.6 742.6 L461.8 741.5 L462.1 747.0 L462.5 743.9 L462.8 745.8 L463.1 745.4 L463.4 738.6 L463.7 746.0 L464.0 743.5 L464.3 745.7 L464.6 746.1 L464.9 740.0 L465.2 744.2 L465.5 745.3 L465.8 746.9 L466.1 748.8 L466.4 744.7 L466.7 746.4 L467.0 749.1 L467.3 742.7 L467.6 753.2 L467.9 745.9 L468.3 752.5 L468.6 749.7 L468.9 754.8 L469.2 752.9 L469.5 750.3 L469.8 746.1 L470.1 751.5 L470.4 752.4 L470.7 753.4 L471.0 748.8 L471.3 750.5 L471.6 751.2 L471.9 754.6 L472.2 752.0 L472.5 754.6 L472.8 757.9 L473.1 754.7 L473.5 760.1 L473.8 757.7 L474.1 757.2 L474.4 759.2 L474.7 759.0 L475.0 758.7 L475.3 758.8 L475.6 759.6 L475.9 760.2 L476.2 761.3 L476.6 760.5 L476.9 759.6 L477.2 758.9 L477.5 760.9 L477.8 761.2 L478.1 762.2 L478.5 760.5 L478.8 759.8 L479.1 762.4 L479.4 761.4 L479.7 760.4 L480.1 763.8 L480.4 763.1 L480.7 762.3 L481.0 762.7 L481.3 761.6 L481.6 763.6 L481.9 762.0 L482.2 762.1 L482.5 762.3 L482.8 761.4 L483.1 763.9 L483.4 764.6 L483.8 763.7 L484.1 760.5 L484.4 762.5 L484.7 762.2 L485.0 763.4 L485.3 760.5 L485.6 760.6 L485.9 762.6 L486.2 764.2 L486.5 763.0 L486.8 765.7 L487.1 762.3 L487.4 763.3 L487.7 763.2 L488.0 762.4 L488.3 764.7 L488.7 762.0 L489.0 762.3 L489.3 763.1 L489.6 763.0 L489.9 764.9 L490.2 763.1 L490.5 764.3 L490.8 763.2 L491.1 765.3 L491.4 763.8 L491.7 764.1 L492.0 762.0 L492.3 764.7 L492.6 763.1 L492.9 764.9 L493.2 764.5 L493.5 764.6 L493.8 765.2 L494.2 764.4 L494.5 763.0 L494.8 764.2 L495.1 764.2 L495.4 762.7 L495.7 764.7 L496.0 765.7 L496.3 764.3 L496.6 764.2 L496.9 764.6 L497.2 765.4 L497.5 763.5 L497.8 765.2 L498.1 763.3 L498.4 764.8 L498.7 764.8 L499.0 762.7 L499.3 765.0 L499.6 764.5 L500.0 762.4 L500.3 763.8 L500.6 763.6 L500.9 763.3 L501.2 764.8 L501.5 763.4 L501.8 764.4 L502.1 763.1 L502.4 764.1 L502.7 766.5 L503.0 764.9 L503.3 762.7 L503.6 763.4 L503.9 764.4 L504.2 762.7 L504.5 765.7 L504.9 764.6 L505.2 764.6 L505.5 764.8 L505.8 763.9 L506.1 763.5 L506.4 761.2 L506.7 763.0 L507.0 765.1 L507.3 765.7 L507.6 764.7 L507.9 762.9 L508.2 764.6 L508.5 765.1 L508.8 763.6 L509.1 766.6 L509.5 763.8 L509.8 765.1 L510.1 763.9 L510.4 766.2 L510.7 763.8 L511.0 764.2 L511.3 765.3" fill="none" stroke="#a0a0a0" stroke-width="0.85" stroke-linejoin="round" stroke-linecap="round" />
<path d="M372.0 770.2 L372.3 768.7 L372.6 770.1 L372.9 767.0 L373.2 766.5 L373.4 766.2 L373.7 765.2 L373.9 764.7 L374.2 765.2 L374.4 764.1 L374.7 764.6 L374.9 763.5 L375.2 762.1 L375.4 762.0 L375.7 762.0 L375.9 760.8 L376.2 761.7 L376.4 761.2 L376.7 761.7 L376.9 760.1 L377.2 760.1 L377.4 760.3 L377.7 760.0 L377.9 758.4 L378.2 759.8 L378.4 758.0 L378.7 758.8 L379.0 755.7 L379.2 753.5 L379.5 750.9 L379.7 749.6 L380.0 749.2 L380.2 745.0 L380.5 744.4 L380.7 742.2 L381.0 738.9 L381.2 741.0 L381.5 739.9 L381.8 732.2 L382.0 729.7 L382.3 733.8 L382.6 729.4 L382.8 734.0 L383.1 726.3 L383.3 719.0 L383.6 721.2 L383.9 715.4 L384.1 720.6 L384.4 718.7 L384.7 714.4 L384.9 712.3 L385.2 718.2 L385.5 713.3 L385.7 718.6 L386.0 710.4 L386.2 712.6 L386.5 711.2 L386.8 709.1 L387.0 722.0 L387.3 718.0 L387.6 710.0 L387.8 715.3 L388.1 706.4 L388.4 717.5 L388.6 717.1 L388.9 712.3 L389.1 712.5 L389.4 714.9 L389.7 715.9 L389.9 713.3 L390.2 711.8 L390.5 713.2 L390.7 712.0 L391.0 715.6 L391.3 712.5 L391.5 712.4 L391.8 705.0 L392.0 708.9 L392.3 708.2 L392.6 707.1 L392.8 707.9 L393.1 706.6 L393.4 702.6 L393.6 711.7 L393.9 711.9 L394.1 707.2 L394.4 711.6 L394.6 706.4 L394.9 705.6 L395.1 709.7 L395.4 716.2 L395.6 710.7 L395.9 706.0 L396.1 712.6 L396.4 710.1 L396.6 709.9 L396.9 714.1 L397.1 706.9 L397.4 707.1 L397.7 708.7 L397.9 718.1 L398.2 715.0 L398.5 712.9 L398.7 713.0 L399.0 718.2 L399.2 720.7 L399.5 714.1 L399.8 718.0 L400.0 725.8 L400.3 720.0 L400.6 716.0 L400.8 717.7 L401.1 716.3 L401.4 717.6 L401.6 715.9 L401.9 712.2 L402.1 712.9 L402.4 714.0 L402.7 709.5 L402.9 711.6 L403.2 707.4 L403.5 714.0 L403.7 714.1 L404.0 704.5 L404.2 709.5 L404.5 706.1 L404.7 704.7 L405.0 702.5 L405.2 703.3 L405.5 704.8 L405.7 695.9 L406.0 702.8 L406.3 697.8 L406.5 694.4 L406.8 697.7 L407.0 699.7 L407.3 696.7 L407.6 697.7 L407.8 695.0 L408.1 693.9 L408.3 698.9 L408.6 691.6 L408.8 698.0 L409.1 695.2 L409.4 692.6 L409.6 692.4 L409.9 691.7 L410.1 692.2 L410.4 691.7 L410.4 683.0 L410.5 691.7 L410.7 691.5 L410.9 685.2 L411.2 684.6 L411.4 693.4 L411.7 690.0 L412.0 690.3 L412.2 691.8 L412.5 688.5 L412.7 698.0 L413.0 692.6 L413.2 692.0 L413.5 689.0 L413.8 695.9 L414.0 695.4 L414.3 698.2 L414.5 696.1 L414.8 690.2 L415.1 688.7 L415.3 698.0 L415.6 690.9 L415.8 693.0 L416.1 692.9 L416.1 680.0 L416.2 692.9 L416.4 695.1 L416.6 695.2 L416.9 689.6 L417.1 690.9 L417.4 687.0 L417.6 695.0 L417.9 692.4 L418.1 687.0 L418.4 696.5 L418.6 692.8 L418.9 689.1 L419.1 691.2 L419.4 690.5 L419.6 692.9 L419.9 693.1 L420.1 690.4 L420.4 693.8 L420.3 684.0 L420.5 693.8 L420.6 683.2 L420.9 691.0 L421.1 694.4 L421.4 695.4 L421.6 694.8 L421.9 688.3 L422.2 685.9 L422.4 690.6 L422.7 699.7 L422.9 692.6 L423.2 689.0 L423.4 685.7 L423.7 692.0 L423.9 689.8 L424.2 693.1 L424.4 692.0 L424.7 683.1 L424.9 690.7 L425.2 693.8 L425.4 689.0 L425.7 686.8 L425.9 686.9 L426.2 686.2 L426.4 698.4 L426.7 695.6 L426.9 688.5 L427.1 671.5 L427.0 688.5 L427.2 695.4 L427.1 671.5 L427.3 695.4 L427.4 686.8 L427.7 688.6 L428.0 688.1 L428.2 690.3 L428.5 693.5 L428.7 698.5 L429.0 694.3 L429.2 691.6 L429.5 692.8 L429.7 691.7 L430.0 694.0 L430.2 690.0 L430.5 694.1 L430.7 695.1 L431.0 697.0 L431.2 691.1 L431.5 695.7 L431.7 695.5 L431.8 676.0 L431.8 695.5 L432.0 691.9 L432.3 688.2 L432.5 693.5 L432.8 698.8 L433.0 695.1 L433.3 704.3 L433.5 698.7 L433.8 694.6 L434.0 697.1 L434.3 699.4 L434.5 699.8 L434.8 697.7 L435.0 700.4 L435.3 709.4 L435.5 702.7 L435.8 700.4 L436.0 698.6 L436.3 694.4 L436.6 701.5 L436.8 699.8 L437.1 701.4 L437.3 700.0 L437.6 704.9 L437.9 706.3 L438.1 700.5 L438.4 698.5 L438.6 704.6 L438.9 708.7 L439.1 705.6 L439.4 706.2 L439.7 700.1 L439.9 703.3 L440.2 707.6 L440.4 707.2 L440.7 706.2 L440.8 689.0 L440.8 706.2 L441.0 708.4 L440.8 689.0 L441.1 708.4 L441.2 709.5 L441.5 707.0 L441.7 704.5 L442.0 702.2 L442.2 708.0 L442.5 706.8 L442.7 707.0 L443.0 711.6 L443.2 705.7 L443.5 707.2 L443.7 710.5 L444.0 705.4 L444.2 701.2 L444.5 706.9 L444.7 711.7 L444.9 699.0 L444.8 711.7 L445.0 707.0 L444.9 699.0 L445.1 707.0 L445.3 708.5 L445.5 703.2 L445.8 714.0 L446.0 704.1 L446.3 708.1 L446.5 710.0 L446.8 717.6 L447.0 711.6 L447.3 709.0 L447.5 706.6 L447.8 710.9 L448.0 708.0 L448.3 710.3 L448.5 712.9 L448.8 717.2 L449.0 709.4 L449.3 718.2 L449.6 707.1 L449.8 720.7 L450.1 712.0 L450.3 713.2 L450.6 713.1 L450.8 715.8 L451.1 715.1 L451.3 714.4 L451.6 713.4 L451.8 714.2 L452.1 716.5 L452.3 714.7 L452.6 714.4 L452.8 712.1 L453.1 717.4 L453.3 719.2 L453.6 714.3 L453.9 721.2 L454.1 717.6 L454.4 718.0 L454.6 711.8 L454.9 719.7 L455.1 721.8 L455.4 724.1 L455.6 715.4 L455.9 717.2 L456.2 719.9 L456.4 719.1 L456.7 715.1 L456.9 717.4 L457.2 720.5 L457.4 719.0 L457.7 716.9 L458.0 720.6 L458.2 711.9 L458.5 718.5 L458.7 714.7 L459.0 715.6 L459.2 719.6 L459.5 722.7 L459.7 718.3 L460.0 717.1 L460.3 722.3 L460.5 719.2 L460.8 709.0 L461.0 714.5 L461.3 714.2 L461.5 714.2 L461.8 711.3 L462.0 718.6 L462.3 716.9 L462.6 722.3 L462.8 715.5 L463.1 716.9 L463.3 714.0 L463.6 720.0 L463.8 720.9 L464.1 722.4 L464.3 720.2 L464.6 714.8 L464.9 720.9 L465.1 713.8 L465.4 714.8 L465.6 716.3 L465.9 724.1 L466.1 714.6 L466.4 713.7 L466.6 717.9 L466.9 721.2 L467.2 719.1 L467.4 719.1 L467.7 714.5 L467.9 716.0 L468.2 721.7 L468.2 703.0 L468.3 721.7 L468.4 717.8 L468.7 715.3 L469.0 716.4 L469.2 722.1 L469.5 723.5 L469.7 719.1 L470.0 715.0 L470.2 723.4 L470.5 715.7 L470.7 718.2 L471.0 719.3 L471.3 717.9 L471.5 717.4 L471.8 723.5 L472.0 719.2 L472.3 713.3 L472.5 716.2 L472.8 722.7 L473.0 717.7 L473.3 714.9 L473.5 721.4 L473.8 720.0 L474.0 718.6 L474.3 720.4 L474.5 717.2 L474.8 719.2 L475.0 720.6 L475.3 716.8 L475.6 722.9 L475.8 715.2 L476.1 725.7 L476.3 719.1 L476.6 720.1 L476.8 714.8 L477.1 721.6 L477.3 716.2 L477.6 720.7 L477.8 719.1 L478.1 716.4 L478.3 725.1 L478.6 719.7 L478.8 717.5 L479.1 718.1 L479.3 720.4 L479.6 719.5 L479.9 722.3 L480.1 717.5 L480.4 720.2 L480.6 717.9 L480.9 717.2 L481.1 722.4 L481.4 716.9 L481.6 714.2 L481.9 722.0 L482.2 718.1 L482.4 721.7 L482.7 721.7 L482.9 721.6 L483.2 720.3 L483.4 725.2 L483.7 716.6 L484.0 724.0 L484.2 719.7 L484.5 721.2 L484.7 718.8 L485.0 723.2 L485.2 722.0 L485.5 718.9 L485.7 720.6 L486.0 722.1 L486.3 720.1 L486.5 728.9 L486.8 722.5 L487.0 719.4 L487.3 724.1 L487.5 721.7 L487.8 719.1 L488.0 719.7 L488.3 715.6 L488.6 723.5 L488.8 726.1 L489.1 720.8 L489.3 718.4 L489.6 715.4 L489.8 717.1 L490.1 721.2 L490.3 719.1 L490.6 720.8 L490.8 718.5 L491.1 720.8 L491.3 720.7 L491.6 722.1 L491.8 721.8 L492.1 722.2 L492.3 718.9 L492.6 720.7 L492.9 717.6 L493.1 720.0 L493.4 721.6 L493.6 723.2 L493.9 717.3 L494.1 718.7 L494.4 720.1 L494.6 717.9 L494.9 721.0 L495.1 721.3 L495.4 719.6 L495.6 727.5 L495.9 720.7 L496.1 723.0 L496.4 716.3 L496.6 725.0 L496.9 723.3 L497.2 723.0 L497.4 715.2 L497.7 722.2 L497.9 720.1 L498.2 723.8 L498.4 722.3 L498.7 720.7 L498.9 720.9 L499.2 726.6 L499.5 726.2 L499.7 716.8 L500.0 721.1 L500.2 724.7 L500.5 721.2 L500.7 723.7 L501.0 721.6 L501.2 728.2 L501.5 725.1 L501.8 722.1 L502.0 727.5 L502.3 725.0 L502.5 728.5 L502.8 721.3 L503.0 717.9 L503.3 725.6 L503.6 723.1 L503.8 717.1 L504.1 710.2 L504.3 723.3 L504.6 723.3 L504.8 720.4 L505.1 721.5 L505.3 723.5 L505.6 718.5 L505.9 727.4 L506.1 719.0 L506.4 723.6 L506.6 723.6 L506.9 722.1 L507.1 721.3 L507.4 726.8 L507.6 718.7 L507.9 724.2 L508.1 729.7 L508.4 721.8 L508.6 719.4 L508.9 723.0 L509.1 714.9 L509.4 722.3 L509.6 721.1 L509.9 722.3 L510.2 723.5 L510.5 729.9 L510.7 729.4 L511.0 727.3 L511.3 732.0" fill="none" stroke="#000" stroke-width="1.05" stroke-linejoin="round" stroke-linecap="round" />
<line x1="386" y1="662.7" x2="396.5" y2="662.7" stroke="#000" stroke-width="1.8"/>
<line x1="386" y1="673.7" x2="396.5" y2="673.7" stroke="#aaa" stroke-width="1.2"/>
<text x="401.30" y="666.20" font-size="9.6" text-anchor="start" fill="#000" >PDI CKO + wtPDI</text>
<text x="401.30" y="677.20" font-size="9.6" text-anchor="start" fill="#000" >PDI CKO + dmPDI</text>
</svg>
</body></html>
